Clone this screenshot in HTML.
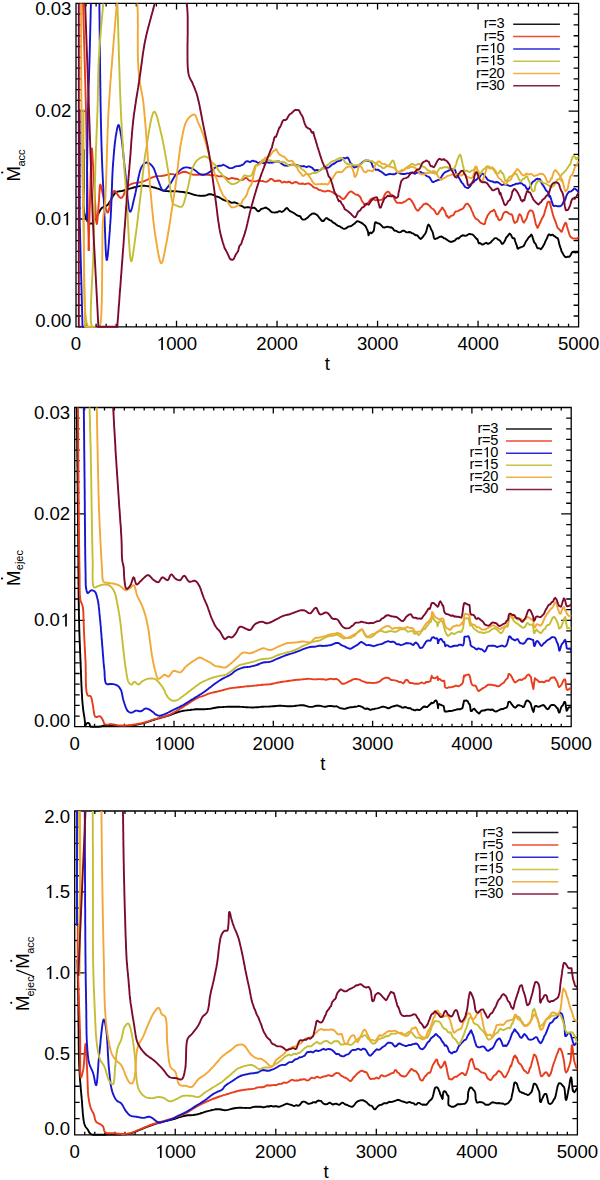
<!DOCTYPE html>
<html><head><meta charset="utf-8"><style>html,body{margin:0;padding:0;background:#fff;width:600px;height:1180px;overflow:hidden}svg{display:block}</style></head><body>
<svg width="600" height="1180" viewBox="0 0 600 1180">
<rect width="600" height="1180" fill="#fff"/>
<g font-family='"Liberation Sans", sans-serif' font-size="18.6" fill="#000">
<clipPath id="c1"><rect x="76" y="3.4" width="502.6" height="324.6"/></clipPath>
<path d="M76,3.4H578.6V326.8H76Z M76,326.8v-6.0 M76,3.4v6.0 M86.05,326.8v-3.0 M86.05,3.4v3.0 M96.1,326.8v-3.0 M96.1,3.4v3.0 M106.16,326.8v-3.0 M106.16,3.4v3.0 M116.21,326.8v-3.0 M116.21,3.4v3.0 M126.26,326.8v-3.0 M126.26,3.4v3.0 M136.31,326.8v-3.0 M136.31,3.4v3.0 M146.36,326.8v-3.0 M146.36,3.4v3.0 M156.42,326.8v-3.0 M156.42,3.4v3.0 M166.47,326.8v-3.0 M166.47,3.4v3.0 M176.52,326.8v-6.0 M176.52,3.4v6.0 M186.57,326.8v-3.0 M186.57,3.4v3.0 M196.62,326.8v-3.0 M196.62,3.4v3.0 M206.68,326.8v-3.0 M206.68,3.4v3.0 M216.73,326.8v-3.0 M216.73,3.4v3.0 M226.78,326.8v-3.0 M226.78,3.4v3.0 M236.83,326.8v-3.0 M236.83,3.4v3.0 M246.88,326.8v-3.0 M246.88,3.4v3.0 M256.94,326.8v-3.0 M256.94,3.4v3.0 M266.99,326.8v-3.0 M266.99,3.4v3.0 M277.04,326.8v-6.0 M277.04,3.4v6.0 M287.09,326.8v-3.0 M287.09,3.4v3.0 M297.14,326.8v-3.0 M297.14,3.4v3.0 M307.2,326.8v-3.0 M307.2,3.4v3.0 M317.25,326.8v-3.0 M317.25,3.4v3.0 M327.3,326.8v-3.0 M327.3,3.4v3.0 M337.35,326.8v-3.0 M337.35,3.4v3.0 M347.4,326.8v-3.0 M347.4,3.4v3.0 M357.46,326.8v-3.0 M357.46,3.4v3.0 M367.51,326.8v-3.0 M367.51,3.4v3.0 M377.56,326.8v-6.0 M377.56,3.4v6.0 M387.61,326.8v-3.0 M387.61,3.4v3.0 M397.66,326.8v-3.0 M397.66,3.4v3.0 M407.72,326.8v-3.0 M407.72,3.4v3.0 M417.77,326.8v-3.0 M417.77,3.4v3.0 M427.82,326.8v-3.0 M427.82,3.4v3.0 M437.87,326.8v-3.0 M437.87,3.4v3.0 M447.92,326.8v-3.0 M447.92,3.4v3.0 M457.98,326.8v-3.0 M457.98,3.4v3.0 M468.03,326.8v-3.0 M468.03,3.4v3.0 M478.08,326.8v-6.0 M478.08,3.4v6.0 M488.13,326.8v-3.0 M488.13,3.4v3.0 M498.18,326.8v-3.0 M498.18,3.4v3.0 M508.24,326.8v-3.0 M508.24,3.4v3.0 M518.29,326.8v-3.0 M518.29,3.4v3.0 M528.34,326.8v-3.0 M528.34,3.4v3.0 M538.39,326.8v-3.0 M538.39,3.4v3.0 M548.44,326.8v-3.0 M548.44,3.4v3.0 M558.5,326.8v-3.0 M558.5,3.4v3.0 M568.55,326.8v-3.0 M568.55,3.4v3.0 M578.6,326.8v-6.0 M578.6,3.4v6.0 M76,326.8h10.0 M578.6,326.8h-10.0 M76,316.02h5.0 M578.6,316.02h-5.0 M76,305.24h5.0 M578.6,305.24h-5.0 M76,294.46h5.0 M578.6,294.46h-5.0 M76,283.68h5.0 M578.6,283.68h-5.0 M76,272.9h5.0 M578.6,272.9h-5.0 M76,262.12h5.0 M578.6,262.12h-5.0 M76,251.34h5.0 M578.6,251.34h-5.0 M76,240.56h5.0 M578.6,240.56h-5.0 M76,229.78h5.0 M578.6,229.78h-5.0 M76,219h10.0 M578.6,219h-10.0 M76,208.22h5.0 M578.6,208.22h-5.0 M76,197.44h5.0 M578.6,197.44h-5.0 M76,186.66h5.0 M578.6,186.66h-5.0 M76,175.88h5.0 M578.6,175.88h-5.0 M76,165.1h5.0 M578.6,165.1h-5.0 M76,154.32h5.0 M578.6,154.32h-5.0 M76,143.54h5.0 M578.6,143.54h-5.0 M76,132.76h5.0 M578.6,132.76h-5.0 M76,121.98h5.0 M578.6,121.98h-5.0 M76,111.2h10.0 M578.6,111.2h-10.0 M76,100.42h5.0 M578.6,100.42h-5.0 M76,89.64h5.0 M578.6,89.64h-5.0 M76,78.86h5.0 M578.6,78.86h-5.0 M76,68.08h5.0 M578.6,68.08h-5.0 M76,57.3h5.0 M578.6,57.3h-5.0 M76,46.52h5.0 M578.6,46.52h-5.0 M76,35.74h5.0 M578.6,35.74h-5.0 M76,24.96h5.0 M578.6,24.96h-5.0 M76,14.18h5.0 M578.6,14.18h-5.0 M76,3.4h10.0 M578.6,3.4h-10.0" fill="none" stroke="#000" stroke-width="1.3"/>
<g clip-path="url(#c1)" fill="none" stroke-width="1.9" stroke-linejoin="round" stroke-linecap="round">
<polyline stroke="#000000" points="83.8,150.0 83.8,151.5 83.8,152.9 83.8,154.4 83.8,155.9 83.8,157.4 83.8,158.9 83.8,160.4 83.8,161.9 83.8,163.4 83.8,164.8 83.8,166.3 83.8,167.8 83.8,169.3 83.8,170.8 83.8,172.3 83.8,173.7 83.8,175.2 83.8,176.6 83.8,178.0 83.8,179.5 83.8,180.9 83.8,182.3 83.8,183.6 83.8,185.0 83.8,186.6 83.8,188.1 83.7,189.7 83.7,191.3 83.6,192.8 83.6,194.4 83.5,195.9 83.5,197.5 83.5,199.0 83.4,200.4 83.4,201.9 83.4,203.3 83.4,204.7 83.5,206.1 83.6,207.4 83.7,208.6 83.8,209.8 84.0,211.0 84.3,212.7 84.7,214.4 85.1,216.0 85.6,217.5 86.2,218.9 86.7,220.1 87.3,221.2 88.0,222.0 89.1,223.0 90.4,223.6 91.6,223.6 92.4,223.2 93.2,222.3 94.0,221.3 94.8,220.0 95.5,218.7 96.3,217.5 97.0,216.4 97.6,215.1 98.3,213.8 98.9,212.5 99.6,211.2 100.3,210.0 101.0,208.9 101.8,208.0 102.8,207.3 103.9,206.8 105.0,206.5 106.1,206.0 107.2,205.3 108.0,204.5 108.8,203.4 109.5,202.2 110.3,200.9 111.1,199.4 111.9,198.0 112.7,196.6 113.5,195.3 114.3,194.1 115.1,193.1 116.0,192.4 117.3,191.7 118.6,191.4 119.9,191.2 121.3,191.1 122.7,190.8 124.0,190.4 125.3,190.0 126.7,189.6 128.1,189.1 129.5,188.7 131.0,188.3 132.4,187.9 133.8,187.5 135.2,187.1 136.7,186.8 138.2,186.4 139.7,186.1 141.2,185.9 142.7,185.8 144.2,185.8 145.6,185.9 147.1,186.1 148.6,186.3 150.0,186.5 151.5,186.8 152.9,187.2 154.3,187.5 155.6,187.9 156.8,188.3 158.1,188.7 159.3,189.2 160.5,189.7 161.7,190.1 163.0,190.5 164.3,190.8 165.7,191.0 167.1,191.1 168.6,191.2 170.1,191.2 171.6,191.2 173.1,191.2 174.5,191.2 176.0,191.3 177.4,191.4 178.8,191.6 180.2,191.7 181.6,191.9 183.0,192.0 184.4,192.2 185.8,192.5 187.2,192.7 188.6,193.0 190.0,193.4 191.4,193.8 192.8,194.3 194.1,194.8 195.5,195.1 196.9,195.4 198.3,195.6 199.7,195.7 201.1,195.9 202.5,195.8 203.9,195.7 205.3,195.6 206.7,195.2 208.1,194.5 209.5,194.2 210.9,194.3 212.3,194.6 213.7,195.0 215.1,195.9 216.5,196.6 217.9,196.8 219.3,197.4 220.7,198.3 222.1,199.1 223.5,199.9 224.9,200.5 226.3,200.7 227.7,200.8 229.1,201.4 230.5,202.3 231.9,202.8 233.3,202.6 234.7,202.3 236.0,202.8 237.4,203.4 238.8,204.3 240.2,205.6 241.6,205.9 243.0,206.8 244.4,207.7 245.8,207.4 247.2,207.2 248.6,207.1 250.0,207.6 251.4,208.1 252.8,207.8 254.2,207.6 255.6,208.7 257.0,210.5 258.4,211.4 259.8,210.4 261.2,209.0 262.6,208.6 264.0,208.2 265.4,207.5 266.7,208.0 268.1,209.0 269.4,209.9 270.7,211.4 272.0,212.2 273.3,212.4 274.7,212.6 276.0,212.3 277.4,212.3 278.8,211.3 280.3,211.2 281.7,212.0 283.1,211.3 284.5,210.1 285.9,208.4 287.2,208.0 288.7,209.9 290.1,211.2 291.5,211.8 292.9,212.5 294.2,213.3 295.6,214.3 296.8,215.1 298.0,215.8 299.2,216.0 300.4,216.5 301.5,218.5 302.7,219.6 303.9,219.6 305.1,219.4 306.2,218.5 307.4,217.9 308.6,216.6 309.8,215.3 311.0,214.6 312.3,213.6 313.6,213.5 315.0,213.8 316.4,214.5 317.8,215.7 319.2,217.6 320.7,219.5 322.1,221.0 323.5,221.1 324.8,219.4 326.0,218.2 327.2,218.3 328.5,219.4 329.7,220.1 331.0,220.5 332.2,221.7 333.4,222.7 334.7,223.3 336.1,224.5 337.5,225.6 338.8,226.0 340.2,226.7 341.6,227.6 343.0,228.6 344.4,228.9 345.8,228.4 347.2,227.4 348.6,226.5 350.1,226.4 351.5,225.9 352.9,224.7 354.3,223.8 355.7,222.4 357.0,221.3 358.5,221.4 360.0,222.1 361.5,222.9 363.0,223.9 364.3,225.1 365.4,226.0 366.2,227.5 366.9,229.2 367.5,230.3 368.0,231.9 368.5,235.3 369.0,234.5 369.6,233.1 370.4,232.5 371.3,233.2 372.2,232.6 373.1,231.6 373.8,230.6 374.3,227.6 374.5,225.9 374.7,224.2 375.0,222.6 375.4,222.4 376.0,222.3 376.9,222.9 377.9,223.4 379.1,223.5 380.4,224.5 381.8,225.9 383.1,227.3 384.4,227.5 385.8,227.1 387.2,226.8 388.6,226.9 390.0,227.5 391.4,227.3 392.8,228.4 394.2,230.5 395.5,230.7 396.9,231.2 398.3,232.1 399.7,232.4 401.1,231.8 402.5,230.7 403.9,230.6 405.3,231.6 406.7,232.4 408.1,232.3 409.5,232.0 410.9,232.4 412.0,233.3 413.2,233.4 414.3,234.2 415.5,235.3 416.6,235.1 417.6,235.6 418.7,237.1 419.7,238.3 420.7,239.0 421.6,238.3 422.4,237.4 423.2,236.5 424.0,235.2 424.8,234.3 425.5,233.2 426.3,231.4 427.0,228.5 427.7,225.7 428.4,224.6 429.1,225.0 429.8,226.2 430.5,227.6 431.2,229.7 431.8,230.3 432.5,231.9 433.1,233.7 433.8,237.3 434.5,238.9 435.3,239.0 436.1,238.5 437.4,238.3 438.7,237.4 440.2,236.7 441.6,236.5 443.0,237.4 444.2,238.4 445.3,238.5 446.4,239.4 447.6,240.2 448.8,241.1 450.0,241.7 451.2,241.8 452.4,241.7 453.6,240.9 454.8,240.7 456.1,239.1 457.4,238.2 458.6,238.5 459.8,237.2 461.2,236.1 462.6,235.3 464.0,235.5 465.4,235.9 466.8,235.4 468.2,234.4 469.6,233.9 471.0,234.2 472.4,234.4 473.7,235.5 474.9,237.0 476.0,238.1 476.8,239.3 477.3,239.0 477.8,240.4 478.2,241.7 478.7,243.3 479.5,243.0 480.7,243.5 482.1,244.6 483.6,244.3 485.1,243.2 486.4,242.8 487.5,243.7 488.6,243.7 489.6,243.0 490.6,242.7 491.6,241.4 492.5,240.4 493.4,239.6 494.3,238.5 495.1,238.1 496.0,238.1 496.8,238.4 497.6,239.1 498.3,239.7 499.0,240.0 499.8,240.6 500.5,241.2 501.2,242.7 502.0,243.9 502.7,243.8 503.5,243.0 504.3,241.8 505.0,240.6 505.8,238.5 506.6,237.0 507.4,236.4 508.2,235.4 508.9,234.2 509.8,233.6 510.7,234.4 511.6,236.2 512.4,237.9 513.3,238.4 513.9,238.1 514.5,238.5 515.1,241.0 515.7,242.7 516.3,244.4 516.9,246.0 517.5,248.5 518.1,248.7 518.7,248.2 519.3,247.7 520.1,247.6 521.0,247.1 521.9,246.9 522.8,246.5 523.7,245.9 524.5,244.6 525.4,242.5 526.3,240.9 527.2,239.7 528.1,238.2 529.0,237.0 529.8,236.7 530.6,235.3 531.5,234.6 532.4,236.5 533.2,239.4 534.0,241.9 534.9,243.2 535.6,243.9 536.4,245.7 537.1,247.7 537.9,248.3 538.6,248.3 539.4,248.4 540.1,248.6 540.8,249.2 541.4,248.8 542.0,247.8 542.6,247.1 543.3,245.8 543.9,244.7 544.6,243.5 545.3,241.6 546.1,239.9 547.0,238.2 547.8,236.2 548.7,234.4 549.6,234.4 550.5,235.3 551.4,235.1 552.3,234.7 553.2,235.2 554.1,236.0 555.0,236.3 555.9,237.3 556.7,237.9 557.5,237.9 558.2,239.3 558.8,241.8 559.3,244.4 559.8,245.9 560.3,247.4 560.9,248.8 561.4,251.0 562.0,252.1 562.7,253.3 563.7,255.0 564.7,256.6 565.8,257.2 566.8,257.0 567.9,256.7 568.9,256.9 569.9,256.2 570.9,254.5 571.9,252.6 573.0,251.7 574.3,252.4 575.6,252.5 577.0,252.1 578.3,252.4"/>
<polyline stroke="#e83c1c" points="83.0,0.0 86.0,110.0 88.0,220.0 89.0,250.0"/>
<polyline stroke="#e83c1c" points="88.5,250.0 88.5,248.5 88.6,247.1 88.6,245.6 88.7,244.1 88.7,242.7 88.8,241.2 88.8,239.7 88.8,238.3 88.9,236.8 88.9,235.3 89.0,233.9 89.0,232.4 89.1,230.9 89.1,229.5 89.1,228.0 89.2,226.5 89.2,225.1 89.3,223.6 89.3,222.1 89.4,220.6 89.4,219.2 89.5,217.7 89.5,216.2 89.5,214.8 89.6,213.3 89.6,211.8 89.7,210.3 89.7,208.9 89.8,207.4 89.8,205.9 89.9,204.4 89.9,203.0 90.0,201.5 90.0,200.0 90.0,198.5 90.1,196.9 90.1,195.3 90.2,193.5 90.2,191.8 90.3,189.9 90.3,188.1 90.4,186.2 90.4,184.2 90.5,182.3 90.5,180.3 90.6,178.3 90.6,176.4 90.7,174.4 90.7,172.5 90.8,170.6 90.8,168.7 90.9,166.8 90.9,165.0 91.0,163.3 91.0,161.6 91.1,160.0 91.1,158.4 91.2,156.9 91.2,155.6 91.3,154.3 91.4,153.1 91.4,152.0 91.5,151.1 91.5,150.3 91.6,149.6 91.6,149.0 91.7,148.6 91.7,148.4 91.8,148.3 91.9,148.5 92.0,149.1 92.1,150.0 92.2,151.2 92.3,152.6 92.4,154.2 92.5,155.9 92.6,157.7 92.7,159.6 92.8,161.5 92.9,163.3 93.0,165.0 93.1,166.2 93.2,167.5 93.2,168.8 93.3,170.2 93.4,171.6 93.5,173.0 93.6,174.5 93.6,176.0 93.7,177.5 93.8,179.0 93.9,180.6 94.0,182.1 94.1,183.7 94.1,185.2 94.2,186.8 94.3,188.3 94.4,189.9 94.5,191.4 94.6,192.9 94.7,194.4 94.7,195.9 94.8,197.3 94.9,198.7 95.0,200.0 95.1,201.6 95.2,203.3 95.3,205.1 95.4,207.0 95.5,208.9 95.6,210.7 95.7,212.6 95.8,214.4 95.9,216.1 96.0,217.8 96.1,219.3 96.2,220.6 96.3,221.7 96.5,222.7 96.6,223.4 96.7,223.8 96.8,224.0 96.9,223.8 97.0,223.3 97.2,222.6 97.3,221.5 97.4,220.3 97.6,218.9 97.7,217.3 97.8,215.6 98.0,213.8 98.1,211.9 98.3,210.0 98.4,208.1 98.5,206.3 98.6,204.5 98.8,202.9 98.9,201.4 99.0,200.0 99.1,198.4 99.2,196.6 99.3,194.7 99.4,192.9 99.5,191.1 99.6,189.4 99.7,187.8 99.8,186.5 99.9,185.5 100.1,184.8 100.3,184.6 100.6,184.9 100.9,185.7 101.2,186.8 101.5,188.3 101.9,190.0 102.2,191.7 102.6,193.4 103.0,195.0 103.3,196.3 103.7,197.8 104.0,199.5 104.4,201.2 104.7,203.0 105.1,204.8 105.5,206.6 105.9,208.2 106.3,209.6 106.6,210.8 107.0,211.8 107.4,212.4 107.7,212.6 108.1,212.3 108.5,211.5 108.8,210.2 109.2,208.6 109.5,206.8 109.9,205.0 110.2,203.1 110.6,201.4 111.0,200.0 111.4,198.5 111.8,196.8 112.2,195.1 112.6,193.5 113.1,192.2 113.6,191.2 114.3,190.8 115.1,191.1 116.0,192.1 116.9,193.6 118.0,195.1 119.0,196.6 120.0,197.6 121.0,198.0 121.7,197.7 122.4,197.0 123.1,196.0 123.8,194.7 124.4,193.2 125.1,191.6 125.8,190.0 126.6,188.5 127.4,187.1 128.3,185.9 129.3,185.0 130.4,184.3 131.7,183.8 133.0,183.4 134.3,183.1 135.7,182.9 137.2,182.7 138.6,182.6 140.0,182.3 141.4,182.1 142.7,181.7 144.0,181.2 145.4,180.6 146.7,180.0 148.0,179.4 149.3,178.7 150.6,178.1 151.8,177.6 153.1,177.1 154.3,176.7 155.8,176.4 157.2,176.2 158.6,176.1 159.9,176.1 161.3,176.0 162.7,175.8 164.1,175.5 165.6,175.2 167.0,174.8 168.4,174.4 169.7,174.1 171.0,174.0 172.3,174.1 173.5,174.3 174.7,174.6 176.0,174.6 177.3,174.3 178.7,173.8 180.1,173.1 181.5,172.5 183.0,172.0 184.4,171.8 185.8,172.0 187.1,172.4 188.5,173.0 189.9,173.7 191.3,174.2 192.8,174.6 194.1,174.7 195.4,174.8 196.8,174.9 198.2,174.8 199.6,174.6 201.1,174.5 202.5,174.7 204.0,174.8 205.3,174.7 206.7,174.7 208.1,174.8 209.5,175.0 210.9,175.2 212.3,175.3 213.7,175.2 215.1,175.3 216.5,175.7 217.9,176.2 219.3,176.4 220.7,176.3 222.1,176.3 223.5,176.4 224.9,176.9 226.3,177.9 227.7,178.8 229.1,179.0 230.5,178.4 231.9,177.8 233.3,178.2 234.7,178.8 236.1,178.8 237.5,179.0 238.8,179.8 240.2,180.2 241.6,180.1 243.0,179.9 244.4,178.7 245.8,177.7 247.2,178.5 248.6,180.1 250.0,180.9 251.3,180.8 252.7,181.1 254.1,181.4 255.5,181.4 256.9,180.9 258.4,180.3 259.8,180.7 261.2,181.1 262.7,181.0 264.2,181.6 265.7,181.9 267.3,181.5 268.8,180.5 270.3,179.0 271.8,178.9 273.2,180.0 274.6,181.2 276.0,181.0 277.5,180.7 278.9,180.5 280.4,180.9 281.7,182.5 283.1,182.4 284.4,181.7 285.8,182.3 287.2,182.4 288.6,181.7 290.0,182.0 291.4,183.3 292.8,183.2 294.1,182.4 295.5,182.0 296.9,182.3 298.3,183.3 299.7,183.9 301.1,183.7 302.5,183.5 303.9,183.9 305.3,184.2 306.7,183.7 308.1,183.3 309.5,183.8 310.8,184.7 312.0,185.6 313.3,187.1 314.5,187.8 315.7,187.9 316.9,188.3 318.2,189.4 319.4,190.1 320.7,190.1 322.1,190.8 323.5,191.3 324.9,191.5 326.3,191.1 327.7,190.6 329.1,190.9 330.5,191.4 331.9,191.8 333.2,192.8 334.5,193.5 335.8,194.2 337.0,195.3 338.3,195.8 339.5,196.2 340.8,197.4 341.9,198.6 343.0,199.1 344.3,198.6 345.5,197.1 346.6,195.6 347.7,194.1 348.8,192.7 350.0,191.6 351.4,191.5 352.8,192.4 354.2,193.4 355.6,194.6 357.0,194.8 358.0,194.8 358.9,195.9 359.9,196.6 360.8,198.1 361.7,200.5 362.6,201.8 363.6,203.1 364.5,204.8 365.4,205.5 366.6,204.7 367.8,203.4 369.0,201.6 370.2,199.7 371.3,198.8 372.4,198.4 373.6,199.1 374.7,200.1 376.0,200.2 377.0,199.8 378.2,200.0 379.5,200.2 380.7,199.9 382.0,199.8 383.3,198.1 384.4,195.3 385.6,193.3 386.8,192.1 387.9,191.7 389.0,192.1 390.0,193.8 390.9,194.9 391.6,194.8 392.3,195.1 393.0,196.0 393.8,197.6 394.6,199.3 395.6,201.1 396.8,202.7 398.2,202.9 399.7,202.6 401.2,203.1 402.7,202.7 404.0,201.8 405.2,201.6 406.3,200.6 407.4,199.6 408.4,199.2 409.5,198.7 410.4,199.4 411.3,200.4 412.3,201.9 413.2,203.5 414.1,205.2 415.1,207.5 416.0,209.1 417.0,210.1 417.9,210.7 419.1,209.7 420.2,207.9 421.4,207.2 422.5,205.7 423.7,204.2 424.9,204.0 426.1,203.5 427.3,204.0 428.5,205.0 429.7,205.8 430.8,207.4 431.9,208.5 433.0,209.0 433.9,209.7 434.8,210.9 435.7,212.9 436.6,214.0 437.5,214.2 438.4,213.5 439.3,211.6 440.3,210.5 441.2,209.2 442.1,207.5 443.0,208.0 443.7,209.7 444.3,210.4 444.9,211.1 445.5,212.8 446.0,214.6 446.6,216.3 447.2,215.7 447.9,216.8 448.6,217.9 449.5,217.6 450.4,216.3 451.3,215.7 452.3,215.6 453.3,215.3 454.4,213.2 455.6,211.4 456.7,211.4 457.9,211.1 459.2,210.4 460.6,209.7 461.9,209.1 463.3,208.3 464.6,206.0 465.7,204.2 466.8,203.8 467.9,203.8 469.0,205.3 469.9,206.6 470.8,208.0 471.6,210.3 472.4,211.9 473.1,213.3 473.6,215.4 474.1,216.0 474.6,216.8 475.2,218.0 476.0,218.8 477.0,219.3 478.2,220.0 479.4,221.6 480.7,222.9 481.9,223.4 483.0,223.9 483.8,224.2 484.5,224.2 485.1,223.1 485.7,220.0 486.3,218.4 486.8,218.0 487.4,215.8 488.1,214.8 488.9,213.8 489.8,212.5 490.7,211.8 491.6,211.1 492.5,211.0 493.3,210.4 493.9,209.7 494.5,211.0 495.1,211.3 495.6,213.0 496.1,214.9 496.7,216.6 497.3,216.3 497.9,217.9 498.5,219.6 499.3,220.2 500.1,219.8 500.9,219.5 501.8,218.2 502.7,215.4 503.6,213.1 504.6,212.2 505.8,211.8 507.0,212.0 508.3,212.9 509.6,214.0 510.7,214.5 511.6,214.2 512.4,215.5 513.1,218.7 513.8,221.2 514.5,222.8 515.2,222.9 515.9,222.2 516.6,221.9 517.4,220.7 518.1,218.1 518.8,215.5 519.5,214.2 520.2,214.5 520.9,215.5 521.6,217.2 522.2,219.5 522.9,221.5 523.7,222.6 524.4,222.2 525.1,220.6 525.9,219.5 526.7,218.1 527.6,214.9 528.4,212.5 529.2,211.3 530.0,210.5 530.8,210.3 531.5,210.6 532.1,210.9 532.6,211.2 533.1,212.5 533.6,214.0 534.0,215.8 534.4,217.8 534.9,219.7 535.3,221.7 535.7,223.5 536.1,225.0 536.6,225.6 537.0,226.8 537.5,227.9 538.1,227.2 538.8,225.4 539.4,224.1 540.1,222.8 540.7,221.5 541.4,219.8 542.1,218.2 542.7,217.4 543.2,216.6 543.8,215.2 544.3,213.6 544.8,211.8 545.3,210.1 545.8,208.4 546.3,206.8 546.8,205.3 547.3,202.9 547.8,202.2 548.3,201.6 548.8,201.8 549.3,202.2 549.8,201.8 550.2,204.4 550.7,205.8 551.1,207.4 551.6,209.2 552.0,211.0 552.5,212.9 552.9,214.7 553.5,216.4 554.0,217.9 554.6,219.3 555.2,220.9 555.8,222.5 556.4,224.2 557.1,226.4 557.7,228.0 558.4,228.6 559.1,229.1 559.7,229.9 560.3,230.5 560.9,231.4 561.7,231.8 562.4,230.2 563.1,227.8 563.8,226.1 564.5,224.5 565.3,222.8 565.8,222.8 566.4,223.5 566.9,226.2 567.4,227.7 567.9,229.5 568.5,231.3 569.0,233.2 569.6,235.0 570.2,236.5 570.8,237.0 571.5,237.4 572.2,238.2 573.3,238.6 574.5,238.4 575.8,238.7 577.1,238.7 578.3,237.3"/>
<polyline stroke="#1616d2" points="91.0,0.0 91.0,1.5 90.9,2.9 90.9,4.4 90.9,5.9 90.8,7.4 90.8,8.8 90.7,10.3 90.7,11.8 90.7,13.3 90.6,14.8 90.6,16.2 90.6,17.7 90.5,19.2 90.5,20.7 90.5,22.2 90.4,23.7 90.4,25.2 90.3,26.6 90.3,28.1 90.3,29.6 90.2,31.1 90.2,32.6 90.2,34.0 90.1,35.5 90.1,37.0 90.1,38.5 90.0,39.9 90.0,41.4 89.9,42.8 89.9,44.3 89.9,45.7 89.8,47.2 89.8,48.6 89.8,50.1 89.7,51.5 89.7,52.9 89.7,54.4 89.6,55.8 89.6,57.2 89.5,58.6 89.5,60.0 89.5,61.5 89.4,63.1 89.4,64.6 89.3,66.1 89.3,67.6 89.2,69.1 89.2,70.6 89.1,72.1 89.1,73.6 89.0,75.0 89.0,76.5 89.0,78.0 88.9,79.4 88.9,80.9 88.8,82.4 88.8,83.8 88.7,85.3 88.7,86.7 88.6,88.2 88.6,89.6 88.5,91.1 88.5,92.5 88.4,94.0 88.4,95.4 88.4,96.9 88.3,98.3 88.3,99.8 88.2,101.2 88.2,102.7 88.1,104.1 88.1,105.6 88.1,107.1 88.0,108.5 88.0,110.0 88.0,111.5 87.9,112.9 87.9,114.4 87.9,115.9 87.8,117.3 87.8,118.8 87.8,120.2 87.8,121.7 87.7,123.1 87.7,124.6 87.7,126.0 87.6,127.5 87.6,128.9 87.6,130.4 87.6,131.8 87.5,133.3 87.5,134.7 87.5,136.2 87.5,137.6 87.5,139.1 87.4,140.5 87.4,142.0 87.4,143.5 87.4,145.0 87.4,146.4 87.3,147.9 87.3,149.4 87.3,150.9 87.3,152.4 87.3,153.9 87.2,155.4 87.2,156.9 87.2,158.5 87.2,160.0 87.2,161.4 87.2,162.8 87.2,164.2 87.2,165.6 87.1,167.1 87.1,168.5 87.1,169.9 87.1,171.4 87.1,172.8 87.1,174.3 87.1,175.7 87.1,177.2 87.1,178.6 87.1,180.1 87.1,181.5 87.1,183.0 87.1,184.5 87.1,186.0 87.1,187.4 87.1,188.9 87.1,190.4 87.1,191.9 87.0,193.4 87.0,194.8 87.0,196.3 87.0,197.8 87.0,199.3 87.0,200.8 87.0,202.3 87.0,203.8 87.0,205.2 87.0,206.7 87.0,208.2 87.0,209.7 87.0,211.2 87.0,212.6 87.0,214.1 87.0,215.6 87.0,217.1 87.0,218.5 87.0,220.0"/>
<polyline stroke="#1616d2" points="79.7,110.0 79.7,220.0 82.5,326.8 84.5,326.8"/>
<polyline stroke="#1616d2" points="99.3,0.0 99.3,1.5 99.3,3.0 99.4,4.5 99.4,6.0 99.4,7.5 99.4,9.0 99.4,10.6 99.4,12.1 99.5,13.7 99.5,15.2 99.5,16.8 99.5,18.3 99.5,19.9 99.6,21.4 99.6,23.0 99.6,24.6 99.6,26.1 99.6,27.7 99.6,29.3 99.7,30.9 99.7,32.5 99.7,34.0 99.7,35.6 99.7,37.2 99.7,38.8 99.8,40.4 99.8,41.9 99.8,43.5 99.8,45.1 99.8,46.7 99.9,48.3 99.9,49.8 99.9,51.4 99.9,53.0 99.9,54.6 99.9,56.1 100.0,57.7 100.0,59.2 100.0,60.8 100.0,62.3 100.0,63.9 100.1,65.4 100.1,66.9 100.1,68.5 100.1,70.0 100.1,71.5 100.1,73.0 100.2,74.5 100.2,76.0 100.2,77.5 100.2,79.0 100.2,80.4 100.3,81.9 100.3,83.4 100.3,84.8 100.3,86.2 100.3,87.6 100.4,89.1 100.4,90.5 100.4,91.9 100.4,93.2 100.4,94.6 100.5,96.0 100.5,97.3 100.5,98.6 100.5,99.9 100.5,101.3 100.6,102.5 100.6,103.8 100.6,105.1 100.6,106.3 100.7,107.6 100.7,108.8 100.7,110.0 100.7,111.7 100.8,113.5 100.8,115.1 100.8,116.8 100.9,118.4 100.9,120.0 100.9,121.6 101.0,123.2 101.0,124.7 101.0,126.2 101.1,127.8 101.1,129.2 101.1,130.7 101.2,132.2 101.2,133.6 101.2,135.0 101.3,136.5 101.3,137.9 101.3,139.3 101.4,140.7 101.4,142.0 101.5,143.4 101.5,144.8 101.5,146.2 101.6,147.5 101.6,148.9 101.7,150.3 101.7,151.7 101.8,153.0 101.8,154.4 101.9,155.8 101.9,157.2 101.9,158.6 102.0,160.0 102.1,161.5 102.1,163.0 102.2,164.6 102.2,166.0 102.3,167.5 102.4,169.0 102.4,170.5 102.5,171.9 102.6,173.4 102.6,174.8 102.7,176.3 102.8,177.7 102.8,179.2 102.9,180.6 103.0,182.0 103.0,183.5 103.1,184.9 103.2,186.4 103.3,187.9 103.3,189.3 103.4,190.8 103.5,192.3 103.5,193.8 103.6,195.3 103.7,196.8 103.8,198.3 103.8,199.9 103.9,201.4 104.0,203.0 104.1,204.4 104.1,205.9 104.2,207.4 104.3,209.1 104.3,210.7 104.4,212.5 104.4,214.3 104.5,216.1 104.6,217.9 104.6,219.8 104.7,221.7 104.8,223.7 104.8,225.6 104.9,227.6 105.0,229.5 105.0,231.5 105.1,233.4 105.2,235.3 105.2,237.2 105.3,239.0 105.4,240.8 105.4,242.6 105.5,244.3 105.6,246.0 105.6,247.6 105.7,249.1 105.8,250.6 105.9,252.0 105.9,253.3 106.0,254.5 106.1,255.6 106.2,256.5 106.3,257.4 106.4,258.2 106.4,258.8 106.5,259.3 106.6,259.7 106.7,259.9 106.8,260.0 106.9,259.9 107.0,259.6 107.2,259.1 107.3,258.4 107.4,257.6 107.6,256.6 107.7,255.5 107.9,254.2 108.0,252.8 108.1,251.3 108.3,249.8 108.4,248.1 108.6,246.3 108.7,244.5 108.9,242.6 109.0,240.7 109.2,238.7 109.3,236.8 109.5,234.8 109.6,232.8 109.8,230.9 109.9,228.9 110.0,227.0 110.1,225.2 110.3,223.4 110.4,221.6 110.5,220.0 110.6,218.6 110.7,217.2 110.8,215.8 110.8,214.3 110.9,212.9 111.0,211.4 111.1,209.9 111.1,208.4 111.2,206.9 111.3,205.3 111.3,203.8 111.4,202.2 111.5,200.7 111.5,199.1 111.6,197.5 111.6,195.9 111.7,194.4 111.7,192.8 111.8,191.2 111.8,189.7 111.9,188.1 112.0,186.5 112.0,185.0 112.1,183.4 112.1,181.9 112.2,180.4 112.2,178.9 112.3,177.4 112.4,175.9 112.4,174.5 112.5,173.1 112.6,171.7 112.7,170.3 112.7,168.9 112.8,167.6 112.9,166.3 113.0,165.0 113.1,163.4 113.2,161.7 113.4,160.1 113.5,158.5 113.6,156.9 113.7,155.3 113.9,153.7 114.0,152.2 114.1,150.7 114.3,149.2 114.4,147.7 114.6,146.2 114.7,144.8 114.8,143.5 115.0,142.1 115.2,140.8 115.3,139.6 115.5,138.4 115.6,137.2 115.8,136.1 116.0,135.0 116.3,133.1 116.7,131.2 117.0,129.3 117.4,127.6 117.8,126.2 118.1,125.3 118.5,125.0 118.9,125.3 119.2,126.2 119.6,127.6 119.9,129.2 120.3,131.1 120.7,133.1 121.0,135.0 121.2,136.0 121.4,137.2 121.5,138.3 121.7,139.6 121.9,140.8 122.0,142.2 122.2,143.5 122.4,145.0 122.5,146.4 122.7,147.9 122.8,149.4 123.0,151.0 123.2,152.5 123.3,154.1 123.5,155.7 123.6,157.3 123.8,158.9 124.0,160.5 124.1,162.1 124.3,163.7 124.5,165.3 124.6,166.9 124.8,168.5 125.0,170.0 125.2,171.4 125.3,172.9 125.5,174.6 125.7,176.2 125.8,178.0 126.0,179.8 126.1,181.6 126.3,183.5 126.5,185.4 126.6,187.3 126.8,189.2 127.0,191.1 127.1,193.0 127.3,194.9 127.5,196.7 127.6,198.4 127.8,200.1 128.0,201.7 128.2,203.3 128.4,204.7 128.5,206.1 128.7,207.3 128.9,208.4 129.1,209.3 129.3,210.1 129.5,210.8 129.8,211.3 130.0,211.6 130.2,211.7 130.6,211.5 130.9,210.9 131.3,210.0 131.7,208.8 132.1,207.4 132.5,205.8 132.9,204.0 133.3,202.2 133.7,200.3 134.2,198.4 134.6,196.7 135.0,195.0 135.3,193.7 135.6,192.4 135.9,190.9 136.2,189.4 136.5,187.8 136.8,186.2 137.1,184.6 137.4,183.0 137.7,181.3 138.0,179.7 138.4,178.1 138.7,176.5 139.0,175.0 139.4,173.5 139.7,172.1 140.1,170.8 140.5,169.6 140.9,168.5 141.3,167.5 141.8,166.7 142.7,165.4 143.7,164.2 144.7,163.3 145.7,162.7 146.8,162.5 148.0,162.7 149.2,163.3 150.4,164.3 151.6,165.4 152.7,166.7 153.4,167.7 154.0,168.8 154.5,170.1 155.0,171.5 155.5,172.9 156.0,174.4 156.5,175.9 157.0,177.3 157.5,178.7 158.0,180.0 158.6,181.4 159.1,182.9 159.7,184.4 160.3,186.0 160.9,187.4 161.5,188.7 162.2,189.7 162.8,190.5 163.5,190.8 164.4,190.6 165.4,189.9 166.3,188.9 167.3,187.6 168.3,186.3 169.3,185.0 170.1,184.0 170.8,182.9 171.5,181.7 172.2,180.5 172.9,179.2 173.6,178.0 174.4,176.8 175.2,175.6 176.0,174.6 176.9,173.5 177.9,172.4 178.9,171.4 180.0,170.4 181.1,169.4 182.2,168.6 183.3,168.0 184.4,167.6 185.8,167.4 187.2,167.4 188.6,167.6 190.0,168.0 191.4,168.4 192.8,168.9 194.0,169.5 195.2,170.4 196.4,171.3 197.5,172.4 198.7,173.3 199.9,174.1 201.1,174.6 202.5,174.8 203.8,174.7 205.2,174.3 206.6,173.9 208.1,173.0 209.5,172.1 210.7,171.4 211.9,170.2 213.1,169.1 214.4,168.2 215.6,167.3 216.9,166.5 218.1,166.0 219.4,165.7 220.7,165.8 222.1,165.4 223.5,164.7 224.9,165.5 226.3,166.3 227.7,167.1 229.1,168.1 230.5,168.1 231.9,168.1 233.3,167.7 234.7,166.7 236.1,166.3 237.5,166.1 238.8,166.0 240.2,165.8 241.6,165.2 243.0,164.6 244.4,163.2 245.8,161.6 247.2,161.1 248.6,161.5 250.0,162.1 251.4,161.2 252.8,160.7 254.2,161.3 255.6,161.4 257.0,162.3 258.4,163.2 259.8,162.3 261.2,162.1 262.6,163.0 264.0,163.2 265.4,162.6 266.7,162.0 268.1,162.6 269.4,162.8 270.7,162.4 272.0,162.7 273.4,162.4 274.7,161.8 276.0,161.8 277.4,161.5 278.8,161.2 280.2,162.6 281.6,163.7 283.0,164.6 284.4,165.5 285.8,165.6 287.2,165.9 288.6,165.4 290.0,164.9 291.3,164.8 292.7,164.6 294.1,164.4 295.5,164.8 296.9,165.3 298.3,165.4 299.7,165.8 301.1,166.3 302.5,166.4 303.9,166.0 305.3,166.7 306.7,167.2 308.1,166.4 309.5,166.4 310.9,167.2 312.3,167.8 313.7,169.6 315.1,170.7 316.5,169.9 317.9,170.2 319.3,170.8 320.7,169.9 322.1,168.6 323.5,168.2 324.9,168.3 326.3,167.7 327.6,167.8 329.0,167.4 330.5,166.0 331.9,164.8 333.1,164.0 334.4,163.5 335.7,162.6 337.0,161.6 338.3,161.1 339.6,160.9 340.9,160.4 342.1,158.9 343.4,157.9 344.6,158.2 345.8,158.2 347.0,157.5 348.2,158.0 349.3,160.4 350.4,162.8 351.5,164.0 352.6,165.2 353.7,167.2 354.7,167.6 355.9,166.6 357.0,166.7 358.2,166.0 359.5,164.8 360.8,163.9 362.1,162.6 363.4,161.6 364.7,160.7 365.9,160.4 367.1,160.7 368.2,160.6 369.3,161.2 370.3,161.7 371.2,162.2 372.1,164.6 373.0,166.9 373.9,167.9 374.9,169.0 376.0,169.9 377.1,169.6 378.3,169.7 379.5,170.8 380.7,171.4 382.0,172.2 383.3,173.2 384.6,174.5 385.9,175.2 387.2,174.6 388.6,174.2 389.9,174.0 391.3,174.1 392.7,174.2 394.1,174.3 395.5,173.8 396.9,172.4 398.3,172.4 399.7,173.3 401.1,173.9 402.5,174.0 403.9,174.0 405.3,174.0 406.7,173.4 408.1,173.4 409.5,173.2 410.9,172.7 412.3,172.4 413.7,173.4 415.1,173.7 416.5,172.7 417.9,172.5 419.3,172.1 420.7,171.9 421.9,173.0 423.0,173.3 424.2,173.4 425.4,174.9 426.6,176.0 427.7,176.5 428.9,176.8 430.0,178.0 431.1,180.0 432.2,181.6 433.3,182.2 434.6,181.5 435.8,180.9 437.0,180.5 438.2,179.9 439.4,179.8 440.6,178.2 441.8,176.1 443.0,174.4 444.1,173.0 445.2,172.2 446.4,171.7 447.5,171.2 448.6,170.6 449.8,169.9 450.8,169.4 451.8,169.1 452.8,169.2 453.7,169.3 454.5,169.3 455.3,170.4 456.0,172.8 456.7,174.8 457.4,175.3 458.2,176.1 458.9,177.7 459.8,179.3 460.8,181.1 461.8,182.6 462.8,183.6 463.9,185.3 465.0,186.9 466.1,187.5 467.1,188.0 468.2,188.0 469.3,187.1 470.5,185.9 471.6,183.7 472.7,182.7 473.8,181.9 474.9,180.2 476.0,180.0 477.2,178.9 478.4,177.8 479.6,177.2 480.8,175.3 481.9,173.6 483.0,173.8 484.1,175.0 485.0,176.2 486.0,177.3 487.0,178.9 488.1,180.1 489.4,180.5 490.8,181.3 492.2,181.4 493.7,182.0 495.1,182.5 496.5,182.0 497.9,182.3 499.2,183.1 500.6,184.3 502.0,185.1 503.4,184.5 504.8,184.3 506.1,184.7 507.5,185.1 508.9,185.6 510.3,186.0 511.7,185.6 513.1,184.9 514.5,184.6 515.9,183.7 517.1,183.6 518.3,183.7 519.5,183.2 520.7,183.2 521.8,183.4 522.8,184.4 523.8,185.3 524.7,185.3 525.5,186.3 526.3,188.0 527.2,189.0 528.0,189.3 528.8,188.9 529.7,187.5 530.5,185.8 531.4,184.2 532.2,182.4 533.2,181.6 534.5,180.8 535.8,179.3 537.2,178.8 538.4,179.0 539.2,179.0 540.0,179.3 540.7,180.5 541.4,182.8 542.1,184.2 542.8,185.0 543.6,186.1 544.6,187.8 545.7,189.9 546.7,191.0 547.8,191.8 548.8,194.5 549.4,196.9 550.0,195.9 550.5,197.4 551.0,198.9 551.5,200.5 552.0,202.1 552.5,203.6 553.0,205.3 553.6,205.8 554.2,206.1 554.9,205.7 556.2,205.9 557.6,206.2 558.9,206.2 560.1,206.2 560.9,205.8 561.6,205.3 562.2,204.5 562.8,203.3 563.5,202.0 564.2,201.4 564.9,200.4 565.6,198.6 566.3,196.1 567.1,194.3 567.9,193.2 568.9,191.8 569.9,191.7 571.0,191.4 572.1,190.5 573.0,189.9 574.0,188.7 574.8,188.6 575.7,189.4 576.6,189.9 577.4,190.9 578.3,192.0"/>
<polyline stroke="#c4be34" points="83.5,110.0 83.5,220.0 85.0,326.8 88.0,326.8"/>
<polyline stroke="#c4be34" points="103.5,0.0 103.4,1.5 103.3,2.9 103.1,4.4 103.0,5.9 102.9,7.4 102.8,8.9 102.6,10.3 102.5,11.8 102.4,13.3 102.2,14.8 102.1,16.2 102.0,17.7 101.8,19.2 101.7,20.7 101.6,22.1 101.5,23.6 101.3,25.1 101.2,26.6 101.1,28.1 100.9,29.5 100.8,31.0 100.7,32.5 100.6,34.0 100.4,35.4 100.3,36.9 100.2,38.4 100.1,39.9 100.0,41.3 99.9,42.8 99.8,44.3 99.6,45.7 99.5,47.2 99.4,48.7 99.3,50.1 99.3,51.6 99.2,53.1 99.1,54.5 99.0,56.0 98.9,57.5 98.8,58.9 98.8,60.4 98.7,61.9 98.7,63.4 98.6,64.8 98.5,66.3 98.5,67.8 98.4,69.2 98.4,70.7 98.4,72.2 98.3,73.7 98.3,75.1 98.2,76.6 98.2,78.1 98.2,79.5 98.1,81.0 98.1,82.5 98.1,83.9 98.1,85.4 98.0,86.8 98.0,88.3 98.0,89.8 97.9,91.2 97.9,92.7 97.9,94.1 97.9,95.6 97.8,97.0 97.8,98.5 97.8,99.9 97.7,101.4 97.7,102.8 97.7,104.3 97.6,105.7 97.6,107.1 97.5,108.6 97.5,110.0 97.5,111.5 97.4,113.0 97.3,114.4 97.3,115.9 97.2,117.3 97.2,118.8 97.1,120.2 97.1,121.6 97.0,123.0 97.0,124.4 96.9,125.8 96.9,127.2 96.8,128.6 96.7,130.0 96.7,131.4 96.6,132.8 96.6,134.2 96.5,135.6 96.4,137.0 96.4,138.5 96.3,139.9 96.3,141.4 96.2,142.8 96.2,144.3 96.1,145.8 96.0,147.3 96.0,148.8 95.9,150.3 95.9,151.9 95.8,153.5 95.8,155.1 95.7,156.7 95.7,158.3 95.6,160.0 95.6,161.3 95.5,162.6 95.5,163.9 95.4,165.2 95.4,166.5 95.4,167.8 95.3,169.2 95.3,170.6 95.3,171.9 95.2,173.3 95.2,174.7 95.1,176.1 95.1,177.6 95.1,179.0 95.0,180.5 95.0,181.9 95.0,183.4 94.9,184.8 94.9,186.3 94.8,187.8 94.8,189.3 94.8,190.8 94.7,192.3 94.7,193.8 94.7,195.4 94.6,196.9 94.6,198.4 94.6,200.0 94.5,201.5 94.5,203.0 94.5,204.6 94.4,206.1 94.4,207.7 94.4,209.2 94.3,210.8 94.3,212.3 94.2,213.9 94.2,215.4 94.2,217.0 94.1,218.5 94.1,220.1 94.1,221.6 94.1,223.2 94.0,224.7 94.0,226.2 94.0,227.8 93.9,229.3 93.9,230.8 93.9,232.3 93.8,233.9 93.8,235.4 93.8,236.9 93.7,238.4 93.7,239.8 93.7,241.3 93.6,242.8 93.6,244.2 93.6,245.7 93.6,247.1 93.5,248.6 93.5,250.0 93.5,251.6 93.4,253.2 93.4,254.8 93.3,256.5 93.2,258.2 93.2,259.9 93.1,261.7 93.0,263.5 92.9,265.3 92.8,267.1 92.7,269.0 92.6,270.8 92.5,272.7 92.4,274.6 92.3,276.5 92.2,278.4 92.1,280.3 92.0,282.2 91.9,284.1 91.8,285.9 91.7,287.8 91.6,289.7 91.5,291.5 91.4,293.4 91.3,295.2 91.3,297.0 91.2,298.7 91.1,300.5 91.0,302.2 91.0,303.8 90.9,305.5 90.9,307.1 90.8,308.6 90.8,310.1 90.8,311.6 90.7,313.0 90.7,314.4 90.7,315.7 90.8,316.9 90.8,318.1 90.8,319.3 90.9,320.3 90.9,321.3 91.0,322.3 91.1,323.1 91.2,323.9 91.3,324.6 91.5,325.2 91.6,325.7 91.8,326.2 92.0,326.5 92.2,326.8 93.3,326.8 94.5,326.8"/>
<polyline stroke="#c4be34" points="117.3,0.0 117.3,1.5 117.4,3.0 117.4,4.5 117.5,6.0 117.5,7.5 117.6,9.0 117.6,10.5 117.7,12.0 117.7,13.5 117.8,15.0 117.8,16.5 117.9,18.0 117.9,19.5 118.0,21.0 118.0,22.6 118.0,24.1 118.1,25.6 118.1,27.1 118.2,28.7 118.2,30.2 118.3,31.7 118.3,33.2 118.4,34.8 118.4,36.3 118.4,37.8 118.5,39.4 118.5,40.9 118.6,42.4 118.6,44.0 118.7,45.5 118.7,47.0 118.7,48.6 118.8,50.1 118.8,51.6 118.9,53.1 118.9,54.7 119.0,56.2 119.0,57.7 119.1,59.2 119.1,60.8 119.1,62.3 119.2,63.8 119.2,65.3 119.3,66.8 119.3,68.3 119.4,69.8 119.4,71.3 119.5,72.9 119.5,74.4 119.6,75.8 119.6,77.3 119.7,78.8 119.7,80.3 119.8,81.8 119.8,83.3 119.9,84.8 119.9,86.2 120.0,87.7 120.0,89.2 120.1,90.6 120.1,92.1 120.2,93.5 120.2,95.0 120.3,96.4 120.3,97.8 120.4,99.3 120.4,100.7 120.5,102.1 120.6,103.5 120.6,104.9 120.7,106.3 120.7,107.7 120.8,109.1 120.9,110.5 120.9,111.9 121.0,113.3 121.0,114.6 121.1,116.0 121.2,117.3 121.2,118.7 121.3,120.0 121.4,121.6 121.5,123.2 121.6,124.9 121.6,126.5 121.7,128.1 121.8,129.7 121.9,131.2 122.0,132.8 122.1,134.4 122.2,136.0 122.3,137.5 122.4,139.1 122.5,140.6 122.6,142.2 122.7,143.7 122.8,145.2 122.9,146.7 123.0,148.3 123.1,149.8 123.2,151.3 123.3,152.8 123.4,154.3 123.5,155.8 123.6,157.3 123.7,158.7 123.8,160.2 123.9,161.7 124.0,163.1 124.1,164.6 124.2,166.1 124.3,167.5 124.4,169.0 124.5,170.4 124.6,171.9 124.7,173.3 124.8,174.7 124.9,176.2 125.1,177.6 125.2,179.0 125.3,180.4 125.4,181.8 125.5,183.3 125.6,184.7 125.7,186.1 125.8,187.5 125.9,188.9 126.0,190.3 126.1,191.7 126.2,193.1 126.3,194.5 126.4,195.8 126.5,197.2 126.6,198.6 126.7,200.0 126.8,201.6 126.9,203.3 127.0,205.0 127.1,206.8 127.3,208.7 127.4,210.5 127.5,212.4 127.6,214.3 127.7,216.3 127.8,218.3 127.9,220.2 128.0,222.2 128.1,224.2 128.2,226.2 128.3,228.2 128.4,230.2 128.5,232.1 128.6,234.1 128.7,236.0 128.8,237.9 128.9,239.7 129.0,241.5 129.1,243.3 129.3,245.0 129.4,246.6 129.5,248.2 129.6,249.7 129.7,251.2 129.8,252.5 129.9,253.8 130.0,255.0 130.2,256.2 130.3,257.2 130.4,258.1 130.5,258.9 130.6,259.6 130.8,260.2 130.9,260.7 131.0,261.0 131.2,261.2 131.3,261.3 131.5,261.1 131.8,260.7 132.0,259.9 132.2,258.9 132.5,257.6 132.7,256.2 133.0,254.6 133.2,252.9 133.5,251.1 133.7,249.2 134.0,247.3 134.3,245.4 134.5,243.5 134.8,241.7 135.0,240.0 135.2,238.7 135.4,237.4 135.6,236.1 135.7,234.8 135.9,233.4 136.1,232.0 136.3,230.6 136.5,229.2 136.7,227.8 136.8,226.3 137.0,224.8 137.2,223.3 137.4,221.8 137.6,220.3 137.8,218.8 137.9,217.2 138.1,215.7 138.3,214.1 138.5,212.6 138.7,211.0 138.9,209.4 139.1,207.9 139.2,206.3 139.4,204.7 139.6,203.1 139.8,201.6 140.0,200.0 140.2,198.6 140.3,197.2 140.5,195.8 140.7,194.3 140.8,192.9 141.0,191.4 141.1,190.0 141.3,188.5 141.5,187.0 141.6,185.5 141.8,184.0 141.9,182.5 142.1,181.0 142.3,179.5 142.4,177.9 142.6,176.4 142.7,174.9 142.9,173.4 143.1,171.9 143.2,170.4 143.4,168.9 143.6,167.4 143.8,165.9 144.0,164.4 144.1,162.9 144.3,161.4 144.5,159.9 144.7,158.5 144.9,157.0 145.1,155.6 145.3,154.2 145.6,152.8 145.8,151.4 146.0,150.0 146.3,148.4 146.5,146.8 146.8,145.1 147.1,143.3 147.4,141.5 147.6,139.7 147.9,137.8 148.2,135.9 148.5,134.0 148.8,132.1 149.1,130.3 149.5,128.4 149.8,126.7 150.1,124.9 150.4,123.2 150.7,121.6 151.1,120.1 151.4,118.6 151.7,117.3 152.0,116.1 152.4,115.0 152.7,114.1 153.0,113.2 153.3,112.6 153.7,112.1 154.0,111.8 154.3,111.7 154.7,111.9 155.2,112.3 155.6,113.1 156.1,114.1 156.5,115.4 157.0,116.8 157.5,118.4 157.9,120.1 158.4,122.0 158.8,123.8 159.3,125.7 159.7,127.6 160.2,129.5 160.6,131.3 161.0,133.0 161.3,134.2 161.6,135.5 161.9,136.8 162.2,138.1 162.5,139.5 162.8,140.8 163.1,142.2 163.3,143.7 163.6,145.1 163.9,146.5 164.2,148.0 164.4,149.5 164.7,150.9 165.0,152.4 165.2,153.9 165.5,155.4 165.8,156.9 166.0,158.4 166.3,159.9 166.5,161.3 166.8,162.8 167.0,164.3 167.3,165.7 167.5,167.2 167.8,168.6 168.0,170.0 168.3,171.5 168.5,173.2 168.7,174.8 168.9,176.6 169.1,178.3 169.3,180.1 169.5,181.9 169.7,183.7 169.9,185.5 170.1,187.3 170.3,189.1 170.5,190.8 170.7,192.5 170.9,194.1 171.1,195.6 171.3,197.1 171.5,198.4 171.8,199.7 172.0,200.8 172.3,201.8 172.6,202.7 173.0,203.4 173.3,204.0 174.5,204.9 176.0,205.3 177.3,205.9 178.8,206.5 180.3,206.9 181.6,206.7 182.3,206.2 182.8,205.4 183.4,204.3 183.9,203.0 184.3,201.6 184.8,200.0 185.2,198.4 185.6,196.7 186.0,194.9 186.4,193.2 186.8,191.6 187.2,190.0 187.6,188.7 187.9,187.3 188.3,185.9 188.6,184.4 188.9,182.9 189.2,181.3 189.5,179.8 189.8,178.3 190.2,176.8 190.5,175.3 190.8,173.9 191.2,172.5 191.6,171.1 191.9,169.9 192.4,168.7 192.8,167.6 193.5,166.0 194.2,164.6 194.9,163.3 195.7,162.1 196.5,160.9 197.4,160.1 198.3,159.4 199.4,158.6 200.5,157.8 201.7,157.3 202.9,156.9 204.1,156.4 205.3,156.4 206.5,156.8 207.7,157.7 208.9,158.6 210.0,159.8 211.2,161.4 212.3,162.6 213.2,163.3 214.0,163.9 214.8,164.6 215.7,165.5 216.5,166.6 217.3,168.1 218.1,169.8 219.0,171.2 219.8,172.0 220.7,172.8 221.7,174.0 222.7,175.3 223.7,176.5 224.7,177.7 225.7,178.9 226.8,180.4 227.9,181.6 229.0,182.3 230.4,183.4 231.8,184.1 233.3,184.0 234.8,183.7 236.2,183.1 237.5,182.6 238.6,181.6 239.6,180.3 240.5,180.2 241.5,179.8 242.4,178.2 243.4,176.4 244.4,175.3 245.8,175.6 247.2,176.2 248.7,176.3 250.1,176.3 251.4,175.5 252.2,173.8 253.0,172.0 253.6,170.4 254.2,168.4 254.8,166.6 255.4,165.8 256.1,165.1 257.0,165.0 258.0,164.9 259.1,164.2 260.3,163.9 261.5,162.7 262.8,161.5 264.1,160.9 265.4,160.2 266.6,159.7 267.9,160.0 269.3,160.2 270.6,160.4 272.0,161.1 273.3,161.4 274.7,161.5 276.0,161.9 277.4,161.3 278.8,161.3 280.2,162.0 281.6,162.1 283.0,161.8 284.4,162.2 285.8,163.3 287.2,164.4 288.6,165.6 290.0,165.6 291.4,164.9 292.8,164.9 294.2,165.3 295.5,165.9 296.9,165.7 298.3,165.4 299.6,166.8 300.8,168.2 302.1,169.2 303.3,170.0 304.5,171.0 305.8,172.7 307.0,173.9 308.2,174.1 309.5,174.2 310.9,174.1 312.3,173.1 313.7,172.8 315.1,173.0 316.5,172.7 317.9,171.9 319.3,170.9 320.7,169.2 322.0,168.1 323.2,168.5 324.4,167.6 325.7,166.4 326.9,165.5 328.1,164.6 329.4,163.6 330.6,162.6 331.9,161.6 333.3,160.9 334.7,160.6 336.2,159.7 337.7,159.2 339.2,158.4 340.5,157.7 341.8,158.3 343.0,158.9 344.1,160.4 345.0,162.3 345.9,163.1 346.7,163.6 347.6,164.3 348.6,164.3 349.9,163.9 351.2,164.3 352.7,164.9 354.2,165.3 355.6,165.3 357.0,165.1 358.2,165.0 359.4,164.6 360.6,164.4 361.7,164.0 362.9,162.5 364.1,161.4 365.4,160.5 366.7,160.4 368.0,160.2 369.3,160.6 370.7,161.4 372.0,161.0 373.4,161.9 374.7,163.0 376.0,163.1 377.5,164.4 378.9,165.7 380.3,166.0 381.7,167.3 383.0,168.4 384.4,168.0 385.7,166.9 386.9,166.2 388.2,165.6 389.5,164.8 390.7,163.3 391.8,161.2 392.8,160.5 393.6,161.0 394.2,162.4 394.8,165.1 395.3,166.8 395.8,168.5 396.4,170.2 396.9,171.4 397.6,172.3 398.3,172.1 399.2,171.6 400.1,171.0 401.1,170.5 402.1,169.6 403.2,169.9 404.4,169.9 405.5,168.2 406.7,167.3 408.0,166.5 409.4,165.6 410.8,164.6 412.3,163.8 413.8,164.7 415.2,165.4 416.6,164.9 417.9,164.0 419.2,163.7 420.4,164.6 421.6,166.1 422.7,166.6 423.9,166.8 425.1,167.5 426.3,168.8 427.5,170.1 428.7,170.5 429.9,170.8 431.2,172.4 432.5,173.1 433.7,172.8 434.9,173.7 436.1,173.6 437.3,171.9 438.5,170.0 439.7,168.2 440.9,167.9 442.0,168.1 443.2,167.4 444.4,167.3 445.8,167.2 447.3,167.1 448.7,168.0 450.2,169.1 451.6,169.3 452.8,169.4 453.6,169.3 454.3,168.1 455.0,166.8 455.6,165.8 456.2,164.0 456.7,162.1 457.2,160.3 457.8,158.6 458.3,157.2 458.8,156.6 459.3,155.4 459.8,154.7 460.3,154.7 460.8,156.2 461.2,157.5 461.6,159.1 462.0,161.0 462.4,162.9 462.8,164.9 463.3,166.7 463.9,169.1 464.6,170.7 465.4,171.2 466.5,170.4 467.8,171.2 469.3,172.2 470.8,171.4 472.3,170.3 473.7,169.8 475.0,168.9 476.0,167.9 477.0,168.8 477.7,170.2 478.3,171.1 478.9,172.3 479.5,173.6 480.2,174.2 480.9,173.5 481.6,171.9 482.3,170.7 483.0,169.8 483.8,169.0 484.6,168.6 485.4,168.0 486.4,166.6 487.6,166.1 489.0,166.6 490.3,167.3 491.6,167.7 492.5,167.3 493.2,168.8 494.0,170.5 494.7,171.5 495.4,172.7 496.1,173.3 496.8,173.9 497.7,173.9 498.5,173.2 499.4,172.0 500.3,170.5 501.1,171.3 501.8,173.1 502.4,173.0 503.1,173.6 503.7,175.4 504.3,177.3 505.0,180.2 505.6,181.1 506.3,181.4 507.1,180.1 508.0,179.0 508.8,177.8 509.7,176.6 510.7,176.3 511.9,176.0 513.3,175.0 514.6,173.9 515.9,173.8 517.0,174.8 518.0,176.8 519.0,179.4 520.0,180.9 521.1,181.0 522.1,179.9 523.2,178.7 524.2,178.7 525.3,177.4 526.3,176.3 527.0,176.3 527.7,177.4 528.3,179.6 529.0,180.8 529.6,182.5 530.2,184.4 530.8,186.1 531.4,188.2 532.0,190.2 532.6,191.4 533.2,191.4 533.9,191.0 534.5,190.9 535.0,187.0 535.6,185.2 536.2,183.3 536.9,182.8 537.6,181.1 538.4,180.6 539.4,181.2 540.5,181.2 541.7,181.5 542.9,182.5 544.1,183.1 545.3,183.4 546.5,184.0 547.7,184.8 548.8,185.5 550.0,186.3 551.2,187.1 552.3,186.7 553.4,186.0 554.4,185.0 555.4,183.4 556.4,181.5 557.4,179.7 558.3,179.4 559.2,179.2 560.1,178.1 561.0,175.7 561.9,174.0 562.7,173.6 563.5,172.8 564.4,171.8 565.3,170.8 566.2,169.8 567.1,168.6 568.0,167.2 568.8,165.9 569.6,164.5 570.2,164.6 570.7,163.1 571.1,161.5 571.5,159.9 572.0,158.6 572.4,157.4 573.0,156.2 573.9,155.9 574.8,156.8 575.7,158.6 576.5,159.4 577.2,157.7 577.7,158.6 578.3,157.2"/>
<polyline stroke="#f2a834" points="81.0,0.0 81.0,1.5 81.0,3.0 81.0,4.5 81.0,5.9 81.0,7.4 81.0,8.9 81.0,10.4 81.0,11.9 81.1,13.4 81.1,14.9 81.1,16.4 81.1,17.8 81.1,19.3 81.1,20.8 81.1,22.3 81.1,23.8 81.1,25.3 81.1,26.8 81.1,28.2 81.1,29.7 81.1,31.2 81.1,32.7 81.1,34.2 81.1,35.7 81.1,37.2 81.1,38.6 81.1,40.1 81.1,41.6 81.1,43.1 81.1,44.6 81.1,46.1 81.1,47.6 81.1,49.1 81.1,50.5 81.1,52.0 81.2,53.5 81.2,55.0 81.2,56.5 81.2,58.0 81.2,59.5 81.2,60.9 81.2,62.4 81.2,63.9 81.2,65.4 81.2,66.9 81.2,68.4 81.2,69.9 81.2,71.4 81.2,72.8 81.2,74.3 81.2,75.8 81.2,77.3 81.2,78.8 81.3,80.3 81.3,81.8 81.3,83.2 81.3,84.7 81.3,86.2 81.3,87.7 81.3,89.2 81.3,90.7 81.3,92.2 81.3,93.6 81.4,95.1 81.4,96.6 81.4,98.1 81.4,99.6 81.4,101.1 81.4,102.6 81.4,104.1 81.5,105.5 81.5,107.0 81.5,108.5 81.5,110.0 81.5,111.5 81.5,113.0 81.6,114.5 81.6,115.9 81.6,117.4 81.6,118.9 81.6,120.4 81.6,121.9 81.7,123.4 81.7,124.9 81.7,126.4 81.7,127.9 81.7,129.3 81.7,130.8 81.8,132.3 81.8,133.8 81.8,135.3 81.8,136.8 81.8,138.3 81.9,139.8 81.9,141.3 81.9,142.8 81.9,144.2 81.9,145.7 81.9,147.2 82.0,148.7 82.0,150.2 82.0,151.7 82.0,153.2 82.1,154.7 82.1,156.2 82.1,157.7 82.1,159.1 82.1,160.6 82.2,162.1 82.2,163.6 82.2,165.1 82.2,166.6 82.3,168.1 82.3,169.6 82.3,171.1 82.3,172.5 82.4,174.0 82.4,175.5 82.4,177.0 82.5,178.5 82.5,180.0 82.5,181.5 82.5,183.0 82.6,184.4 82.6,185.9 82.6,187.4 82.7,188.9 82.7,190.4 82.7,191.9 82.8,193.4 82.8,194.8 82.8,196.3 82.9,197.8 82.9,199.3 82.9,200.8 83.0,202.3 83.0,203.7 83.1,205.2 83.1,206.7 83.1,208.2 83.2,209.7 83.2,211.1 83.3,212.6 83.3,214.1 83.4,215.6 83.4,217.0 83.5,218.5 83.5,220.0 83.5,221.5 83.6,223.1 83.6,224.6 83.7,226.2 83.7,227.9 83.7,229.5 83.8,231.2 83.8,232.9 83.8,234.7 83.8,236.4 83.8,238.2 83.9,240.0 83.9,241.8 83.9,243.6 83.9,245.4 83.9,247.3 83.9,249.1 83.9,251.0 83.9,252.9 83.9,254.8 83.9,256.7 84.0,258.6 84.0,260.5 84.0,262.3 84.0,264.2 84.0,266.1 84.0,268.0 84.0,269.9 84.0,271.8 84.0,273.7 84.1,275.5 84.1,277.4 84.1,279.2 84.1,281.1 84.1,282.9 84.2,284.7 84.2,286.5 84.2,288.2 84.3,290.0 84.3,291.7 84.4,293.4 84.4,295.1 84.5,296.7 84.5,298.3 84.6,299.9 84.6,301.5 84.7,303.0 84.8,304.5 84.9,306.0 84.9,307.4 85.0,308.8 85.1,310.1 85.2,311.5 85.3,312.7 85.4,313.9 85.6,315.1 85.7,316.3 85.8,317.3 86.0,318.4 86.1,319.4 86.3,320.3 86.4,321.2 86.6,322.0 86.8,322.8 87.0,323.5 87.2,324.2 87.4,324.8 87.6,325.3 87.8,325.8 88.0,326.2 88.3,326.5 88.5,326.8 89.8,326.8 91.1,326.8 92.5,326.8"/>
<polyline stroke="#f2a834" points="98.5,326.8 99.2,326.6 99.8,326.0 99.9,325.7 100.1,325.3 100.2,324.9 100.3,324.3 100.4,323.7 100.5,323.0 100.7,322.3 100.8,321.4 100.8,320.5 100.9,319.5 101.0,318.5 101.1,317.4 101.2,316.2 101.3,315.0 101.3,313.7 101.4,312.3 101.5,310.9 101.5,309.5 101.6,308.0 101.6,306.4 101.7,304.9 101.7,303.2 101.8,301.6 101.8,299.9 101.8,298.1 101.9,296.4 101.9,294.6 101.9,292.7 102.0,290.9 102.0,289.0 102.0,287.1 102.0,285.2 102.0,283.3 102.1,281.3 102.1,279.4 102.1,277.4 102.1,275.5 102.1,273.5 102.1,271.5 102.2,269.5 102.2,267.5 102.2,265.6 102.2,263.6 102.2,261.6 102.2,259.7 102.2,257.7 102.2,255.8 102.3,253.9 102.3,252.0 102.3,250.2 102.3,248.3 102.3,246.5 102.3,244.7 102.4,243.0 102.4,241.2 102.4,239.5 102.4,237.9 102.4,236.3 102.5,234.7 102.5,233.2 102.5,231.7 102.6,230.3 102.6,228.9 102.6,227.6 102.7,226.3 102.7,225.1 102.8,224.0 102.8,222.9 102.9,221.8 102.9,220.9 103.0,220.0 103.2,218.1 103.3,216.5 103.5,215.0 103.6,213.8 103.8,212.6 104.0,211.4 104.2,210.3 104.3,209.1 104.5,207.9 104.7,206.5 104.8,204.9 105.0,203.0 105.1,202.1 105.1,201.1 105.2,200.2 105.3,199.1 105.3,198.1 105.4,197.0 105.5,195.8 105.5,194.7 105.6,193.5 105.6,192.2 105.7,190.9 105.7,189.6 105.8,188.3 105.9,187.0 105.9,185.6 106.0,184.2 106.0,182.7 106.1,181.3 106.1,179.8 106.2,178.3 106.2,176.8 106.3,175.2 106.3,173.7 106.4,172.1 106.4,170.5 106.5,168.9 106.5,167.3 106.6,165.7 106.6,164.0 106.7,162.4 106.7,160.7 106.8,159.1 106.8,157.4 106.9,155.7 106.9,154.0 107.0,152.4 107.0,150.7 107.1,149.0 107.1,147.3 107.2,145.6 107.2,143.9 107.3,142.3 107.4,140.6 107.4,138.9 107.5,137.3 107.5,135.6 107.6,134.0 107.6,132.3 107.7,130.7 107.7,129.1 107.8,127.5 107.9,126.0 107.9,124.4 108.0,122.9 108.1,121.3 108.1,119.8 108.2,118.4 108.2,116.9 108.3,115.5 108.4,114.1 108.5,112.7 108.5,111.3 108.6,110.0 108.7,108.4 108.8,106.8 108.9,105.2 109.0,103.6 109.1,102.0 109.2,100.4 109.3,98.9 109.4,97.3 109.5,95.8 109.6,94.3 109.7,92.8 109.8,91.2 109.9,89.7 110.0,88.2 110.1,86.8 110.2,85.3 110.3,83.8 110.4,82.3 110.5,80.9 110.7,79.4 110.8,78.0 110.9,76.5 111.0,75.1 111.1,73.7 111.2,72.3 111.3,70.8 111.4,69.4 111.5,68.0 111.7,66.6 111.8,65.2 111.9,63.8 112.0,62.4 112.1,61.0 112.2,59.6 112.3,58.3 112.4,56.9 112.6,55.5 112.7,54.1 112.8,52.7 112.9,51.4 113.0,50.0 113.1,48.4 113.2,46.9 113.4,45.3 113.5,43.8 113.6,42.2 113.7,40.7 113.9,39.1 114.0,37.6 114.1,36.0 114.2,34.5 114.4,32.9 114.5,31.4 114.6,29.9 114.7,28.3 114.9,26.8 115.0,25.3 115.1,23.8 115.2,22.4 115.4,20.9 115.5,19.4 115.6,18.0 115.7,16.6 115.9,15.2 116.0,13.8 116.1,12.4 116.2,11.1 116.4,9.7 116.5,8.4 116.6,7.1 116.7,5.9 116.9,4.6 117.0,3.4 117.2,1.7 117.3,-0.1 117.3,-1.9 117.3,-3.6 117.4,-5.4 117.4,-7.1 117.4,-8.8 117.4,-10.5 117.5,-12.0 117.6,-13.5 117.8,-14.9 118.0,-16.2 118.4,-17.4 118.8,-18.4 119.3,-19.3 120.0,-20.0 121.0,-20.7 122.3,-21.3 123.8,-21.6 125.3,-21.9 127.0,-22.0 128.6,-21.9 130.2,-21.6 131.7,-21.3 133.0,-20.7 134.0,-20.0 134.7,-19.3 135.2,-18.4 135.7,-17.4 136.1,-16.3 136.3,-15.0 136.6,-13.6 136.7,-12.1 136.8,-10.6 136.9,-9.0 137.0,-7.3 137.0,-5.6 137.0,-3.8 137.1,-2.0 137.1,-0.2 137.2,1.6 137.3,3.4 137.4,4.6 137.5,5.8 137.5,7.1 137.6,8.5 137.6,9.8 137.7,11.3 137.7,12.7 137.8,14.2 137.8,15.7 137.8,17.3 137.8,18.8 137.8,20.4 137.8,22.0 137.9,23.7 137.9,25.3 137.9,27.0 137.9,28.6 137.8,30.3 137.8,32.0 137.8,33.6 137.8,35.3 137.8,36.9 137.8,38.6 137.8,40.2 137.8,41.8 137.8,43.4 137.8,45.0 137.8,46.5 137.8,48.1 137.8,49.5 137.8,51.0 137.8,52.4 137.8,53.8 137.9,55.1 137.9,56.4 137.9,57.7 138.0,58.9 138.0,60.0 138.1,61.7 138.2,63.4 138.2,65.0 138.3,66.5 138.4,67.9 138.5,69.3 138.6,70.6 138.7,72.0 138.8,73.3 138.9,74.6 139.0,75.9 139.2,77.2 139.3,78.6 139.5,80.0 139.7,81.4 139.9,82.9 140.1,84.3 140.4,85.7 140.7,87.1 140.9,88.6 141.2,90.0 141.5,91.4 141.8,92.9 142.1,94.3 142.3,95.7 142.6,97.1 142.8,98.6 143.0,100.0 143.2,101.4 143.4,102.7 143.5,104.0 143.7,105.3 143.8,106.6 143.9,107.9 144.0,109.2 144.2,110.5 144.3,111.9 144.4,113.3 144.5,114.8 144.7,116.4 144.8,118.2 145.0,120.0 145.1,121.0 145.2,122.1 145.3,123.2 145.4,124.3 145.5,125.5 145.6,126.7 145.7,128.0 145.8,129.2 145.9,130.6 146.0,131.9 146.1,133.3 146.2,134.7 146.3,136.2 146.4,137.6 146.5,139.1 146.6,140.6 146.7,142.2 146.9,143.7 147.0,145.3 147.1,146.9 147.2,148.5 147.3,150.1 147.4,151.8 147.6,153.4 147.7,155.1 147.8,156.7 147.9,158.4 148.1,160.1 148.2,161.7 148.3,163.4 148.4,165.1 148.6,166.8 148.7,168.4 148.8,170.1 148.9,171.7 149.1,173.4 149.2,175.0 149.3,176.7 149.4,178.3 149.6,179.9 149.7,181.5 149.8,183.0 149.9,184.6 150.1,186.1 150.2,187.6 150.3,189.1 150.4,190.6 150.6,192.0 150.7,193.4 150.8,194.8 150.9,196.2 151.1,197.5 151.2,198.8 151.3,200.0 151.5,201.7 151.6,203.4 151.8,205.1 152.0,206.8 152.1,208.4 152.3,210.0 152.4,211.6 152.6,213.2 152.8,214.8 152.9,216.3 153.1,217.8 153.2,219.3 153.4,220.8 153.6,222.3 153.7,223.7 153.9,225.2 154.1,226.6 154.2,228.0 154.4,229.4 154.6,230.8 154.8,232.1 155.0,233.5 155.2,234.8 155.4,236.1 155.6,237.4 155.8,238.7 156.0,240.0 156.3,241.7 156.6,243.5 156.9,245.4 157.2,247.4 157.5,249.3 157.9,251.3 158.2,253.1 158.6,255.0 158.9,256.7 159.2,258.3 159.6,259.7 159.9,260.9 160.3,261.9 160.6,262.7 161.0,263.1 161.3,263.3 161.7,263.1 162.0,262.6 162.4,261.8 162.7,260.7 163.1,259.3 163.5,257.8 163.8,256.1 164.2,254.3 164.6,252.5 164.9,250.5 165.3,248.6 165.6,246.8 166.0,245.0 166.2,243.8 166.5,242.6 166.7,241.4 167.0,240.0 167.2,238.7 167.5,237.3 167.7,235.8 168.0,234.3 168.2,232.8 168.5,231.3 168.7,229.7 169.0,228.1 169.3,226.5 169.5,224.9 169.8,223.3 170.0,221.7 170.3,220.1 170.5,218.5 170.7,216.9 171.0,215.3 171.2,213.7 171.5,212.2 171.7,210.7 171.9,209.2 172.1,207.7 172.3,206.3 172.5,205.0 172.7,203.6 172.9,202.4 173.1,201.2 173.3,200.0 173.6,198.4 173.8,196.9 174.0,195.5 174.2,194.1 174.4,192.8 174.6,191.6 174.8,190.4 175.0,189.1 175.2,187.8 175.4,186.5 175.6,185.1 175.8,183.6 176.0,182.0 176.2,180.8 176.3,179.6 176.5,178.3 176.7,176.9 176.8,175.6 177.0,174.1 177.2,172.7 177.3,171.2 177.5,169.6 177.7,168.1 177.9,166.5 178.0,164.9 178.2,163.3 178.4,161.7 178.6,160.1 178.8,158.5 179.0,156.9 179.2,155.3 179.4,153.8 179.6,152.2 179.8,150.7 180.0,149.2 180.2,147.7 180.4,146.2 180.7,144.8 180.9,143.5 181.1,142.2 181.4,140.9 181.6,139.7 181.9,138.0 182.3,136.4 182.6,134.7 182.9,133.1 183.2,131.5 183.6,130.0 183.9,128.5 184.3,127.1 184.7,125.7 185.1,124.4 185.6,123.2 186.1,122.0 186.6,121.0 187.2,120.0 188.2,118.6 189.4,117.2 190.7,116.0 192.0,115.1 193.2,114.6 194.2,114.5 194.9,114.9 195.6,115.8 196.2,117.0 196.7,118.4 197.2,119.9 197.7,121.5 198.3,122.9 198.8,124.0 199.3,125.0 199.8,126.1 200.4,127.2 200.9,128.6 201.4,130.0 202.0,131.5 202.5,132.8 203.0,134.1 203.5,135.5 204.0,136.9 204.4,138.2 204.8,139.5 205.2,140.8 205.6,142.2 206.0,143.6 206.4,144.9 206.8,146.4 207.1,147.8 207.5,149.2 207.9,150.6 208.3,152.1 208.7,153.5 209.1,155.0 209.5,156.4 209.9,157.8 210.3,159.2 210.7,160.6 211.1,162.0 211.6,163.4 212.0,164.9 212.4,166.3 212.9,167.7 213.3,169.2 213.8,170.6 214.2,172.0 214.7,173.4 215.1,174.8 215.6,176.2 216.0,177.5 216.5,178.8 217.0,180.2 217.5,181.6 218.0,182.9 218.5,184.3 219.0,185.6 219.5,186.9 220.0,188.9 220.6,189.9 221.1,190.9 221.7,192.2 222.3,193.6 222.9,194.9 223.5,195.9 224.2,196.7 225.0,197.5 225.8,198.6 226.6,199.8 227.5,201.3 228.3,203.0 229.2,204.6 230.1,205.7 231.0,206.8 231.9,207.5 233.3,207.4 234.7,207.1 236.2,206.4 237.6,205.6 238.9,204.3 239.9,204.0 240.8,204.4 241.7,202.7 242.6,200.4 243.4,199.3 244.2,198.6 245.0,197.5 245.8,196.4 246.5,195.3 247.2,193.4 247.8,191.3 248.5,189.3 249.1,188.2 249.7,187.1 250.3,185.7 250.9,185.5 251.4,184.4 251.8,183.1 252.2,181.7 252.6,180.3 252.9,178.7 253.2,177.2 253.5,175.6 253.8,174.1 254.1,172.6 254.4,171.2 254.8,169.9 255.2,168.7 255.6,166.2 256.3,164.9 257.1,165.0 257.9,165.3 258.8,164.9 259.8,163.7 260.8,161.9 262.0,160.2 263.1,159.8 264.3,158.9 265.4,157.5 266.4,157.7 267.3,157.6 268.3,156.4 269.2,156.1 270.1,155.8 271.0,154.0 271.9,153.1 272.7,152.0 273.5,150.8 274.4,150.7 275.2,150.1 276.0,149.0 276.8,150.0 277.5,151.7 278.2,152.8 279.0,154.1 279.8,154.9 280.6,154.9 281.6,155.8 282.7,156.5 283.8,156.4 285.1,157.7 286.3,159.1 287.6,160.3 288.8,161.1 290.0,161.1 291.0,160.9 291.9,160.8 292.9,161.7 293.8,163.0 294.6,163.8 295.5,165.5 296.4,166.9 297.4,168.3 298.3,170.3 299.3,171.8 300.3,172.7 301.4,174.0 302.4,175.8 303.5,175.9 304.6,175.1 305.6,174.1 306.7,173.8 307.9,174.8 309.1,176.0 310.3,177.9 311.5,180.0 312.7,181.9 313.9,183.5 315.1,184.1 316.5,184.4 317.9,184.2 319.3,184.1 320.7,184.0 322.1,183.8 323.5,184.3 324.9,183.9 326.3,184.2 327.7,184.6 329.0,183.0 329.9,181.0 330.8,179.6 331.7,179.3 332.5,178.8 333.3,176.8 334.2,175.7 335.1,174.5 336.0,172.8 337.1,172.1 338.3,171.9 339.5,172.0 340.7,172.3 341.9,172.0 343.0,171.0 344.2,169.6 345.5,168.3 346.7,167.3 347.8,166.7 349.0,166.6 350.0,166.6 350.8,166.5 351.5,167.0 352.1,168.0 352.8,169.7 353.4,171.5 353.9,173.2 354.5,176.5 355.1,177.0 355.6,176.3 356.2,175.5 356.7,174.2 357.2,172.5 357.7,170.4 358.1,168.4 358.6,166.6 359.2,166.8 359.8,166.1 360.5,166.1 361.2,166.8 362.0,167.9 362.8,169.7 363.7,171.4 364.5,171.9 365.4,172.3 366.5,172.0 367.6,170.7 368.8,170.4 369.9,170.7 371.0,171.1 372.0,171.4 372.9,170.9 373.8,169.5 374.8,166.5 376.0,163.7 377.2,162.5 378.5,161.3 379.9,161.7 381.3,163.3 382.8,163.9 384.3,163.9 385.8,164.7 387.2,166.0 388.5,166.4 389.7,166.6 391.0,166.8 392.2,167.2 393.4,167.5 394.6,168.1 395.8,169.7 397.1,171.4 398.3,172.4 399.5,172.3 400.8,171.6 402.0,171.4 403.3,170.5 404.5,169.2 405.8,168.3 407.0,168.0 408.3,168.3 409.5,167.6 410.6,166.7 411.7,166.9 412.8,166.9 413.9,167.3 415.0,167.8 416.1,168.6 417.3,170.2 418.4,171.8 419.5,173.4 420.7,174.3 422.1,174.1 423.5,174.4 424.9,174.2 426.3,173.0 427.8,172.8 429.2,172.9 430.6,172.6 431.9,172.0 433.2,171.1 434.4,171.2 435.6,172.2 436.8,174.0 437.9,176.1 439.1,177.7 440.3,179.4 441.6,179.9 442.9,178.7 444.3,177.9 445.7,177.3 447.1,176.2 448.6,175.7 450.0,175.3 451.4,174.9 452.8,174.4 454.2,174.6 455.7,174.5 457.1,173.9 458.5,174.1 459.9,175.0 461.3,175.6 462.6,174.7 463.9,173.5 465.2,174.4 466.5,176.4 467.7,177.3 468.9,177.4 470.0,177.9 471.0,178.2 471.8,177.7 472.5,177.3 473.2,175.5 473.8,173.8 474.3,172.1 474.9,167.9 475.4,166.5 476.0,166.5 476.6,166.7 477.1,168.7 477.6,172.4 478.2,174.2 478.7,176.3 479.2,178.3 479.7,180.2 480.2,181.8 480.7,181.0 481.2,182.1 481.7,182.0 482.2,181.2 482.7,180.7 483.2,179.1 483.7,177.5 484.2,175.9 484.7,174.5 485.2,173.2 485.6,171.7 486.0,170.2 486.4,168.8 486.8,166.9 487.4,167.1 488.1,167.7 489.3,168.2 490.6,168.5 492.0,168.5 493.3,168.8 494.1,169.0 494.7,169.9 495.4,170.7 496.0,171.8 496.5,173.8 497.1,175.1 497.8,176.4 498.5,177.7 499.3,178.4 500.1,179.0 501.0,179.5 501.9,180.9 502.8,181.8 503.8,182.4 504.6,183.5 505.5,184.1 506.6,183.6 507.6,181.6 508.6,180.7 509.7,180.4 510.7,179.6 511.5,178.4 512.2,176.6 513.0,175.1 513.8,173.4 514.5,172.5 515.3,171.9 516.1,170.5 516.8,169.2 517.6,169.1 518.6,170.1 519.6,171.4 520.6,172.7 521.6,174.3 522.8,175.3 524.1,175.4 525.5,174.3 526.9,173.7 528.4,174.4 529.7,174.2 531.0,173.9 532.3,174.5 533.6,175.8 534.9,176.0 536.1,175.3 537.3,175.3 538.6,174.5 539.8,173.6 541.0,174.0 541.9,174.0 542.8,173.9 543.7,174.8 544.6,175.7 545.5,177.4 546.3,179.7 547.2,181.2 548.0,182.0 548.8,182.1 549.5,181.8 550.3,180.5 551.0,178.4 551.7,178.6 552.3,176.7 553.0,174.8 553.7,172.1 554.3,171.4 555.0,170.2 555.7,170.1 556.6,171.2 557.5,172.3 558.4,173.5 559.3,174.7 560.1,176.3 560.9,178.9 561.5,181.4 562.0,179.1 562.5,180.8 563.0,182.7 563.5,184.6 563.9,186.5 564.4,188.2 564.8,189.7 565.2,190.8 565.7,191.6 566.1,190.8 566.5,190.5 566.9,189.7 567.3,189.7 567.7,188.3 568.1,186.6 568.5,184.8 568.8,182.9 569.2,181.0 569.6,179.3 570.1,177.7 570.5,176.3 571.1,175.7 571.7,175.5 572.3,174.6 572.9,173.1 573.5,171.6 574.2,169.3 574.8,167.5 575.5,166.6 576.2,165.9 576.9,165.1 577.6,163.3 578.3,162.1"/>
<polyline stroke="#7c0a2c" points="78.8,0.0 78.8,326.8 80.5,326.8"/>
<polyline stroke="#7c0a2c" points="85.0,0.0 89.0,110.0 92.8,220.0 98.4,326.8"/>
<polyline stroke="#7c0a2c" points="98.4,326.8 117.3,326.8"/>
<polyline stroke="#7c0a2c" points="117.3,326.8 117.4,325.3 117.5,323.9 117.6,322.4 117.7,320.9 117.8,319.4 118.0,318.0 118.1,316.5 118.2,315.0 118.3,313.5 118.4,312.1 118.5,310.6 118.6,309.1 118.7,307.6 118.8,306.1 119.0,304.6 119.1,303.2 119.2,301.7 119.3,300.2 119.4,298.7 119.5,297.3 119.6,295.8 119.7,294.4 119.8,292.9 119.9,291.4 120.1,290.0 120.2,288.5 120.3,287.1 120.4,285.7 120.5,284.2 120.6,282.8 120.7,281.4 120.8,280.0 120.9,278.5 121.0,276.9 121.1,275.4 121.3,273.9 121.4,272.4 121.5,270.9 121.6,269.4 121.7,267.9 121.8,266.4 121.9,265.0 122.0,263.5 122.2,262.0 122.3,260.5 122.4,259.1 122.5,257.6 122.6,256.1 122.7,254.7 122.8,253.2 122.9,251.8 123.0,250.3 123.1,248.8 123.3,247.4 123.4,245.9 123.5,244.4 123.6,243.0 123.7,241.5 123.8,240.0 123.9,238.5 124.0,237.0 124.1,235.6 124.2,234.1 124.3,232.6 124.4,231.1 124.5,229.6 124.7,228.1 124.8,226.7 124.9,225.2 125.0,223.7 125.1,222.2 125.2,220.7 125.3,219.3 125.4,217.8 125.5,216.3 125.6,214.8 125.7,213.3 125.8,211.9 125.9,210.4 126.0,208.9 126.1,207.4 126.2,205.9 126.4,204.4 126.5,203.0 126.6,201.5 126.7,200.0 126.8,198.5 126.9,197.0 127.0,195.6 127.2,194.1 127.3,192.6 127.4,191.1 127.5,189.6 127.6,188.1 127.8,186.7 127.9,185.2 128.0,183.7 128.1,182.2 128.3,180.7 128.4,179.3 128.5,177.8 128.6,176.3 128.8,174.8 128.9,173.3 129.0,171.9 129.1,170.4 129.3,168.9 129.4,167.4 129.5,165.9 129.6,164.4 129.8,163.0 129.9,161.5 130.0,160.0 130.1,158.5 130.2,157.0 130.4,155.6 130.5,154.1 130.6,152.6 130.7,151.1 130.8,149.6 130.9,148.1 131.0,146.7 131.1,145.2 131.2,143.7 131.3,142.2 131.4,140.7 131.5,139.2 131.7,137.8 131.8,136.3 131.9,134.8 132.0,133.3 132.1,131.8 132.3,130.4 132.4,128.9 132.5,127.4 132.7,125.9 132.8,124.4 133.0,123.0 133.1,121.5 133.3,120.0 133.5,118.5 133.7,117.0 133.8,115.5 134.0,114.1 134.2,112.6 134.5,111.1 134.7,109.6 134.9,108.1 135.1,106.7 135.3,105.2 135.6,103.7 135.8,102.2 136.0,100.7 136.2,99.2 136.5,97.8 136.7,96.3 137.0,94.8 137.2,93.3 137.4,91.8 137.7,90.4 137.9,88.9 138.2,87.4 138.4,85.9 138.6,84.4 138.8,83.0 139.1,81.5 139.3,80.0 139.5,78.5 139.7,77.0 139.9,75.5 140.2,74.1 140.4,72.6 140.6,71.1 140.8,69.6 141.0,68.1 141.2,66.6 141.4,65.1 141.6,63.6 141.8,62.1 142.0,60.6 142.2,59.1 142.4,57.6 142.6,56.1 142.8,54.7 143.0,53.2 143.2,51.7 143.5,50.2 143.7,48.7 144.0,47.3 144.2,45.8 144.5,44.3 144.7,42.9 145.0,41.4 145.3,40.0 145.6,38.6 145.9,37.1 146.2,35.6 146.6,34.2 146.9,32.7 147.3,31.3 147.7,29.8 148.0,28.3 148.4,26.9 148.8,25.4 149.2,24.0 149.6,22.5 150.0,21.1 150.4,19.6 150.8,18.2 151.1,16.8 151.5,15.4 151.9,14.0 152.3,12.6 152.7,11.3 153.0,9.9 153.4,8.6 153.7,7.2 154.1,5.9 154.4,4.7 154.7,3.4 155.1,1.8 155.3,0.1 155.6,-1.7 155.8,-3.4 155.9,-5.1 156.1,-6.8 156.2,-8.5 156.4,-10.1 156.6,-11.7 156.8,-13.2 157.1,-14.7 157.5,-16.0 158.0,-17.2 158.5,-18.3 159.2,-19.2 160.0,-20.0 161.0,-20.7 162.2,-21.2 163.6,-21.7 165.0,-22.1 166.6,-22.3 168.3,-22.5 169.9,-22.5 171.6,-22.5 173.2,-22.3 174.8,-22.1 176.3,-21.7 177.7,-21.2 178.9,-20.7 180.0,-20.0 180.8,-19.3 181.6,-18.5 182.2,-17.5 182.8,-16.5 183.3,-15.3 183.7,-14.1 184.1,-12.8 184.5,-11.4 184.8,-9.9 185.0,-8.4 185.3,-6.8 185.5,-5.2 185.7,-3.5 186.0,-1.8 186.2,-0.1 186.4,1.6 186.7,3.4 186.9,4.5 187.0,5.7 187.1,6.9 187.2,8.1 187.3,9.5 187.4,10.8 187.5,12.2 187.6,13.7 187.6,15.2 187.7,16.7 187.7,18.3 187.7,19.9 187.7,21.5 187.7,23.1 187.7,24.8 187.7,26.5 187.7,28.2 187.7,29.9 187.7,31.6 187.7,33.4 187.7,35.1 187.6,36.9 187.6,38.6 187.6,40.4 187.6,42.1 187.5,43.8 187.5,45.6 187.5,47.3 187.5,48.9 187.5,50.6 187.5,52.3 187.5,53.9 187.5,55.5 187.5,57.0 187.5,58.5 187.5,60.0 187.5,61.5 187.6,62.9 187.6,64.3 187.7,65.6 187.7,66.8 187.8,68.0 187.9,69.2 188.0,70.3 188.2,71.3 188.3,72.3 188.4,73.2 188.6,74.0 189.0,75.7 189.5,77.1 190.0,78.4 190.6,79.5 191.2,80.5 191.7,81.6 192.3,82.6 192.8,83.8 193.3,85.1 193.9,86.4 194.4,87.7 194.9,88.9 195.4,90.3 196.0,91.7 196.5,93.3 197.0,95.0 197.3,96.1 197.6,97.3 197.9,98.5 198.2,99.8 198.5,101.1 198.9,102.5 199.2,103.9 199.5,105.4 199.8,106.9 200.1,108.5 200.4,110.0 200.7,111.6 201.0,113.2 201.3,114.8 201.6,116.3 201.9,117.9 202.2,119.5 202.5,121.1 202.8,122.6 203.1,124.1 203.4,125.6 203.7,127.1 204.0,128.5 204.3,130.0 204.6,131.5 204.9,133.0 205.2,134.5 205.5,135.9 205.8,137.3 206.1,138.8 206.4,140.2 206.7,141.6 207.0,143.0 207.3,144.4 207.6,145.9 207.8,147.3 208.1,148.8 208.4,150.3 208.7,151.7 209.0,153.3 209.2,154.8 209.5,156.4 209.7,157.7 209.9,159.1 210.2,160.4 210.4,161.8 210.6,163.2 210.8,164.6 211.0,166.1 211.2,167.5 211.4,168.9 211.6,170.4 211.8,171.8 212.0,173.3 212.2,174.8 212.4,176.3 212.6,177.8 212.8,179.2 213.0,180.7 213.2,182.2 213.4,183.7 213.6,185.2 213.8,186.7 214.0,188.2 214.2,189.6 214.4,191.1 214.6,192.6 214.8,194.0 215.0,195.5 215.2,197.0 215.4,198.4 215.6,199.9 215.8,201.5 216.0,203.0 216.2,204.5 216.4,206.1 216.6,207.6 216.8,209.2 217.0,210.7 217.2,212.3 217.3,213.8 217.5,215.3 217.7,216.9 217.9,218.4 218.1,219.9 218.3,221.4 218.6,222.8 218.8,224.2 219.0,225.7 219.2,227.0 219.4,228.4 219.7,229.7 219.9,231.0 220.2,232.2 220.4,233.4 220.7,234.6 221.1,236.3 221.5,237.9 222.0,239.5 222.4,241.0 222.8,242.5 223.3,243.9 223.7,245.2 224.2,246.6 224.7,248.4 225.2,249.1 225.8,250.0 226.3,251.1 227.0,252.4 227.8,254.1 228.6,255.8 229.4,257.7 230.3,259.3 231.1,259.5 231.9,259.8 232.7,259.8 233.5,259.2 234.3,257.9 235.1,256.0 235.9,254.4 236.7,253.3 237.5,252.0 238.1,251.2 238.6,249.1 239.2,246.7 239.7,245.6 240.3,244.9 240.8,244.5 241.3,243.8 241.9,241.7 242.4,240.3 242.9,238.9 243.4,237.5 243.9,236.1 244.4,234.6 244.8,233.4 245.2,232.1 245.5,230.8 245.9,229.5 246.3,228.2 246.6,226.8 246.9,225.4 247.3,224.0 247.6,222.5 247.9,221.1 248.3,219.7 248.6,218.2 248.9,216.8 249.3,215.3 249.6,213.8 249.9,212.4 250.3,210.9 250.7,209.5 251.0,208.1 251.4,206.7 251.8,205.3 252.2,203.9 252.6,202.5 253.0,201.1 253.4,199.6 253.8,198.2 254.2,196.8 254.6,195.4 255.0,193.9 255.5,192.5 255.9,191.1 256.3,189.7 256.7,188.3 257.2,186.9 257.6,185.5 258.0,184.2 258.5,182.8 258.9,181.5 259.4,180.1 259.8,178.8 260.3,177.3 260.8,175.9 261.3,174.4 261.8,173.0 262.4,171.5 262.9,170.1 263.4,168.7 264.0,167.3 264.5,165.9 265.0,164.6 265.6,163.2 266.1,161.8 266.6,160.5 267.1,159.1 267.7,157.7 268.2,156.4 268.7,155.1 269.3,153.7 269.8,152.4 270.3,151.0 270.9,149.7 271.4,148.3 271.9,147.8 272.4,145.2 273.0,142.7 273.5,141.3 274.0,139.2 274.5,137.3 275.0,136.8 275.5,136.4 276.0,136.9 276.5,135.5 277.0,134.1 277.5,132.8 277.9,131.4 278.4,130.1 278.8,128.8 279.3,127.5 279.8,127.7 280.3,126.6 280.9,125.3 281.6,123.6 282.5,121.3 283.5,120.1 284.5,119.9 285.6,120.0 286.7,119.2 287.8,117.3 288.9,115.3 290.0,114.1 291.2,113.5 292.4,112.3 293.6,111.1 294.8,110.2 295.9,109.8 297.0,110.1 298.0,110.0 299.0,110.4 299.9,112.0 300.8,113.9 301.7,115.3 302.5,116.6 303.2,118.4 303.9,121.0 304.6,123.3 305.3,124.9 305.9,126.4 306.7,127.3 307.6,127.9 308.5,128.4 309.5,128.8 310.5,129.7 311.4,132.0 312.3,132.9 312.9,132.0 313.4,132.2 313.9,134.9 314.4,136.3 314.8,137.7 315.3,139.1 315.7,140.6 316.1,142.1 316.6,143.6 317.0,145.1 317.4,146.6 317.9,148.0 318.4,149.4 318.8,150.8 319.3,152.2 319.7,153.7 320.1,155.1 320.6,156.5 321.0,157.9 321.5,159.3 322.0,160.7 322.5,162.1 323.0,163.5 323.5,164.2 324.1,166.4 324.7,166.7 325.3,166.8 326.0,168.1 326.7,170.0 327.3,172.0 328.0,174.4 328.7,176.4 329.3,177.0 329.9,177.6 330.5,178.6 331.0,180.1 331.5,181.5 331.9,183.0 332.4,184.4 332.8,185.9 333.2,187.4 333.6,188.8 334.0,190.3 334.4,191.7 334.9,193.0 335.4,194.1 336.0,194.1 336.7,196.1 337.4,198.0 338.2,200.0 338.9,201.3 339.7,200.8 340.6,201.5 341.4,203.2 342.2,204.3 343.0,205.2 343.9,207.1 344.7,209.1 345.6,209.7 346.5,210.3 347.3,210.8 348.2,211.5 349.1,212.3 350.0,213.1 351.1,214.0 352.3,215.3 353.4,216.4 354.5,217.2 355.6,217.0 356.6,215.1 357.5,212.8 358.5,211.3 359.4,211.0 360.3,210.3 361.2,208.7 362.1,207.5 363.0,207.3 364.0,206.6 364.9,204.9 365.9,203.8 366.8,203.6 367.7,204.2 368.7,204.8 369.7,203.3 370.6,201.5 371.5,200.5 372.4,199.5 373.4,198.3 374.3,197.7 375.2,197.5 376.0,197.3 376.6,197.4 377.1,197.4 377.6,199.2 378.1,201.2 378.6,203.2 379.1,204.9 379.6,207.4 380.2,207.8 380.9,207.4 381.6,205.5 382.4,203.1 383.2,201.5 384.0,199.5 384.9,198.0 385.8,197.7 386.8,196.6 387.9,195.8 389.1,196.0 390.2,196.3 391.4,196.3 392.8,195.8 394.3,196.4 395.7,197.7 397.0,197.7 397.6,197.1 398.2,196.2 398.6,192.5 399.0,191.1 399.4,189.4 399.7,187.7 400.1,186.0 400.5,184.2 400.9,182.6 401.3,181.1 401.9,180.3 402.5,179.7 403.5,178.6 404.6,178.4 405.8,178.1 407.0,177.5 408.3,176.9 409.5,174.8 410.7,173.3 411.9,172.9 413.1,172.6 414.3,172.3 415.6,171.4 416.8,169.9 417.9,169.4 418.9,169.5 419.9,168.3 420.9,166.2 421.8,164.0 422.8,162.6 423.7,161.9 424.6,161.5 425.5,161.1 426.3,160.4 427.3,161.0 428.2,161.5 429.0,162.1 429.9,164.8 430.8,166.2 431.9,166.1 432.8,166.8 433.9,167.2 434.9,165.7 436.1,163.4 437.2,161.3 438.4,159.5 439.5,158.8 440.6,159.2 441.6,159.9 442.8,159.5 444.1,159.3 445.2,160.3 446.4,160.7 447.5,161.8 448.6,163.4 449.4,164.3 450.1,166.4 450.8,168.9 451.5,170.1 452.1,170.9 452.8,172.0 453.4,173.5 454.1,175.1 454.8,176.5 455.6,177.2 456.6,177.6 457.6,176.2 458.6,173.9 459.6,172.9 460.7,171.6 461.7,170.9 462.6,170.8 463.3,171.3 464.0,173.0 464.7,174.4 465.3,174.8 465.9,176.6 466.5,178.5 467.1,180.3 467.7,184.6 468.4,185.3 469.0,185.5 469.6,185.3 470.3,184.4 471.0,184.0 471.8,183.4 472.5,182.0 473.3,180.7 474.0,178.2 474.7,175.2 475.4,173.3 476.0,172.3 476.9,172.5 477.8,174.5 478.6,177.1 479.5,178.9 480.3,180.4 481.2,181.3 482.0,182.1 483.0,182.4 483.9,182.0 485.0,182.2 486.0,182.7 487.1,183.2 488.1,184.6 489.2,186.3 490.2,187.3 491.3,188.8 492.3,190.3 493.3,190.3 494.5,189.8 495.7,189.2 496.8,188.6 497.5,188.4 498.1,188.7 498.7,189.5 499.3,192.7 499.9,194.3 500.5,192.8 501.1,194.9 501.8,197.5 502.5,199.0 503.2,201.0 504.0,203.5 504.7,204.9 505.5,205.1 506.3,204.5 507.2,203.2 508.1,201.2 509.0,200.5 509.8,200.1 510.4,198.5 510.9,197.8 511.3,196.1 511.8,194.4 512.2,192.6 512.6,191.0 513.1,190.9 513.5,189.9 514.1,188.9 514.9,189.2 515.8,190.1 516.7,191.2 517.7,192.6 518.5,194.2 519.2,195.7 519.8,196.6 520.4,198.4 521.0,200.2 521.6,200.1 522.2,201.4 522.8,201.1 523.3,199.9 523.8,199.9 524.3,200.3 524.8,198.6 525.3,196.6 525.8,194.7 526.4,193.0 526.9,191.4 527.4,190.9 528.0,191.2 528.7,192.1 529.4,192.4 530.1,192.7 530.9,194.2 531.6,195.8 532.4,197.4 533.2,199.3 534.2,200.5 535.2,201.7 536.3,202.8 537.4,203.8 538.4,204.6 539.3,203.8 540.1,202.7 541.0,202.2 541.8,201.0 542.7,199.6 543.6,199.1 544.7,198.3 545.8,196.5 546.9,195.6 547.9,194.9 548.5,194.2 549.1,192.3 549.6,190.9 550.0,189.4 550.5,188.0 551.0,186.5 551.6,185.0 552.3,184.1 553.5,183.1 554.9,182.4 556.2,182.3 557.5,182.9 558.4,183.4 559.2,184.8 560.0,187.5 560.8,189.7 561.4,191.0 562.1,191.9 562.7,193.6 563.1,194.9 563.5,196.5 563.8,198.2 564.0,200.1 564.3,201.9 564.5,203.7 564.7,205.4 565.0,206.9 565.3,208.0 565.7,209.9 566.1,210.4 566.9,210.1 567.8,210.0 568.7,208.7 569.6,206.7 570.5,204.2 571.2,201.4 572.0,199.7 572.7,198.5 573.4,198.5 574.1,198.8 574.8,198.8 575.7,197.9 576.5,196.4 577.4,194.7 578.3,193.3"/>
</g>
<text x="35.20 45.55 50.72 61.06" y="327.40" font-size="18.6">0.00</text>
<text x="35.20 45.55 50.72" y="225.16" font-size="18.6">0.0</text><path d="M66.45,225.16 L68.14,225.16 L68.14,212.14 L67.05,212.14 L66.45,213.16 L65.43,214.09 L63.76,214.93 L63.76,216.14 L65.15,215.67 L66.45,214.84Z"/>
<text x="35.20 45.55 50.72 61.06" y="117.36" font-size="18.6">0.02</text>
<text x="35.20 45.55 50.72 61.06" y="15.02" font-size="18.6">0.03</text>
<text x="70.83" y="350.10" font-size="18.6">0</text>
<text x="166.18 176.52 186.86" y="350.10" font-size="18.6">000</text><path d="M161.23,350.10 L162.92,350.10 L162.92,337.08 L161.83,337.08 L161.23,338.10 L160.21,339.03 L158.53,339.87 L158.53,341.08 L159.93,340.61 L161.23,339.78Z"/>
<text x="256.36 266.70 277.04 287.38" y="350.10" font-size="18.6">2000</text>
<text x="356.88 367.22 377.56 387.90" y="350.10" font-size="18.6">3000</text>
<text x="457.40 467.74 478.08 488.42" y="350.10" font-size="18.6">4000</text>
<text x="557.92 568.26 578.60 588.94" y="350.10" font-size="18.6">5000</text>
<text x="327.3" y="370.4" text-anchor="middle">t</text>
<line x1="513.2" y1="24.3" x2="559.9" y2="24.3" stroke="#000000" stroke-width="1.5" opacity="0.9"/>
<text x="483.79 488.36 496.58" y="28.30" font-size="14.6">r=3</text>
<line x1="513.2" y1="36.6" x2="559.9" y2="36.6" stroke="#e83c1c" stroke-width="1.5" opacity="0.9"/>
<text x="483.79 488.36 496.58" y="40.60" font-size="14.6">r=5</text>
<line x1="513.2" y1="48.9" x2="559.9" y2="48.9" stroke="#1616d2" stroke-width="1.5" opacity="0.9"/>
<text x="475.98 480.54 496.58" y="52.90" font-size="14.6">r=0</text><path d="M493.00,52.90 L494.33,52.90 L494.33,42.68 L493.47,42.68 L493.00,43.48 L492.20,44.21 L490.88,44.87 L490.88,45.82 L491.98,45.45 L493.00,44.80Z"/>
<line x1="513.2" y1="61.2" x2="559.9" y2="61.2" stroke="#c4be34" stroke-width="1.5" opacity="0.9"/>
<text x="475.98 480.54 496.58" y="65.20" font-size="14.6">r=5</text><path d="M493.00,65.20 L494.33,65.20 L494.33,54.98 L493.47,54.98 L493.00,55.78 L492.20,56.51 L490.88,57.17 L490.88,58.12 L491.98,57.75 L493.00,57.10Z"/>
<line x1="513.2" y1="73.5" x2="559.9" y2="73.5" stroke="#f2a834" stroke-width="1.5" opacity="0.9"/>
<text x="475.98 480.54 488.76 496.58" y="77.50" font-size="14.6">r=20</text>
<line x1="513.2" y1="85.8" x2="559.9" y2="85.8" stroke="#7c0a2c" stroke-width="1.5" opacity="0.9"/>
<text x="475.98 480.54 488.76 496.58" y="89.80" font-size="14.6">r=30</text>
<text transform="translate(20.3,181.5) rotate(-90)" font-size="18.5">M</text><text transform="translate(24.8,166.5) rotate(-90)" font-size="11">acc</text><circle cx="2.2" cy="172.5" r="1.1" fill="#000"/>
<clipPath id="c2"><rect x="74.7" y="407.5" width="496.5" height="320.4"/></clipPath>
<path d="M74.7,407.5H571.2V726.7H74.7Z M74.7,726.7v-6.0 M74.7,407.5v6.0 M84.63,726.7v-3.0 M84.63,407.5v3.0 M94.56,726.7v-3.0 M94.56,407.5v3.0 M104.49,726.7v-3.0 M104.49,407.5v3.0 M114.42,726.7v-3.0 M114.42,407.5v3.0 M124.35,726.7v-3.0 M124.35,407.5v3.0 M134.28,726.7v-3.0 M134.28,407.5v3.0 M144.21,726.7v-3.0 M144.21,407.5v3.0 M154.14,726.7v-3.0 M154.14,407.5v3.0 M164.07,726.7v-3.0 M164.07,407.5v3.0 M174,726.7v-6.0 M174,407.5v6.0 M183.93,726.7v-3.0 M183.93,407.5v3.0 M193.86,726.7v-3.0 M193.86,407.5v3.0 M203.79,726.7v-3.0 M203.79,407.5v3.0 M213.72,726.7v-3.0 M213.72,407.5v3.0 M223.65,726.7v-3.0 M223.65,407.5v3.0 M233.58,726.7v-3.0 M233.58,407.5v3.0 M243.51,726.7v-3.0 M243.51,407.5v3.0 M253.44,726.7v-3.0 M253.44,407.5v3.0 M263.37,726.7v-3.0 M263.37,407.5v3.0 M273.3,726.7v-6.0 M273.3,407.5v6.0 M283.23,726.7v-3.0 M283.23,407.5v3.0 M293.16,726.7v-3.0 M293.16,407.5v3.0 M303.09,726.7v-3.0 M303.09,407.5v3.0 M313.02,726.7v-3.0 M313.02,407.5v3.0 M322.95,726.7v-3.0 M322.95,407.5v3.0 M332.88,726.7v-3.0 M332.88,407.5v3.0 M342.81,726.7v-3.0 M342.81,407.5v3.0 M352.74,726.7v-3.0 M352.74,407.5v3.0 M362.67,726.7v-3.0 M362.67,407.5v3.0 M372.6,726.7v-6.0 M372.6,407.5v6.0 M382.53,726.7v-3.0 M382.53,407.5v3.0 M392.46,726.7v-3.0 M392.46,407.5v3.0 M402.39,726.7v-3.0 M402.39,407.5v3.0 M412.32,726.7v-3.0 M412.32,407.5v3.0 M422.25,726.7v-3.0 M422.25,407.5v3.0 M432.18,726.7v-3.0 M432.18,407.5v3.0 M442.11,726.7v-3.0 M442.11,407.5v3.0 M452.04,726.7v-3.0 M452.04,407.5v3.0 M461.97,726.7v-3.0 M461.97,407.5v3.0 M471.9,726.7v-6.0 M471.9,407.5v6.0 M481.83,726.7v-3.0 M481.83,407.5v3.0 M491.76,726.7v-3.0 M491.76,407.5v3.0 M501.69,726.7v-3.0 M501.69,407.5v3.0 M511.62,726.7v-3.0 M511.62,407.5v3.0 M521.55,726.7v-3.0 M521.55,407.5v3.0 M531.48,726.7v-3.0 M531.48,407.5v3.0 M541.41,726.7v-3.0 M541.41,407.5v3.0 M551.34,726.7v-3.0 M551.34,407.5v3.0 M561.27,726.7v-3.0 M561.27,407.5v3.0 M571.2,726.7v-6.0 M571.2,407.5v6.0 M74.7,726.7h10.0 M571.2,726.7h-10.0 M74.7,716.06h5.0 M571.2,716.06h-5.0 M74.7,705.42h5.0 M571.2,705.42h-5.0 M74.7,694.78h5.0 M571.2,694.78h-5.0 M74.7,684.14h5.0 M571.2,684.14h-5.0 M74.7,673.5h5.0 M571.2,673.5h-5.0 M74.7,662.86h5.0 M571.2,662.86h-5.0 M74.7,652.22h5.0 M571.2,652.22h-5.0 M74.7,641.58h5.0 M571.2,641.58h-5.0 M74.7,630.94h5.0 M571.2,630.94h-5.0 M74.7,620.3h10.0 M571.2,620.3h-10.0 M74.7,609.66h5.0 M571.2,609.66h-5.0 M74.7,599.02h5.0 M571.2,599.02h-5.0 M74.7,588.38h5.0 M571.2,588.38h-5.0 M74.7,577.74h5.0 M571.2,577.74h-5.0 M74.7,567.1h5.0 M571.2,567.1h-5.0 M74.7,556.46h5.0 M571.2,556.46h-5.0 M74.7,545.82h5.0 M571.2,545.82h-5.0 M74.7,535.18h5.0 M571.2,535.18h-5.0 M74.7,524.54h5.0 M571.2,524.54h-5.0 M74.7,513.9h10.0 M571.2,513.9h-10.0 M74.7,503.26h5.0 M571.2,503.26h-5.0 M74.7,492.62h5.0 M571.2,492.62h-5.0 M74.7,481.98h5.0 M571.2,481.98h-5.0 M74.7,471.34h5.0 M571.2,471.34h-5.0 M74.7,460.7h5.0 M571.2,460.7h-5.0 M74.7,450.06h5.0 M571.2,450.06h-5.0 M74.7,439.42h5.0 M571.2,439.42h-5.0 M74.7,428.78h5.0 M571.2,428.78h-5.0 M74.7,418.14h5.0 M571.2,418.14h-5.0 M74.7,407.5h10.0 M571.2,407.5h-10.0" fill="none" stroke="#000" stroke-width="1.3"/>
<g clip-path="url(#c2)" fill="none" stroke-width="1.9" stroke-linejoin="round" stroke-linecap="round">
<polyline stroke="#000000" points="76.8,400.0 76.8,401.4 76.8,402.6 76.8,403.9 76.8,405.5 76.8,407.5 76.8,408.3 76.8,409.1 76.8,409.9 76.8,410.9 76.8,411.9 76.8,412.9 76.9,414.0 76.9,415.2 76.9,416.4 76.9,417.6 76.9,418.9 76.9,420.2 76.9,421.6 76.9,423.0 77.0,424.4 77.0,425.9 77.0,427.4 77.0,429.0 77.0,430.5 77.0,432.1 77.1,433.7 77.1,435.4 77.1,437.0 77.1,438.7 77.1,440.4 77.2,442.1 77.2,443.8 77.2,445.5 77.2,447.2 77.2,449.0 77.3,450.7 77.3,452.4 77.3,454.2 77.3,455.9 77.3,457.6 77.4,459.3 77.4,461.1 77.4,462.7 77.4,464.4 77.4,466.1 77.5,467.7 77.5,469.4 77.5,471.0 77.5,472.5 77.5,474.1 77.6,475.6 77.6,477.1 77.6,478.6 77.6,480.0 77.6,481.6 77.6,483.1 77.6,484.6 77.7,486.2 77.7,487.7 77.7,489.2 77.7,490.7 77.7,492.2 77.7,493.7 77.8,495.1 77.8,496.6 77.8,498.1 77.8,499.5 77.8,501.0 77.8,502.5 77.8,503.9 77.9,505.4 77.9,506.8 77.9,508.3 77.9,509.7 77.9,511.2 77.9,512.6 77.9,514.1 78.0,515.5 78.0,517.0 78.0,518.4 78.0,519.9 78.0,521.4 78.0,522.9 78.0,524.4 78.1,525.8 78.1,527.3 78.1,528.9 78.1,530.4 78.1,531.9 78.1,533.4 78.2,535.0 78.2,536.5 78.2,538.1 78.2,539.7 78.2,541.1 78.2,542.5 78.2,544.0 78.3,545.4 78.3,546.9 78.3,548.4 78.3,549.8 78.3,551.3 78.3,552.9 78.3,554.4 78.3,555.9 78.3,557.4 78.4,559.0 78.4,560.5 78.4,562.1 78.4,563.7 78.4,565.2 78.4,566.8 78.4,568.4 78.4,569.9 78.4,571.5 78.5,573.1 78.5,574.7 78.5,576.3 78.5,577.8 78.5,579.4 78.5,581.0 78.5,582.6 78.5,584.1 78.6,585.7 78.6,587.3 78.6,588.8 78.6,590.4 78.6,591.9 78.6,593.4 78.6,595.0 78.7,596.5 78.7,598.0 78.7,599.5 78.7,601.0 78.7,602.4 78.8,603.9 78.8,605.3 78.8,606.8 78.8,608.2 78.8,609.6 78.9,611.0 78.9,612.3 78.9,613.7 78.9,615.0 79.0,616.3 79.0,617.6 79.0,619.3 79.1,621.0 79.1,622.6 79.2,624.2 79.2,625.8 79.2,627.4 79.3,628.9 79.3,630.5 79.4,632.0 79.4,633.5 79.5,635.0 79.5,636.4 79.6,637.9 79.6,639.3 79.7,640.8 79.7,642.2 79.8,643.6 79.9,645.0 79.9,646.5 80.0,647.9 80.0,649.3 80.1,650.7 80.1,652.2 80.2,653.6 80.3,655.0 80.3,656.5 80.4,657.9 80.4,659.4 80.5,660.9 80.6,662.4 80.6,663.9 80.7,665.5 80.7,667.1 80.8,668.6 80.9,670.2 80.9,671.9 81.0,673.5 81.1,675.1 81.1,676.7 81.2,678.4 81.2,680.0 81.3,681.6 81.4,683.2 81.4,684.8 81.5,686.4 81.6,687.9 81.7,689.5 81.7,691.0 81.8,692.5 81.9,693.9 82.0,695.3 82.1,696.7 82.1,698.1 82.2,699.4 82.3,700.6 82.4,701.8 82.5,703.0 82.6,704.1 82.8,705.8 83.0,707.5 83.1,709.0 83.3,710.4 83.5,711.8 83.7,713.2 83.9,714.4 84.1,715.6 84.3,716.8 84.5,718.0 84.7,719.8 84.9,721.6 85.1,723.3 85.3,724.5 85.6,725.0 86.1,724.5 86.6,723.6 87.3,723.1 88.0,722.8 88.8,723.1 89.5,723.8 89.8,724.7 90.0,725.8 90.6,726.7 91.5,726.7 92.7,726.7 94.1,726.7 95.7,726.7 97.3,726.7 98.7,726.7 100.0,726.5 101.3,726.3 102.6,726.0 103.7,725.7 105.0,725.5 106.2,725.3 107.5,725.2 108.8,725.1 110.1,725.0 111.5,725.0 112.8,725.1 114.2,725.3 115.6,725.5 117.0,725.7 118.5,725.9 120.0,726.0 121.4,726.0 122.8,726.0 124.2,726.0 125.6,726.0 127.1,725.9 128.6,725.8 130.1,725.7 131.5,725.5 133.0,725.3 134.4,725.1 135.9,724.8 137.3,724.5 138.8,724.2 140.2,723.9 141.7,723.6 143.1,723.2 144.4,722.9 145.7,722.5 146.9,722.1 148.2,721.7 149.5,721.3 150.8,720.8 152.0,720.4 153.3,720.0 154.6,719.6 156.1,719.2 157.6,718.7 159.2,718.3 160.7,717.8 162.2,717.4 163.7,717.0 165.0,716.6 166.1,716.3 167.5,715.9 168.7,715.5 170.0,715.0 171.2,714.5 172.5,714.0 173.9,713.5 175.3,713.0 176.7,712.5 178.0,712.1 179.3,711.7 180.6,711.4 182.0,711.1 183.3,710.8 184.6,710.6 186.0,710.4 187.3,710.3 188.7,710.1 190.0,710.0 191.3,709.8 192.7,709.6 194.0,709.5 195.4,709.3 196.7,709.2 198.0,709.2 199.3,709.2 200.7,709.2 202.0,709.2 203.3,709.2 204.6,709.2 206.0,709.1 207.3,709.0 208.7,708.9 210.0,708.8 211.3,708.6 212.7,708.3 214.0,708.0 215.4,707.7 216.7,707.5 218.0,707.3 219.3,707.2 220.7,707.1 222.0,707.1 223.3,707.0 224.6,706.9 226.0,706.9 227.3,706.8 228.7,706.7 230.0,706.7 231.3,706.7 232.7,706.7 234.0,706.7 235.4,706.7 236.7,706.7 238.0,706.7 239.3,706.8 240.6,706.9 241.9,706.9 243.3,707.0 244.6,707.1 246.0,707.2 247.4,707.3 248.9,707.4 250.4,707.4 251.9,707.5 253.3,707.5 254.7,707.4 256.2,707.3 257.7,707.2 259.2,707.1 260.6,706.9 262.0,706.8 263.3,706.7 264.7,706.6 266.0,706.6 267.3,706.6 268.6,706.6 270.0,706.5 271.3,706.4 272.7,706.3 274.1,706.2 275.6,706.0 277.1,705.9 278.6,705.8 280.0,705.8 281.4,705.8 282.8,705.9 284.2,706.0 285.7,706.1 287.1,706.2 288.5,706.3 290.0,706.3 291.4,706.2 292.9,706.1 294.4,706.0 295.9,705.8 297.4,705.6 298.9,705.4 300.3,705.2 301.7,705.1 303.2,705.2 304.6,705.5 306.0,705.9 307.4,706.3 308.7,706.7 310.0,706.9 311.4,706.9 312.7,706.7 314.0,706.4 315.3,706.0 316.7,705.7 318.0,705.7 319.4,705.7 320.8,705.9 322.3,706.4 323.8,706.6 325.3,706.7 326.7,706.5 328.1,706.1 329.6,706.0 331.1,706.0 332.6,706.1 334.0,706.5 335.4,706.4 336.7,706.3 338.1,707.0 339.4,707.8 340.7,708.3 341.9,708.4 343.3,708.7 344.6,708.9 346.0,708.5 347.4,708.0 348.9,707.6 350.3,707.3 351.7,707.2 353.1,707.1 354.5,706.8 356.0,706.7 357.4,706.3 358.7,705.8 360.0,706.2 361.3,706.6 362.5,707.1 363.6,708.0 364.7,708.7 365.8,708.7 367.2,708.5 368.5,708.9 370.0,709.9 371.2,709.7 372.6,709.2 374.0,709.0 375.4,708.6 376.9,708.4 378.3,708.1 379.7,707.7 381.1,707.1 382.5,706.6 383.9,706.8 385.3,707.2 386.7,707.7 388.1,708.4 389.5,708.0 390.9,707.1 392.2,706.6 393.6,706.3 395.0,706.0 396.4,705.4 397.8,705.5 399.1,706.2 400.5,706.5 401.9,707.6 403.3,707.7 404.7,707.0 406.2,707.3 407.7,708.0 409.2,708.2 410.5,708.3 411.7,709.4 412.9,709.7 413.9,710.0 415.0,710.5 416.3,709.7 417.7,709.8 419.1,710.1 420.5,709.7 421.9,708.2 423.4,706.8 424.7,706.5 426.0,707.0 427.2,707.0 428.4,705.9 429.3,705.0 430.2,704.2 430.8,703.9 431.1,703.2 431.5,702.7 432.5,703.2 433.7,702.7 434.8,700.9 436.0,700.4 437.0,701.8 437.5,704.5 437.8,705.9 437.9,707.2 438.1,708.3 438.2,706.9 438.3,705.1 438.7,704.1 439.7,704.3 440.9,704.8 442.0,705.4 442.9,705.7 443.6,706.1 444.0,707.5 444.2,709.0 444.4,710.2 444.8,711.6 445.6,711.5 446.8,711.5 448.0,711.3 449.3,711.0 450.7,711.0 452.1,710.9 453.5,710.3 454.9,710.1 456.3,709.6 457.7,709.1 459.0,709.3 460.3,709.3 461.5,708.6 462.4,708.2 462.9,706.3 463.2,705.1 463.4,704.0 463.6,702.8 464.0,700.8 465.1,700.7 466.6,700.4 467.9,701.5 468.8,703.6 469.5,704.3 469.8,704.3 470.0,705.4 470.2,706.5 470.3,707.6 470.4,708.6 470.8,711.1 471.7,711.1 473.0,709.4 474.4,708.7 475.6,710.4 476.8,711.7 478.0,712.8 479.1,713.6 480.3,712.1 481.6,710.7 483.0,710.5 484.3,710.5 485.6,710.0 486.9,709.6 488.1,709.5 489.4,709.6 490.7,710.0 492.0,709.5 493.2,710.0 494.5,711.2 495.7,711.5 497.0,711.3 498.3,710.5 499.6,709.8 500.9,709.2 502.1,709.0 503.3,709.0 504.4,708.3 505.5,707.9 506.5,707.6 507.3,706.6 507.8,704.8 508.1,703.3 508.4,702.0 508.9,702.0 509.8,701.6 510.9,703.0 512.0,704.7 513.0,706.0 514.1,707.2 515.2,707.7 516.4,706.9 517.7,705.2 519.1,705.1 520.3,705.6 521.6,705.9 522.8,707.0 523.9,706.9 524.8,704.7 525.6,702.3 526.3,701.1 527.1,700.5 528.1,700.7 529.2,701.6 530.2,702.7 530.9,704.0 531.5,706.4 532.0,708.2 532.5,709.9 533.0,710.6 533.4,712.0 533.8,710.9 534.1,709.4 534.4,707.7 535.0,706.2 536.1,705.9 537.5,706.6 538.9,706.8 540.2,706.2 541.5,705.6 542.9,705.0 544.1,705.4 545.2,706.9 546.4,708.4 547.6,709.2 548.6,708.7 549.5,707.1 550.5,705.6 551.5,705.0 552.4,705.0 553.2,704.8 554.3,705.1 555.3,706.0 556.3,707.2 557.0,708.3 557.7,708.2 558.3,710.9 558.9,712.3 559.5,712.6 560.1,710.8 560.7,708.8 561.3,707.1 561.9,706.0 562.7,705.6 563.5,703.8 564.3,702.0 565.0,701.9 565.4,702.9 565.7,704.6 565.9,706.6 566.2,708.4 566.6,710.8 567.3,710.1 568.1,708.2 569.0,707.2 570.2,707.4 571.4,707.2"/>
<polyline stroke="#e83c1c" points="78.0,400.0 78.0,401.3 78.0,402.5 78.0,403.8 78.0,405.4 78.0,407.5 78.0,408.1 78.0,408.6 78.0,409.3 78.0,410.0 78.0,410.7 78.0,411.5 78.0,412.3 78.0,413.1 78.0,414.0 78.0,415.0 78.0,415.9 78.1,416.9 78.1,418.0 78.1,419.1 78.1,420.2 78.1,421.3 78.1,422.5 78.1,423.7 78.1,425.0 78.1,426.2 78.1,427.6 78.1,428.9 78.1,430.3 78.1,431.7 78.2,433.1 78.2,434.5 78.2,436.0 78.2,437.5 78.2,439.0 78.2,440.6 78.2,442.2 78.2,443.7 78.2,445.4 78.2,447.0 78.3,448.6 78.3,450.3 78.3,452.0 78.3,453.7 78.3,455.4 78.3,457.2 78.3,458.9 78.3,460.7 78.4,462.5 78.4,464.3 78.4,466.1 78.4,467.9 78.4,469.7 78.4,471.6 78.4,473.4 78.5,475.3 78.5,477.1 78.5,479.0 78.5,480.9 78.5,482.7 78.5,484.6 78.5,486.5 78.6,488.4 78.6,490.3 78.6,492.2 78.6,494.1 78.6,495.9 78.6,497.8 78.7,499.7 78.7,501.6 78.7,503.5 78.7,505.3 78.7,507.2 78.7,509.0 78.8,510.9 78.8,512.7 78.8,514.6 78.8,516.4 78.8,518.2 78.8,520.0 78.9,521.8 78.9,523.6 78.9,525.3 78.9,527.1 78.9,528.8 79.0,530.6 79.0,532.3 79.0,533.9 79.0,535.6 79.0,537.3 79.0,538.9 79.1,540.5 79.1,542.1 79.1,543.6 79.1,545.2 79.1,546.7 79.2,548.2 79.2,549.7 79.2,551.1 79.2,552.5 79.2,553.9 79.3,555.3 79.3,556.6 79.3,557.9 79.3,559.2 79.3,560.4 79.3,561.6 79.4,562.8 79.4,563.9 79.4,565.0 79.4,566.1 79.4,567.1 79.5,568.1 79.5,569.1 79.5,570.0 79.5,572.0 79.6,573.9 79.6,575.8 79.6,577.6 79.6,579.4 79.6,581.1 79.6,582.8 79.6,584.4 79.6,585.9 79.7,587.4 79.7,588.9 79.7,590.3 79.7,591.6 79.8,592.9 79.8,594.1 79.9,595.3 80.0,596.4 80.1,597.5 80.2,598.5 80.3,599.4 80.5,600.3 80.9,601.7 81.3,602.7 81.8,603.6 82.2,604.7 82.6,606.0 82.8,607.0 82.9,608.0 83.1,609.2 83.2,610.5 83.3,611.8 83.4,613.2 83.4,614.7 83.5,616.2 83.5,617.7 83.6,619.3 83.6,620.9 83.7,622.5 83.7,624.1 83.8,625.8 83.8,627.4 83.9,628.9 83.9,630.5 84.0,632.0 84.1,633.4 84.1,634.8 84.2,636.2 84.3,637.6 84.4,639.1 84.4,640.5 84.5,641.9 84.6,643.3 84.6,644.8 84.7,646.2 84.8,647.6 84.9,649.1 84.9,650.5 85.0,652.0 85.1,653.5 85.2,654.9 85.2,656.4 85.3,657.9 85.4,659.4 85.5,660.9 85.6,662.3 85.6,663.8 85.7,665.4 85.7,667.0 85.7,668.7 85.7,670.5 85.7,672.2 85.8,674.0 85.8,675.8 85.8,677.5 85.8,679.3 85.8,681.0 85.9,682.7 85.9,684.4 86.0,685.9 86.1,687.4 86.2,688.8 86.3,690.2 86.5,691.4 86.6,692.5 86.9,693.4 87.1,694.2 87.4,694.9 87.7,695.4 88.6,695.9 89.7,695.9 90.6,696.2 91.1,697.0 91.5,698.2 91.8,699.5 92.1,701.0 92.4,702.6 92.7,704.1 93.0,705.5 93.2,707.1 93.4,708.8 93.7,710.6 93.9,712.3 94.2,713.9 94.6,715.3 95.0,716.3 95.6,717.0 96.9,717.0 98.5,716.4 99.9,716.3 100.8,716.9 101.5,717.8 102.2,718.9 102.8,720.0 103.3,721.1 103.7,722.4 104.2,723.5 105.0,724.3 106.0,724.6 107.3,724.6 108.6,724.5 110.1,724.3 111.5,724.3 112.8,724.4 114.2,724.7 115.6,724.9 117.0,725.2 118.5,725.4 120.0,725.5 121.4,725.5 122.8,725.6 124.2,725.5 125.6,725.5 127.1,725.4 128.6,725.3 130.1,725.2 131.5,725.0 133.0,724.8 134.4,724.6 135.9,724.4 137.3,724.1 138.8,723.8 140.2,723.5 141.7,723.2 143.1,722.8 144.4,722.5 145.7,722.1 146.9,721.7 148.2,721.3 149.5,720.8 150.8,720.4 152.0,720.0 153.3,719.6 154.6,719.2 156.1,718.8 157.6,718.4 159.2,717.9 160.7,717.5 162.2,717.1 163.7,716.7 165.0,716.4 166.1,716.0 167.5,715.5 168.7,715.1 170.0,714.5 171.0,714.0 172.1,713.4 173.3,712.8 174.4,712.1 175.6,711.5 176.7,710.8 177.8,710.1 178.9,709.5 180.0,708.8 181.1,708.1 182.2,707.4 183.3,706.7 184.4,706.0 185.5,705.3 186.6,704.6 187.8,703.9 188.9,703.2 190.0,702.5 191.1,701.8 192.2,701.0 193.3,700.3 194.4,699.6 195.6,698.9 196.7,698.3 198.0,697.7 199.3,697.2 200.6,696.7 202.0,696.3 203.3,695.8 204.6,695.3 206.0,694.8 207.3,694.2 208.7,693.7 210.0,693.3 211.3,692.9 212.7,692.6 214.0,692.3 215.4,692.0 216.7,691.7 218.0,691.4 219.3,691.0 220.7,690.7 222.0,690.3 223.3,690.0 224.6,689.6 226.0,689.3 227.3,688.9 228.7,688.6 230.0,688.3 231.3,688.1 232.7,687.9 234.0,687.8 235.4,687.6 236.7,687.5 238.0,687.3 239.3,687.2 240.6,687.0 241.9,686.9 243.3,686.7 244.6,686.6 246.0,686.4 247.4,686.3 248.9,686.2 250.4,686.1 251.9,685.9 253.3,685.8 254.7,685.6 256.2,685.5 257.7,685.3 259.2,685.1 260.6,685.0 262.0,684.8 263.3,684.7 264.7,684.6 266.0,684.5 267.3,684.5 268.6,684.4 270.0,684.2 271.3,684.0 272.7,683.7 274.1,683.4 275.5,683.1 276.9,682.8 278.3,682.5 279.7,682.3 281.1,682.0 282.5,681.8 283.9,681.6 285.3,681.4 286.7,681.2 288.1,681.0 289.5,680.8 290.9,680.6 292.2,680.4 293.6,680.2 295.0,680.0 296.4,679.9 297.8,679.7 299.1,679.7 300.5,679.6 301.9,679.4 303.3,679.2 304.7,679.1 306.1,679.0 307.5,678.8 308.9,678.9 310.3,678.9 311.7,679.1 313.1,679.3 314.5,679.4 315.9,679.4 317.2,679.2 318.6,679.1 320.0,679.1 321.4,679.2 322.8,679.3 324.1,679.4 325.5,679.7 326.9,679.7 328.3,679.2 329.7,678.9 331.2,678.8 332.6,679.1 334.0,679.2 335.4,679.0 336.7,679.0 337.9,679.7 339.0,680.6 340.1,681.6 341.1,682.9 342.2,683.8 343.3,683.8 344.6,683.6 345.9,683.0 347.3,682.4 348.6,681.7 350.0,681.0 351.2,680.5 352.5,679.6 353.8,679.1 355.1,679.0 356.3,679.0 357.5,679.3 358.7,679.4 359.9,679.7 361.0,680.5 362.1,681.1 363.3,681.4 364.6,681.9 365.9,682.5 367.2,682.8 368.6,682.8 370.0,682.7 371.3,682.9 372.7,683.0 374.1,682.9 375.5,682.9 376.9,682.5 378.3,682.1 379.7,681.5 381.1,680.2 382.5,679.1 383.9,678.3 385.3,677.8 386.7,677.6 388.1,677.7 389.5,678.6 390.8,679.8 392.2,680.1 393.6,680.1 395.0,680.4 396.4,680.6 397.9,681.3 399.4,682.1 400.8,682.0 402.1,682.8 403.3,683.5 404.5,681.9 405.5,680.2 406.7,679.8 407.7,680.4 408.8,681.8 410.0,683.0 411.3,682.9 412.6,683.1 413.8,683.5 415.0,683.7 416.4,683.8 417.7,683.7 419.0,683.8 420.3,683.0 421.6,682.4 422.8,683.0 423.9,683.5 425.0,683.2 426.1,682.0 427.1,682.0 428.3,682.0 429.5,681.4 430.4,681.2 431.0,678.5 431.4,677.0 431.7,675.7 432.1,677.6 432.8,677.7 433.8,678.1 434.8,678.3 435.8,677.9 436.8,677.4 437.6,676.5 438.0,679.8 438.1,680.1 438.2,679.6 438.7,678.9 439.8,678.9 441.2,680.4 442.5,681.1 443.5,680.7 444.2,680.6 444.5,682.3 444.6,683.4 444.7,684.5 444.8,685.6 444.8,686.7 445.2,687.1 446.1,687.9 447.4,688.0 448.8,687.2 450.2,687.4 451.5,687.2 452.8,686.7 454.2,686.6 455.6,685.6 456.9,685.8 458.4,686.3 460.0,685.5 461.3,684.5 462.4,683.5 463.0,682.0 463.2,680.7 463.4,679.3 463.6,678.0 463.8,676.7 464.1,675.5 464.6,676.4 465.6,675.1 466.8,674.8 467.9,674.6 468.8,674.5 469.5,675.6 470.1,677.4 470.5,679.5 470.8,681.0 471.0,682.4 471.4,683.1 472.2,685.0 473.4,685.6 474.6,685.4 475.6,685.9 476.4,687.1 477.1,688.8 478.0,690.7 479.0,691.1 480.3,690.0 481.7,688.9 483.1,688.1 484.3,687.5 485.5,686.8 486.7,685.7 487.9,684.7 489.1,684.7 490.3,684.8 491.6,684.8 492.8,685.2 494.1,685.3 495.4,685.5 496.7,686.0 498.0,686.2 499.3,686.1 500.5,685.1 501.7,684.0 502.8,683.3 503.8,682.6 504.8,681.2 505.7,679.8 506.5,679.2 507.1,678.1 507.6,678.1 508.0,676.8 508.4,674.1 508.9,673.9 509.9,674.4 510.9,675.5 512.0,677.3 513.0,679.6 514.1,681.5 515.2,682.5 516.4,681.8 517.7,680.7 519.1,679.8 520.3,679.5 521.5,680.1 522.8,679.2 523.9,678.5 525.0,678.6 526.0,676.9 526.9,675.6 527.8,674.9 528.7,674.4 529.5,675.1 530.3,676.4 531.0,676.9 531.5,681.2 532.0,682.9 532.4,684.6 532.7,686.2 533.1,687.8 533.4,689.0 533.7,687.2 533.8,685.9 534.0,684.1 534.2,682.2 534.5,680.7 535.0,678.3 536.0,679.2 537.2,680.0 538.5,681.4 539.7,682.1 540.8,681.9 541.8,681.8 542.9,682.0 544.0,682.4 545.2,681.5 546.4,680.6 547.6,680.7 548.8,680.8 549.9,679.4 551.1,677.8 552.2,677.7 553.2,677.5 554.3,677.3 555.4,678.6 556.3,680.5 556.9,681.2 557.5,682.8 558.0,684.6 558.5,686.2 559.0,687.1 559.5,687.0 560.1,686.3 560.6,685.8 561.2,685.0 561.9,683.9 562.9,681.6 564.1,679.6 565.0,679.3 565.4,680.5 565.6,681.9 565.7,683.6 565.9,685.4 566.1,686.9 566.6,689.2 567.6,690.0 568.8,689.4 569.8,688.3 570.7,689.1 571.4,689.8"/>
<polyline stroke="#1616d2" points="83.7,400.0 83.7,401.2 83.7,402.2 83.7,403.3 83.8,404.4 83.8,405.8 83.8,407.5 83.8,408.2 83.8,409.0 83.8,409.9 83.8,410.8 83.8,411.8 83.9,412.8 83.9,413.9 83.9,415.0 83.9,416.1 83.9,417.3 83.9,418.6 83.9,419.9 84.0,421.2 84.0,422.6 84.0,424.0 84.0,425.4 84.0,426.9 84.0,428.3 84.0,429.9 84.1,431.4 84.1,433.0 84.1,434.6 84.1,436.2 84.1,437.9 84.1,439.5 84.2,441.2 84.2,442.9 84.2,444.6 84.2,446.3 84.2,448.1 84.2,449.8 84.3,451.6 84.3,453.3 84.3,455.1 84.3,456.8 84.3,458.6 84.4,460.3 84.4,462.1 84.4,463.8 84.4,465.6 84.4,467.3 84.4,469.0 84.5,470.7 84.5,472.4 84.5,474.1 84.5,475.8 84.5,477.4 84.6,479.1 84.6,480.7 84.6,482.2 84.6,483.8 84.6,485.3 84.6,486.7 84.6,488.2 84.7,489.7 84.7,491.3 84.7,492.8 84.7,494.4 84.7,495.9 84.7,497.5 84.7,499.1 84.8,500.7 84.8,502.4 84.8,504.0 84.8,505.6 84.8,507.3 84.8,508.9 84.8,510.6 84.8,512.2 84.9,513.9 84.9,515.6 84.9,517.2 84.9,518.9 84.9,520.6 84.9,522.2 84.9,523.9 85.0,525.6 85.0,527.2 85.0,528.9 85.0,530.5 85.0,532.1 85.0,533.7 85.0,535.3 85.1,536.9 85.1,538.5 85.1,540.1 85.1,541.6 85.1,543.2 85.1,544.7 85.1,546.2 85.2,547.7 85.2,549.2 85.2,550.6 85.2,552.0 85.2,553.4 85.2,554.8 85.3,556.2 85.3,557.5 85.3,558.8 85.3,560.0 85.3,561.3 85.4,562.5 85.4,563.7 85.4,564.8 85.4,565.9 85.4,567.0 85.5,568.0 85.5,569.0 85.5,570.0 85.5,571.9 85.6,573.8 85.6,575.5 85.6,577.2 85.6,578.8 85.6,580.4 85.7,581.8 85.7,583.2 85.7,584.5 85.8,585.7 85.9,586.8 86.0,587.8 86.2,588.8 86.5,590.3 86.8,591.6 87.2,592.6 87.7,593.1 88.4,592.8 89.3,591.9 90.3,590.9 91.3,590.3 92.5,590.4 93.8,590.8 94.9,591.7 95.5,592.5 96.0,593.5 96.4,594.7 96.8,596.0 97.1,597.4 97.5,598.8 97.8,600.3 98.1,601.5 98.3,602.8 98.5,604.1 98.7,605.5 98.8,606.9 99.0,608.3 99.2,609.8 99.3,611.3 99.4,612.9 99.6,614.4 99.7,616.0 99.9,617.6 100.0,618.9 100.2,620.3 100.3,621.6 100.4,623.0 100.5,624.4 100.7,625.9 100.8,627.3 100.9,628.8 101.0,630.3 101.1,631.8 101.3,633.2 101.4,634.7 101.5,636.2 101.6,637.7 101.7,639.2 101.9,640.7 102.0,642.1 102.1,643.6 102.2,645.1 102.3,646.5 102.5,648.0 102.6,649.5 102.7,651.0 102.8,652.5 102.9,654.0 103.0,655.5 103.2,657.0 103.3,658.5 103.4,660.0 103.5,661.4 103.6,662.9 103.8,664.3 103.9,665.6 104.0,667.0 104.2,668.2 104.3,669.5 104.5,671.2 104.6,672.9 104.6,674.7 104.7,676.4 104.8,678.1 105.0,679.6 105.2,681.0 105.4,682.2 105.9,683.2 106.4,683.9 107.5,684.3 108.8,684.2 110.1,684.0 111.5,683.9 113.0,684.1 114.5,684.4 115.9,684.8 117.2,685.4 118.3,686.2 119.2,687.2 120.0,688.4 120.8,689.7 121.3,690.8 121.7,692.2 122.0,693.6 122.3,695.1 122.6,696.7 122.9,698.3 123.3,699.8 123.7,701.2 124.2,702.6 124.6,704.0 125.1,705.5 125.6,706.9 126.2,708.3 126.7,709.5 127.3,710.5 128.0,711.3 129.1,712.1 130.4,712.6 131.6,712.7 132.6,712.4 133.7,711.7 134.8,711.0 135.9,710.6 137.1,710.6 138.4,711.0 139.7,711.3 140.9,711.3 142.2,710.7 143.4,709.8 144.6,708.8 145.9,708.4 147.1,708.6 148.4,709.1 149.7,709.8 151.0,710.6 152.1,711.4 153.3,712.3 154.5,713.4 155.7,714.4 157.0,715.1 158.2,715.6 159.5,715.7 160.8,715.5 162.1,715.1 163.4,714.7 164.7,714.2 165.9,713.7 167.1,713.1 168.4,712.5 169.6,711.8 170.8,711.2 171.9,710.6 173.1,710.0 174.3,709.4 175.5,708.9 176.7,708.3 178.0,707.7 179.3,707.1 180.6,706.4 182.0,705.7 183.3,705.0 184.4,704.3 185.5,703.7 186.7,702.9 187.8,702.2 188.9,701.5 190.0,700.8 191.1,700.1 192.2,699.4 193.4,698.8 194.5,698.1 195.6,697.4 196.7,696.7 197.8,696.0 198.9,695.3 200.0,694.6 201.1,694.0 202.2,693.2 203.3,692.5 204.4,691.7 205.5,690.9 206.7,690.0 207.8,689.2 208.9,688.3 210.0,687.5 211.1,686.7 212.2,685.8 213.3,685.0 214.5,684.1 215.6,683.3 216.7,682.5 217.8,681.8 218.9,681.0 220.0,680.3 221.1,679.6 222.2,678.9 223.3,678.3 224.6,677.6 226.0,677.0 227.3,676.4 228.7,675.7 230.0,675.0 231.1,674.2 232.2,673.4 233.3,672.4 234.4,671.5 235.6,670.7 236.7,670.0 238.0,669.3 239.3,668.8 240.6,668.3 242.0,667.9 243.3,667.5 244.6,667.2 246.0,667.1 247.3,667.0 248.7,666.9 250.0,666.7 251.3,666.4 252.7,666.1 254.0,665.8 255.4,665.4 256.7,665.0 258.0,664.5 259.3,664.0 260.6,663.4 262.0,662.9 263.3,662.5 264.6,662.3 265.9,662.2 267.3,662.1 268.6,662.0 270.0,661.7 271.3,661.3 272.7,660.8 274.1,660.2 275.5,659.5 276.9,658.9 278.3,658.3 279.5,657.8 280.7,657.3 281.9,656.8 283.1,656.4 284.3,655.9 285.5,655.4 286.7,655.0 288.1,654.5 289.5,654.1 290.9,653.7 292.2,653.3 293.6,652.9 295.0,652.4 296.4,651.9 297.8,651.4 299.1,650.8 300.5,650.3 301.9,649.7 303.3,649.2 304.7,648.7 306.1,648.2 307.5,647.7 308.9,647.3 310.3,647.0 311.7,646.7 313.1,646.7 314.5,646.7 315.8,646.6 317.2,646.2 318.6,645.8 320.0,645.7 321.4,645.8 322.8,646.0 324.1,645.9 325.5,645.7 326.9,645.7 328.3,645.4 329.6,645.2 331.0,645.0 332.4,644.5 333.7,643.9 335.0,643.3 336.3,643.0 337.5,642.9 338.7,643.2 339.9,643.8 340.9,644.8 342.1,645.4 343.3,645.9 344.6,646.4 345.9,647.1 347.4,647.9 348.8,648.5 350.3,648.8 351.7,648.3 353.0,647.4 354.3,646.7 355.6,645.8 356.9,645.2 358.2,644.2 359.5,643.1 360.6,642.2 361.7,641.9 362.8,642.7 363.9,643.4 364.8,644.0 365.8,644.9 366.7,645.2 367.8,645.1 368.8,645.0 370.0,645.2 371.2,645.5 372.5,645.9 373.9,646.2 375.4,645.7 376.9,645.1 378.3,644.6 379.7,644.4 381.1,644.1 382.5,643.8 383.9,642.8 385.3,642.1 386.7,641.7 388.1,641.1 389.5,641.6 390.9,642.1 392.2,641.8 393.6,641.7 395.0,642.6 396.4,644.1 397.8,644.3 399.2,644.2 400.5,645.1 401.9,644.9 403.3,644.4 404.7,643.8 406.2,643.0 407.7,643.2 409.2,643.4 410.5,643.4 411.7,644.2 412.9,645.1 413.9,644.4 415.0,642.9 416.0,642.5 417.0,643.3 418.0,644.4 419.0,646.3 420.0,648.0 421.0,647.9 422.0,647.8 423.0,646.9 424.0,645.1 425.0,643.4 426.0,641.7 427.2,640.7 428.4,640.4 429.5,640.6 430.4,640.7 431.0,639.8 431.4,638.5 431.7,638.3 432.1,637.5 432.9,637.5 433.8,637.2 434.8,638.1 435.8,638.5 436.9,638.3 437.6,639.2 437.9,643.2 438.1,642.8 438.3,643.1 438.6,641.4 439.2,640.3 440.2,639.0 441.4,639.0 442.5,640.8 443.5,642.2 444.2,641.9 444.7,643.6 445.0,645.0 445.3,646.2 445.8,645.3 446.7,645.2 448.0,645.6 449.2,646.6 450.5,646.9 452.0,646.5 453.5,646.0 454.8,645.7 456.2,645.8 457.6,645.8 459.0,644.8 460.3,644.6 461.3,645.0 462.2,645.5 463.0,645.4 463.5,644.3 463.8,642.9 464.0,641.7 464.1,640.5 464.2,639.3 464.2,638.2 464.6,636.6 465.7,636.6 467.2,636.5 468.4,636.2 469.2,637.6 469.7,640.0 470.1,641.2 470.3,642.4 470.4,643.5 470.5,644.6 470.8,645.4 471.7,646.4 473.0,647.0 474.4,647.8 475.6,648.9 476.8,649.5 478.0,648.5 479.1,648.5 480.3,649.2 481.6,649.3 483.0,650.3 484.3,651.7 485.4,651.1 486.5,648.8 487.6,646.5 488.7,645.8 489.9,645.9 491.0,645.7 492.2,645.7 493.5,645.7 494.9,645.9 496.3,646.7 497.6,647.0 498.9,646.4 500.2,646.2 501.4,645.7 502.5,645.6 503.6,646.4 504.7,646.6 505.6,646.0 506.5,645.2 507.3,643.0 507.9,640.6 508.4,639.0 508.9,637.0 509.6,636.2 510.5,636.9 511.5,638.4 512.6,639.2 513.6,639.7 514.7,640.3 515.7,640.2 516.8,639.1 517.8,639.1 518.7,640.9 519.7,642.7 520.7,643.3 521.9,643.4 523.2,643.8 524.4,643.2 525.5,641.7 526.4,640.4 527.1,639.4 527.8,638.7 528.6,638.7 529.9,638.8 531.4,639.3 532.6,640.0 533.2,640.0 533.5,641.8 533.7,643.7 533.9,645.2 534.2,646.0 534.7,646.0 535.2,644.7 535.8,642.4 536.5,641.3 537.3,641.0 538.3,641.9 539.3,643.2 540.3,644.8 541.3,646.0 542.2,645.5 543.1,644.1 544.0,643.1 545.0,642.6 546.0,641.4 547.1,640.3 548.4,639.7 549.7,638.9 550.9,637.9 552.1,637.1 553.2,637.1 554.1,637.3 555.0,637.7 555.8,639.0 556.5,641.1 557.1,642.6 557.7,643.5 558.2,645.4 558.6,647.2 559.0,650.1 559.5,650.7 560.1,649.6 560.6,647.5 561.2,645.6 561.9,644.2 562.7,643.2 563.5,642.3 564.3,640.6 565.0,639.8 565.4,640.2 565.7,641.5 566.0,643.3 566.3,645.2 566.6,647.0 566.9,648.4 567.4,648.6 568.6,648.8 569.8,648.5 570.4,648.5 570.9,649.9 571.4,651.5"/>
<polyline stroke="#c4be34" points="89.5,400.0 89.5,401.2 89.5,402.3 89.5,403.3 89.6,404.5 89.6,405.9 89.6,407.5 89.6,408.4 89.6,409.3 89.7,410.3 89.7,411.3 89.7,412.4 89.7,413.6 89.8,414.8 89.8,416.0 89.8,417.3 89.9,418.6 89.9,420.0 89.9,421.4 90.0,422.9 90.0,424.4 90.1,425.9 90.1,427.5 90.1,429.0 90.2,430.6 90.2,432.3 90.3,433.9 90.3,435.6 90.4,437.2 90.4,438.9 90.4,440.6 90.5,442.3 90.5,444.0 90.6,445.7 90.6,447.4 90.7,449.1 90.7,450.8 90.7,452.5 90.8,454.2 90.8,455.9 90.8,457.2 90.9,458.5 90.9,459.9 90.9,461.3 90.9,462.7 91.0,464.2 91.0,465.7 91.0,467.2 91.0,468.7 91.1,470.2 91.1,471.8 91.1,473.4 91.1,475.0 91.2,476.6 91.2,478.2 91.2,479.8 91.3,481.5 91.3,483.1 91.3,484.8 91.3,486.5 91.4,488.2 91.4,489.8 91.4,491.5 91.4,493.2 91.5,494.9 91.5,496.6 91.5,498.3 91.5,499.9 91.6,501.6 91.6,503.3 91.6,504.9 91.6,506.6 91.7,508.2 91.7,509.8 91.7,511.4 91.7,513.0 91.8,514.6 91.8,516.2 91.8,517.7 91.8,519.2 91.9,520.7 91.9,522.2 91.9,523.7 91.9,525.1 92.0,526.5 92.0,527.9 92.0,529.2 92.0,530.5 92.1,531.8 92.1,533.0 92.1,534.2 92.1,535.4 92.1,536.5 92.2,537.6 92.2,538.7 92.2,539.7 92.2,541.6 92.3,543.3 92.3,544.9 92.3,546.4 92.4,547.8 92.4,549.2 92.4,550.5 92.4,551.8 92.5,553.1 92.5,554.4 92.5,555.7 92.6,557.1 92.6,558.5 92.7,560.0 92.7,561.4 92.8,562.9 92.7,564.6 92.7,566.3 92.7,568.0 92.7,569.9 92.6,571.7 92.6,573.5 92.6,575.3 92.6,577.1 92.6,578.8 92.7,580.4 92.7,581.9 92.9,583.2 93.0,584.5 93.2,585.5 93.5,586.4 93.8,587.0 94.2,587.4 95.1,587.5 96.2,587.1 97.3,586.4 98.5,585.9 99.9,585.5 101.3,585.0 102.8,584.6 104.3,584.5 105.8,584.6 107.3,584.8 108.7,585.2 110.0,585.9 111.0,586.7 112.0,587.8 112.8,589.0 113.6,590.3 114.3,591.7 114.8,592.9 115.2,594.2 115.6,595.6 116.0,597.0 116.3,598.5 116.6,600.0 116.9,601.6 117.2,603.2 117.5,604.5 117.7,605.8 118.0,607.2 118.2,608.6 118.5,610.0 118.7,611.4 119.0,612.9 119.2,614.3 119.4,615.8 119.7,617.4 119.9,618.9 120.1,620.5 120.3,621.8 120.5,623.2 120.6,624.5 120.8,625.9 121.0,627.4 121.1,628.8 121.3,630.3 121.4,631.8 121.6,633.3 121.7,634.8 121.9,636.3 122.0,637.8 122.2,639.2 122.4,640.7 122.5,642.2 122.7,643.7 122.8,645.1 123.0,646.5 123.2,648.0 123.3,649.5 123.5,651.0 123.7,652.5 123.9,654.0 124.0,655.5 124.2,657.0 124.4,658.5 124.5,660.0 124.7,661.4 124.9,662.9 125.1,664.3 125.3,665.6 125.5,667.0 125.7,668.2 125.9,669.5 126.2,671.2 126.4,672.9 126.7,674.6 127.0,676.2 127.2,677.7 127.6,679.2 127.9,680.5 128.3,681.6 128.8,682.5 129.7,683.6 130.6,684.4 131.6,684.6 132.5,683.9 133.4,682.6 134.4,681.8 135.4,682.2 136.5,683.2 137.7,684.2 138.7,684.6 139.7,684.0 140.6,682.9 141.6,681.8 142.6,681.1 143.7,680.5 144.9,679.8 146.1,679.3 147.4,678.9 148.8,678.6 150.3,678.5 151.8,678.4 153.3,678.6 154.6,678.9 155.8,679.5 156.9,680.4 157.9,681.4 158.9,682.5 159.8,683.5 160.7,684.6 161.5,685.7 162.4,686.9 163.2,688.2 163.9,689.4 164.5,690.7 165.1,692.0 165.6,693.4 166.3,694.7 166.9,695.9 167.6,696.9 168.6,698.1 169.7,699.1 170.8,699.9 171.9,700.5 173.2,700.8 174.6,700.8 176.0,700.5 177.0,700.1 178.0,699.6 179.0,699.0 180.0,698.3 181.0,697.6 182.1,696.8 183.3,695.9 184.4,695.1 185.6,694.2 186.7,693.3 187.8,692.5 188.9,691.6 190.0,690.8 191.1,690.0 192.2,689.1 193.3,688.3 194.4,687.4 195.5,686.6 196.6,685.7 197.7,684.9 198.9,684.0 200.0,683.3 201.3,682.5 202.6,681.8 204.0,681.2 205.3,680.6 206.7,680.0 208.0,679.4 209.3,678.9 210.6,678.4 212.0,677.9 213.3,677.5 214.6,677.1 216.0,676.7 217.4,676.4 218.7,676.1 220.0,675.8 221.3,675.6 222.5,675.5 223.7,675.3 225.0,675.0 226.1,674.5 227.2,673.9 228.3,673.2 229.5,672.4 230.6,671.6 231.7,670.8 232.8,670.0 233.9,669.1 234.9,668.2 236.0,667.3 237.1,666.5 238.3,665.8 239.6,665.2 241.0,664.7 242.5,664.3 243.9,664.0 245.3,663.6 246.7,663.3 248.1,663.0 249.4,662.6 250.6,662.4 251.9,662.0 253.3,661.7 254.6,661.3 256.0,660.9 257.4,660.4 258.9,659.9 260.3,659.5 261.7,659.2 263.1,659.0 264.5,658.9 265.9,658.8 267.2,658.7 268.6,658.6 270.0,658.3 271.4,657.9 272.8,657.3 274.2,656.8 275.5,656.1 276.9,655.5 278.3,655.0 279.7,654.5 281.1,654.1 282.5,653.7 283.9,653.3 285.3,652.9 286.7,652.5 288.1,652.1 289.5,651.7 290.9,651.4 292.3,651.0 293.6,650.5 295.0,650.0 296.2,649.5 297.4,649.0 298.6,648.4 299.7,647.7 300.9,647.1 302.1,646.4 303.3,645.8 304.5,645.3 305.7,644.8 306.9,644.4 308.1,643.8 309.3,643.4 310.5,642.9 311.7,642.2 313.1,641.8 314.5,641.6 315.9,641.3 317.2,641.0 318.6,640.8 320.0,640.4 321.4,639.7 322.8,638.9 324.1,638.2 325.5,637.4 326.9,636.9 328.3,636.4 329.7,636.0 331.1,635.8 332.5,635.7 333.9,635.6 335.3,635.0 336.7,634.6 338.1,635.0 339.5,635.9 340.9,637.0 342.2,637.8 343.6,638.6 345.0,638.3 346.4,637.6 347.8,637.7 349.2,638.0 350.6,637.9 351.9,636.9 353.3,636.3 354.5,635.9 355.8,634.3 357.1,632.8 358.3,632.0 359.5,631.4 360.7,630.1 361.7,629.4 362.7,630.1 363.5,632.1 364.3,634.0 365.1,635.2 365.9,636.4 366.7,637.1 367.8,637.3 368.8,637.4 370.0,637.4 371.0,637.3 372.1,636.5 373.3,635.7 374.5,634.7 375.8,632.9 377.0,631.9 378.3,631.3 379.7,630.7 381.0,630.8 382.5,631.1 383.9,631.8 385.3,632.4 386.7,632.0 388.1,631.5 389.5,631.3 390.8,630.9 392.2,631.3 393.6,631.7 395.0,631.8 396.4,631.7 397.8,630.9 399.1,630.0 400.5,629.3 401.9,629.1 403.3,629.2 404.7,629.2 406.3,630.4 407.8,631.7 409.2,631.5 410.5,631.1 411.7,630.6 412.9,631.3 413.9,633.3 415.0,633.9 416.2,633.1 417.4,633.6 418.7,635.2 420.0,633.9 421.0,631.9 422.1,631.0 423.1,629.5 424.1,629.0 425.1,629.0 426.0,627.4 427.0,626.0 428.0,625.2 428.9,623.4 429.8,622.4 430.4,621.2 430.9,621.9 431.1,621.0 431.4,620.0 431.7,618.4 432.1,616.3 432.7,616.6 433.4,618.4 434.3,619.9 435.2,621.1 436.2,621.9 437.0,622.2 437.3,624.2 437.4,625.6 437.6,626.3 437.8,625.6 438.1,624.1 438.7,622.6 439.8,621.3 441.3,620.6 442.5,621.9 443.1,623.3 443.5,624.6 443.8,626.1 444.2,627.4 444.5,628.6 444.8,629.8 445.2,631.5 445.8,632.7 446.7,634.4 447.8,635.8 449.0,635.5 450.2,634.2 451.5,633.0 452.8,633.4 454.2,634.1 455.6,633.3 456.9,632.5 458.1,631.9 459.4,631.5 460.6,632.0 461.6,631.8 462.4,629.9 463.0,628.4 463.3,626.9 463.4,625.4 463.6,624.0 463.8,622.4 464.0,620.8 464.6,619.1 465.8,618.2 467.2,618.3 468.4,618.5 469.1,620.4 469.4,622.0 469.6,623.1 469.8,624.2 470.1,625.4 470.7,625.6 471.4,625.3 472.3,625.9 473.2,627.6 474.3,629.0 475.5,629.7 476.8,630.8 478.0,631.8 479.2,632.2 480.5,632.3 481.7,632.5 483.0,633.0 484.3,633.1 485.6,632.5 486.8,632.1 488.1,631.9 489.5,631.4 490.8,630.2 492.2,629.1 493.5,628.5 494.9,628.5 496.3,629.2 497.8,630.3 499.2,632.0 500.5,633.1 501.7,633.0 503.0,630.9 504.3,628.4 505.4,627.0 506.4,626.3 507.3,626.7 507.8,626.5 508.2,624.9 508.4,623.1 508.6,621.3 508.7,619.5 508.9,618.1 509.2,616.0 509.6,614.7 510.2,615.4 510.9,617.0 511.7,617.5 512.6,618.7 513.5,620.5 514.4,621.7 515.5,622.6 516.7,623.2 517.9,624.1 519.1,625.1 520.3,625.9 521.5,627.2 522.7,627.7 523.9,627.6 524.9,627.2 525.8,625.5 526.7,623.6 527.7,623.0 528.6,623.9 529.7,624.9 530.7,624.6 531.8,624.5 532.6,625.3 533.1,626.5 533.4,628.1 533.6,629.9 533.7,631.6 533.9,632.8 534.2,633.3 534.7,632.8 535.2,631.0 535.8,631.0 536.5,629.5 537.3,630.3 538.3,631.4 539.3,632.2 540.3,633.1 541.3,633.0 542.1,631.9 542.9,630.6 543.7,629.5 544.5,629.3 545.2,628.6 546.0,627.0 546.8,625.7 547.6,625.0 548.4,625.0 549.2,624.7 550.0,623.5 550.8,621.9 551.6,620.0 552.4,618.4 553.2,617.3 554.0,616.7 554.8,617.4 555.6,618.7 556.4,620.0 557.1,622.1 557.6,622.8 558.1,624.4 558.5,626.0 559.0,628.6 559.5,628.5 560.3,627.6 561.1,627.4 562.0,624.9 562.7,622.9 563.2,621.6 563.7,619.9 564.2,618.3 564.6,619.0 565.0,618.5 565.3,617.0 565.5,618.0 565.7,619.5 565.9,621.2 566.2,623.0 566.5,624.6 566.9,627.2 567.4,628.3 568.6,628.2 570.0,627.6 571.4,628.0"/>
<polyline stroke="#f2a834" points="96.7,400.0 96.7,401.2 96.7,402.3 96.7,403.3 96.8,404.5 96.8,405.9 96.8,407.5 96.8,408.4 96.8,409.3 96.8,410.3 96.9,411.4 96.9,412.5 96.9,413.7 96.9,414.9 96.9,416.2 97.0,417.6 97.0,419.0 97.0,420.4 97.0,421.9 97.1,423.4 97.1,424.9 97.1,426.5 97.2,428.0 97.2,429.7 97.2,431.3 97.2,432.9 97.3,434.6 97.3,436.3 97.3,438.0 97.4,439.6 97.4,441.3 97.4,443.0 97.5,444.7 97.5,446.3 97.5,448.0 97.6,449.6 97.6,451.2 97.6,452.8 97.7,454.4 97.7,455.9 97.7,457.3 97.8,458.7 97.8,460.2 97.8,461.6 97.9,463.0 97.9,464.5 97.9,465.9 97.9,467.4 98.0,468.8 98.0,470.3 98.0,471.8 98.1,473.2 98.1,474.7 98.1,476.2 98.2,477.6 98.2,479.1 98.2,480.6 98.3,482.1 98.3,483.6 98.3,485.0 98.4,486.5 98.4,488.0 98.4,489.5 98.5,491.0 98.5,492.5 98.5,493.9 98.6,495.4 98.6,496.9 98.7,498.4 98.7,499.9 98.8,501.4 98.8,502.8 98.8,504.3 98.9,505.8 98.9,507.3 99.0,508.8 99.0,510.2 99.1,511.7 99.2,513.2 99.2,514.7 99.3,516.3 99.4,517.9 99.4,519.6 99.5,521.3 99.6,523.0 99.7,524.8 99.7,526.5 99.8,528.3 99.9,530.1 100.0,531.9 100.1,533.6 100.2,535.4 100.2,537.2 100.3,539.0 100.4,540.8 100.5,542.5 100.6,544.2 100.7,545.9 100.8,547.6 100.9,549.2 100.9,550.8 101.0,552.4 101.1,553.9 101.2,555.4 101.3,556.8 101.3,558.1 101.4,559.4 101.5,560.6 101.6,561.8 101.6,562.9 101.7,563.9 101.7,564.8 101.8,565.6 101.8,566.4 101.9,567.0 101.9,567.6 102.0,568.9 102.1,570.0 102.2,571.1 102.2,572.6 102.2,574.2 102.3,576.0 102.4,577.7 102.6,579.3 103.0,580.6 103.5,581.6 104.5,582.3 105.8,582.7 107.2,582.8 108.6,583.0 110.0,583.2 111.4,583.4 112.9,583.5 114.3,583.8 115.5,584.1 116.7,584.5 117.8,584.9 119.0,585.4 120.1,586.0 121.3,586.9 122.4,587.9 123.6,589.0 124.7,589.9 125.8,590.3 126.9,590.1 128.0,589.6 129.1,588.8 130.1,588.1 131.1,587.2 132.0,586.2 132.9,585.4 133.7,585.2 134.3,585.7 134.8,586.6 135.2,587.9 135.6,589.5 136.0,591.2 136.4,593.0 136.8,594.6 137.3,596.0 137.9,597.3 138.5,598.5 139.1,599.8 139.8,601.0 140.4,602.2 141.0,603.4 141.6,604.7 142.1,605.9 142.6,607.1 143.1,608.4 143.5,609.6 144.0,610.9 144.4,612.2 144.8,613.5 145.2,614.8 145.6,616.1 145.9,617.5 146.3,618.9 146.6,620.3 146.9,621.8 147.2,623.2 147.5,624.7 147.8,626.2 148.1,627.7 148.3,629.1 148.6,630.5 148.8,631.9 149.0,633.4 149.2,634.9 149.4,636.3 149.5,637.8 149.7,639.3 149.9,640.7 150.1,642.2 150.3,643.6 150.5,645.1 150.7,646.5 150.9,648.0 151.1,649.5 151.3,650.9 151.5,652.3 151.7,653.8 151.9,655.2 152.2,656.6 152.4,658.0 152.7,659.5 153.0,661.0 153.3,662.5 153.6,664.0 153.9,665.5 154.2,666.9 154.6,668.4 154.9,669.7 155.3,671.0 155.7,672.6 156.1,674.3 156.6,675.9 157.0,677.3 157.6,678.4 158.2,678.9 159.3,678.6 160.6,677.7 161.8,676.7 162.8,675.9 163.7,675.0 164.7,674.6 165.9,675.2 167.1,676.2 168.3,676.7 169.1,676.2 170.0,675.2 170.8,674.0 171.6,672.7 172.5,671.6 173.3,671.0 174.4,670.9 175.6,671.2 176.7,671.5 177.8,671.9 178.9,672.4 180.0,672.5 180.9,672.1 181.8,671.3 182.7,670.3 183.7,669.1 184.6,667.9 185.7,666.8 186.7,665.8 187.8,664.9 189.0,664.0 190.3,663.1 191.5,662.2 192.7,661.4 193.9,660.7 195.0,660.0 196.3,659.1 197.6,658.3 198.8,657.7 200.0,657.5 201.2,657.8 202.5,658.4 203.8,659.3 205.0,660.0 206.3,660.6 207.5,661.2 208.8,661.8 210.0,662.5 211.3,663.3 212.5,664.3 213.7,665.1 215.0,665.8 216.2,666.2 217.5,666.4 218.7,666.5 220.0,666.7 221.3,667.0 222.5,667.3 223.8,667.6 225.0,667.5 226.3,667.0 227.5,666.2 228.7,665.2 230.0,664.2 231.1,663.3 232.2,662.4 233.3,661.4 234.4,660.3 235.6,659.3 236.7,658.3 237.8,657.2 238.9,656.1 239.9,654.9 241.0,653.9 242.1,653.1 243.3,652.5 244.6,652.4 245.9,652.6 247.3,652.9 248.7,653.3 250.0,653.3 251.4,653.0 252.7,652.5 254.0,652.0 255.4,651.4 256.7,650.8 258.0,650.2 259.3,649.6 260.7,649.0 262.0,648.5 263.3,648.3 264.6,648.4 265.9,648.9 267.3,649.4 268.6,649.9 270.0,650.0 271.3,649.8 272.7,649.3 274.1,648.7 275.5,648.0 276.9,647.3 278.3,646.7 279.5,646.2 280.7,645.7 281.9,645.1 283.1,644.6 284.3,644.1 285.5,643.6 286.7,643.3 288.1,643.0 289.4,642.9 290.8,642.7 292.2,642.7 293.6,642.6 295.0,642.5 296.4,642.4 297.8,642.2 299.2,642.0 300.6,641.7 302.0,641.5 303.3,641.5 304.7,641.6 306.1,641.9 307.5,642.3 308.8,642.4 310.0,642.4 311.1,642.1 312.0,641.3 312.9,640.2 313.9,639.1 315.0,638.1 316.2,637.8 317.6,637.8 319.0,637.6 320.4,637.3 321.9,636.9 323.3,636.4 324.7,636.2 326.1,635.8 327.6,635.2 329.0,634.7 330.4,634.3 331.7,634.2 333.1,633.9 334.4,633.6 335.7,633.4 337.0,633.0 338.3,633.2 339.4,633.6 340.5,634.0 341.6,635.0 342.8,636.0 343.9,636.8 345.0,637.8 346.3,638.0 347.7,637.9 349.1,637.5 350.4,636.6 351.7,636.0 353.0,635.1 354.3,634.4 355.5,634.0 356.7,633.1 358.0,631.7 359.2,630.6 360.5,629.9 361.7,629.4 362.6,629.8 363.4,631.3 364.3,633.0 365.1,634.2 365.9,635.2 366.7,636.1 367.8,636.4 368.8,636.1 370.0,635.5 371.0,635.0 372.1,634.2 373.3,634.0 374.5,633.6 375.8,633.1 377.1,632.7 378.3,631.6 379.7,630.2 381.1,629.2 382.5,628.3 383.9,627.4 385.3,626.7 386.7,626.2 388.1,625.9 389.5,626.3 390.8,627.7 392.2,628.7 393.6,628.5 395.0,627.8 396.4,627.9 397.8,628.1 399.1,627.5 400.5,627.7 401.9,628.1 403.3,628.1 404.7,628.2 406.2,627.5 407.7,627.0 409.2,627.7 410.5,628.1 411.7,627.9 412.9,628.4 413.9,629.8 415.0,631.5 416.2,632.3 417.5,631.9 418.7,631.6 420.0,631.4 421.0,631.1 422.1,629.6 423.1,628.0 424.1,626.6 425.1,624.9 426.0,623.9 427.0,622.6 428.0,622.1 428.9,621.0 429.8,620.2 430.4,619.0 430.9,618.6 431.1,617.5 431.4,616.5 431.7,615.1 432.1,611.9 432.8,612.4 433.8,615.0 434.8,616.6 435.7,617.3 436.6,617.8 437.6,618.5 438.9,619.4 440.2,619.2 441.4,618.5 442.2,618.4 443.0,618.7 443.6,619.7 444.1,621.9 444.4,623.4 444.7,624.9 445.2,626.0 445.8,627.2 446.7,628.1 447.8,628.6 449.0,629.4 450.2,630.0 451.5,628.3 452.8,626.6 454.2,626.3 455.6,625.6 456.9,625.3 458.4,625.7 460.0,625.3 461.3,623.8 462.4,622.3 463.0,624.1 463.3,622.8 463.4,621.3 463.6,620.0 463.8,618.6 464.1,617.4 464.6,614.1 465.9,613.8 467.7,614.3 469.0,615.3 469.5,616.7 469.7,617.9 469.9,619.0 470.1,620.5 470.6,622.9 471.7,624.1 473.1,624.4 474.5,624.8 475.4,625.7 476.2,626.7 477.0,627.4 478.0,627.3 479.1,627.4 480.3,628.2 481.6,629.4 483.0,629.7 484.3,629.5 485.6,629.6 486.8,628.6 488.1,628.0 489.5,627.2 490.8,626.4 492.2,625.7 493.5,625.1 494.9,626.4 496.3,627.3 497.8,627.6 499.2,628.9 500.5,629.1 501.7,628.0 503.0,627.5 504.3,626.7 505.4,626.2 506.4,626.1 507.3,624.9 507.8,623.4 508.2,621.8 508.4,620.1 508.6,618.3 508.8,616.8 509.1,616.9 509.6,614.9 510.4,613.8 511.3,614.5 512.3,616.3 513.4,617.4 514.4,617.9 515.6,617.8 516.7,618.7 517.9,619.8 519.1,618.9 520.3,618.6 521.6,619.7 522.8,620.8 523.9,620.7 524.9,619.5 525.8,618.9 526.7,618.0 527.6,616.9 528.6,617.3 530.0,618.6 531.4,619.6 532.6,619.0 533.1,620.2 533.4,622.0 533.6,623.9 533.7,625.7 533.9,627.1 534.2,626.7 534.7,627.4 535.2,627.4 535.7,626.0 536.5,624.3 537.6,624.3 538.8,624.8 540.1,625.7 541.3,625.2 542.1,623.7 542.8,622.6 543.4,620.7 544.1,619.6 544.7,617.8 545.3,616.4 546.0,616.0 546.8,614.2 547.6,613.2 548.4,612.5 549.2,611.1 550.0,610.2 550.8,609.1 551.6,608.2 552.4,607.9 553.2,606.3 553.9,604.6 554.7,603.0 555.5,602.3 556.4,603.6 557.2,606.4 557.9,608.8 558.5,610.4 559.1,612.1 559.7,613.6 560.3,613.8 560.9,613.4 561.5,611.3 562.1,609.4 562.8,608.4 563.4,607.3 564.0,606.9 564.6,609.0 565.2,610.6 565.8,611.1 566.6,612.9 567.7,614.8 568.9,616.0 570.2,616.0 571.4,615.7"/>
<polyline stroke="#7c0a2c" points="112.9,400.0 112.9,401.2 113.0,402.3 113.0,403.3 113.1,404.5 113.1,405.9 113.2,407.5 113.2,408.4 113.3,409.3 113.3,410.3 113.4,411.4 113.5,412.6 113.5,413.8 113.6,415.1 113.7,416.4 113.7,417.8 113.8,419.2 113.9,420.6 114.0,422.1 114.0,423.7 114.1,425.3 114.2,426.9 114.3,428.5 114.4,430.1 114.5,431.8 114.6,433.4 114.7,435.1 114.8,436.8 114.9,438.5 115.0,440.1 115.1,441.8 115.2,443.5 115.3,445.1 115.4,446.7 115.4,448.3 115.5,449.9 115.6,451.5 115.7,453.0 115.8,454.5 115.9,455.9 116.0,457.4 116.1,459.0 116.2,460.5 116.3,462.0 116.4,463.6 116.5,465.1 116.6,466.6 116.7,468.1 116.8,469.6 116.9,471.1 117.0,472.6 117.1,474.1 117.2,475.6 117.3,477.0 117.4,478.5 117.5,480.0 117.6,481.5 117.7,483.0 117.8,484.4 117.9,485.9 118.0,487.4 118.1,488.9 118.2,490.4 118.3,491.8 118.4,493.3 118.5,494.8 118.6,496.3 118.7,497.8 118.8,499.3 118.9,500.8 119.0,502.4 119.1,503.9 119.2,505.5 119.3,507.0 119.4,508.6 119.6,510.2 119.7,511.8 119.8,513.4 119.9,515.0 120.0,516.5 120.1,518.1 120.2,519.7 120.3,521.2 120.4,522.8 120.6,524.3 120.7,525.8 120.8,527.3 120.9,528.8 120.9,530.3 121.0,531.7 121.1,533.1 121.2,534.5 121.3,535.9 121.4,537.2 121.4,538.5 121.5,539.7 121.6,541.4 121.6,543.1 121.7,544.7 121.7,546.3 121.7,547.9 121.8,549.4 121.8,550.9 121.8,552.4 121.8,553.8 121.9,555.1 121.9,556.4 122.0,557.7 122.1,558.9 122.2,560.0 122.4,561.5 122.7,562.8 123.0,563.9 123.2,565.1 123.5,566.3 123.7,567.6 123.8,568.9 123.9,570.2 123.9,571.6 124.0,573.1 124.0,574.5 124.1,575.9 124.2,577.3 124.3,578.7 124.5,580.3 124.7,582.1 124.9,584.0 125.2,585.7 125.5,587.2 126.0,588.3 126.5,588.8 127.3,588.7 128.2,588.0 129.2,587.0 130.1,585.9 130.7,584.8 131.3,583.3 131.8,581.7 132.3,580.1 132.8,578.7 133.2,577.7 133.7,577.3 134.2,577.8 134.6,579.1 135.0,580.8 135.5,582.5 136.0,583.8 136.6,584.5 137.4,584.3 138.4,583.5 139.4,582.4 140.5,581.2 141.6,580.2 142.6,579.2 143.7,578.1 144.9,577.0 146.0,576.0 147.1,575.3 148.1,575.1 149.1,575.5 150.1,576.3 151.1,577.4 152.1,578.6 153.1,579.5 154.4,580.5 155.7,581.4 157.0,582.1 158.2,582.3 159.1,581.7 159.9,580.5 160.8,579.1 161.6,577.9 162.5,577.3 163.7,577.7 165.1,578.8 166.4,579.9 167.6,580.2 168.4,579.5 169.1,578.0 169.8,576.4 170.4,575.0 171.2,574.4 172.0,574.7 172.8,575.6 173.7,576.7 174.6,577.9 175.5,578.7 176.6,579.3 177.8,579.9 178.9,580.2 180.0,580.2 180.9,579.6 181.7,578.5 182.5,577.2 183.4,576.2 184.2,575.8 185.0,576.2 185.8,577.2 186.6,578.5 187.4,579.9 188.3,581.0 189.2,581.7 190.6,581.7 192.1,581.3 193.6,580.8 195.0,580.8 196.0,581.4 196.9,582.2 197.7,583.3 198.5,584.5 199.2,585.8 199.8,586.9 200.3,588.2 200.9,589.6 201.3,591.0 201.8,592.4 202.3,593.9 202.8,595.3 203.3,596.7 203.8,598.0 204.3,599.2 204.9,600.5 205.4,601.7 205.9,602.9 206.5,604.2 207.0,605.4 207.5,606.7 208.0,608.0 208.4,609.3 208.9,610.6 209.4,611.9 209.8,613.2 210.3,614.6 210.7,615.8 211.2,617.1 211.7,618.3 212.3,619.6 212.8,620.9 213.4,622.1 214.0,623.4 214.5,624.5 215.2,625.7 215.8,626.7 216.6,627.8 217.4,628.8 218.3,629.7 219.1,630.6 220.0,631.7 220.7,632.8 221.4,634.1 222.1,635.5 222.9,636.8 223.6,638.0 224.3,638.8 225.0,639.2 226.1,638.7 227.2,637.5 228.3,636.7 229.4,636.9 230.6,637.4 231.7,637.5 232.8,636.9 233.8,635.9 234.8,634.6 235.8,633.3 236.5,632.2 237.2,630.9 237.8,629.5 238.5,628.3 239.2,627.3 240.0,626.7 241.2,626.7 242.4,627.1 243.7,627.7 245.0,628.3 246.3,628.9 247.5,629.5 248.8,630.0 250.0,630.0 250.9,629.5 251.7,628.6 252.4,627.4 253.2,626.2 254.1,625.1 255.0,624.2 256.2,623.4 257.6,622.8 259.0,622.2 260.4,621.9 261.7,621.7 263.0,621.9 264.3,622.5 265.5,623.0 266.7,623.3 267.8,623.2 268.9,622.9 270.0,622.5 271.2,622.0 272.5,621.4 273.9,620.6 275.3,619.9 276.7,619.2 278.0,618.5 279.3,617.8 280.6,617.0 282.0,616.4 283.3,615.8 284.6,615.4 286.0,615.1 287.3,614.8 288.7,614.5 290.0,614.2 291.3,613.7 292.7,613.2 294.0,612.6 295.4,612.1 296.7,611.7 298.0,611.2 299.3,610.7 300.7,610.3 302.0,610.2 303.3,610.2 304.7,610.5 306.1,611.3 307.4,612.3 308.7,613.1 310.0,613.4 311.1,612.8 312.1,611.7 313.1,610.3 314.0,609.1 314.9,608.2 315.8,607.8 316.6,608.2 317.2,609.2 317.8,611.1 318.4,612.0 319.1,613.5 320.0,614.4 321.2,614.5 322.6,613.9 324.0,613.1 325.4,612.4 326.7,612.6 327.6,613.0 328.4,613.7 329.2,614.7 330.0,615.6 330.8,616.8 331.7,618.1 333.1,618.8 334.6,619.0 336.1,619.0 337.5,619.6 338.4,620.4 339.2,621.7 340.0,623.2 340.8,624.2 341.5,625.4 342.4,626.4 343.3,627.2 344.6,628.0 345.9,628.4 347.4,628.4 348.7,628.1 350.0,627.6 351.1,626.6 352.1,625.9 353.0,625.5 353.9,624.4 355.0,623.1 356.1,622.6 357.2,622.6 358.4,622.6 359.6,622.3 360.8,621.8 362.0,621.8 363.2,622.2 364.5,622.4 365.6,622.7 366.7,623.0 367.8,623.1 368.8,623.2 370.0,623.0 371.2,623.0 372.5,623.1 374.0,622.8 375.4,622.0 376.9,621.3 378.3,621.1 379.5,620.9 380.7,619.9 381.9,618.5 383.1,618.2 384.3,617.3 385.5,616.0 386.7,615.5 388.0,615.1 389.4,615.5 390.8,616.2 392.2,616.3 393.6,616.7 395.0,616.7 396.4,617.0 397.8,617.9 399.3,619.1 400.7,620.3 402.0,621.0 403.3,621.0 404.4,619.7 405.4,618.0 406.4,616.6 407.3,616.0 408.2,615.1 409.1,614.6 410.0,614.4 411.0,614.2 412.0,616.0 413.0,617.6 414.0,617.8 415.0,617.7 416.2,618.0 417.5,618.5 418.8,618.6 420.0,618.5 420.9,618.8 421.8,618.4 422.7,617.1 423.6,615.7 424.4,614.8 425.2,613.8 426.0,612.6 427.2,610.8 428.3,608.8 429.3,608.3 429.8,608.9 430.2,607.7 430.6,606.6 430.9,605.5 431.3,604.1 431.6,603.6 432.1,602.9 432.9,602.9 433.9,603.2 434.8,604.2 435.8,604.9 436.7,605.8 437.6,606.8 438.5,605.7 439.4,602.6 440.3,601.3 441.5,603.0 442.5,605.5 443.1,605.5 443.4,607.0 443.7,608.5 443.9,610.0 444.2,611.5 444.7,612.6 445.6,613.6 446.7,614.0 448.0,614.3 449.3,614.9 450.7,615.7 452.2,615.5 453.5,615.8 454.5,616.7 455.4,616.4 456.3,616.7 457.1,616.8 458.0,616.7 459.2,617.0 460.3,617.4 461.3,617.7 461.8,616.6 462.2,615.3 462.4,613.8 462.6,612.4 462.8,611.0 463.0,609.5 463.1,607.9 463.4,606.5 464.0,603.4 465.1,602.9 466.5,603.9 468.0,604.8 469.0,604.7 469.5,605.1 469.7,606.3 469.8,607.7 469.9,609.0 470.0,610.4 470.1,611.8 470.6,614.0 471.3,614.7 472.3,614.6 473.5,614.9 474.6,616.1 475.6,618.4 476.8,619.0 478.0,618.0 478.9,618.4 479.9,619.2 481.0,620.2 482.2,621.0 483.5,622.4 484.7,624.4 485.9,625.0 487.2,625.4 488.5,625.7 489.8,625.0 491.1,623.6 492.5,622.5 493.8,622.6 495.1,623.0 496.5,623.4 497.9,625.0 499.2,626.1 500.5,625.6 501.7,625.0 503.0,624.2 504.2,623.7 505.4,623.1 506.4,621.2 507.3,620.3 507.9,620.2 508.3,618.6 508.5,616.9 508.7,615.4 509.1,614.3 509.6,613.6 510.5,613.7 511.5,614.4 512.6,615.1 513.6,614.8 514.7,615.5 515.7,617.3 516.8,618.3 517.9,618.2 519.1,618.7 520.3,619.7 521.5,621.5 522.6,621.8 523.6,620.4 524.6,619.2 525.5,617.6 526.3,615.6 527.1,613.4 527.8,611.2 528.6,610.0 529.6,609.7 530.7,610.8 531.7,613.1 532.6,615.2 533.1,616.4 533.4,618.0 533.6,619.6 533.9,620.9 534.2,620.5 534.7,620.2 535.1,619.4 535.7,617.3 536.5,616.6 537.5,616.5 538.8,616.9 540.1,617.1 541.3,616.6 542.2,615.6 543.2,614.6 544.1,613.7 545.0,611.4 545.9,609.3 546.8,608.3 547.6,606.7 548.4,605.3 549.3,604.5 550.1,604.5 550.8,603.6 551.6,602.1 552.4,602.0 553.2,601.3 554.2,598.9 555.2,597.8 556.2,599.0 557.1,600.9 558.0,603.5 558.8,605.5 559.5,606.2 560.3,606.4 560.9,606.8 561.5,605.4 562.1,603.7 562.6,601.8 563.2,600.1 563.7,598.4 564.2,598.5 564.6,599.2 565.0,599.9 565.4,601.4 565.7,603.0 566.1,604.5 566.6,606.0 567.4,606.3 568.2,606.0 569.0,605.9 569.8,605.7 570.6,604.8 571.4,604.0"/>
</g>
<text x="33.90 44.25 49.42 59.76" y="727.30" font-size="18.6">0.00</text>
<text x="33.90 44.25 49.42" y="626.46" font-size="18.6">0.0</text><path d="M65.15,626.46 L66.84,626.46 L66.84,613.44 L65.75,613.44 L65.15,614.46 L64.13,615.39 L62.46,616.23 L62.46,617.44 L63.85,616.97 L65.15,616.14Z"/>
<text x="33.90 44.25 49.42 59.76" y="520.06" font-size="18.6">0.02</text>
<text x="33.90 44.25 49.42 59.76" y="419.12" font-size="18.6">0.03</text>
<text x="69.53" y="750.00" font-size="18.6">0</text>
<text x="163.66 174.00 184.34" y="750.00" font-size="18.6">000</text><path d="M158.71,750.00 L160.40,750.00 L160.40,736.98 L159.31,736.98 L158.71,738.00 L157.69,738.93 L156.01,739.77 L156.01,740.98 L157.41,740.51 L158.71,739.68Z"/>
<text x="252.62 262.96 273.30 283.64" y="750.00" font-size="18.6">2000</text>
<text x="351.92 362.26 372.60 382.94" y="750.00" font-size="18.6">3000</text>
<text x="451.22 461.56 471.90 482.24" y="750.00" font-size="18.6">4000</text>
<text x="550.52 560.86 571.20 581.54" y="750.00" font-size="18.6">5000</text>
<text x="322.95" y="770.3" text-anchor="middle">t</text>
<line x1="506" y1="429" x2="552" y2="429" stroke="#000000" stroke-width="1.5" opacity="0.9"/>
<text x="477.39 481.96 490.18" y="433.00" font-size="14.6">r=3</text>
<line x1="506" y1="441.08" x2="552" y2="441.08" stroke="#e83c1c" stroke-width="1.5" opacity="0.9"/>
<text x="477.39 481.96 490.18" y="445.08" font-size="14.6">r=5</text>
<line x1="506" y1="453.16" x2="552" y2="453.16" stroke="#1616d2" stroke-width="1.5" opacity="0.9"/>
<text x="469.58 474.14 490.18" y="457.16" font-size="14.6">r=0</text><path d="M486.60,457.16 L487.93,457.16 L487.93,446.94 L487.07,446.94 L486.60,447.74 L485.80,448.47 L484.48,449.13 L484.48,450.08 L485.58,449.71 L486.60,449.06Z"/>
<line x1="506" y1="465.24" x2="552" y2="465.24" stroke="#c4be34" stroke-width="1.5" opacity="0.9"/>
<text x="469.58 474.14 490.18" y="469.24" font-size="14.6">r=5</text><path d="M486.60,469.24 L487.93,469.24 L487.93,459.02 L487.07,459.02 L486.60,459.82 L485.80,460.55 L484.48,461.21 L484.48,462.16 L485.58,461.79 L486.60,461.14Z"/>
<line x1="506" y1="477.32" x2="552" y2="477.32" stroke="#f2a834" stroke-width="1.5" opacity="0.9"/>
<text x="469.58 474.14 482.36 490.18" y="481.32" font-size="14.6">r=20</text>
<line x1="506" y1="489.4" x2="552" y2="489.4" stroke="#7c0a2c" stroke-width="1.5" opacity="0.9"/>
<text x="469.58 474.14 482.36 490.18" y="493.40" font-size="14.6">r=30</text>
<text transform="translate(20.0,586.0) rotate(-90)" font-size="18.5">M</text><text transform="translate(23.2,570.2) rotate(-90)" font-size="11">ejec</text><circle cx="2" cy="578.5" r="1.1" fill="#000"/>
<clipPath id="c3"><rect x="74.7" y="811" width="502.7" height="325"/></clipPath>
<path d="M74.7,811H577.4V1134.8H74.7Z M74.7,1134.8v-6.0 M74.7,811v6.0 M84.75,1134.8v-3.0 M84.75,811v3.0 M94.81,1134.8v-3.0 M94.81,811v3.0 M104.86,1134.8v-3.0 M104.86,811v3.0 M114.92,1134.8v-3.0 M114.92,811v3.0 M124.97,1134.8v-3.0 M124.97,811v3.0 M135.02,1134.8v-3.0 M135.02,811v3.0 M145.08,1134.8v-3.0 M145.08,811v3.0 M155.13,1134.8v-3.0 M155.13,811v3.0 M165.19,1134.8v-3.0 M165.19,811v3.0 M175.24,1134.8v-6.0 M175.24,811v6.0 M185.29,1134.8v-3.0 M185.29,811v3.0 M195.35,1134.8v-3.0 M195.35,811v3.0 M205.4,1134.8v-3.0 M205.4,811v3.0 M215.46,1134.8v-3.0 M215.46,811v3.0 M225.51,1134.8v-3.0 M225.51,811v3.0 M235.56,1134.8v-3.0 M235.56,811v3.0 M245.62,1134.8v-3.0 M245.62,811v3.0 M255.67,1134.8v-3.0 M255.67,811v3.0 M265.73,1134.8v-3.0 M265.73,811v3.0 M275.78,1134.8v-6.0 M275.78,811v6.0 M285.83,1134.8v-3.0 M285.83,811v3.0 M295.89,1134.8v-3.0 M295.89,811v3.0 M305.94,1134.8v-3.0 M305.94,811v3.0 M316,1134.8v-3.0 M316,811v3.0 M326.05,1134.8v-3.0 M326.05,811v3.0 M336.1,1134.8v-3.0 M336.1,811v3.0 M346.16,1134.8v-3.0 M346.16,811v3.0 M356.21,1134.8v-3.0 M356.21,811v3.0 M366.27,1134.8v-3.0 M366.27,811v3.0 M376.32,1134.8v-6.0 M376.32,811v6.0 M386.37,1134.8v-3.0 M386.37,811v3.0 M396.43,1134.8v-3.0 M396.43,811v3.0 M406.48,1134.8v-3.0 M406.48,811v3.0 M416.54,1134.8v-3.0 M416.54,811v3.0 M426.59,1134.8v-3.0 M426.59,811v3.0 M436.64,1134.8v-3.0 M436.64,811v3.0 M446.7,1134.8v-3.0 M446.7,811v3.0 M456.75,1134.8v-3.0 M456.75,811v3.0 M466.81,1134.8v-3.0 M466.81,811v3.0 M476.86,1134.8v-6.0 M476.86,811v6.0 M486.91,1134.8v-3.0 M486.91,811v3.0 M496.97,1134.8v-3.0 M496.97,811v3.0 M507.02,1134.8v-3.0 M507.02,811v3.0 M517.08,1134.8v-3.0 M517.08,811v3.0 M527.13,1134.8v-3.0 M527.13,811v3.0 M537.18,1134.8v-3.0 M537.18,811v3.0 M547.24,1134.8v-3.0 M547.24,811v3.0 M557.29,1134.8v-3.0 M557.29,811v3.0 M567.35,1134.8v-3.0 M567.35,811v3.0 M577.4,1134.8v-6.0 M577.4,811v6.0 M74.7,1134.8h10.0 M577.4,1134.8h-10.0 M74.7,1118.61h5.0 M577.4,1118.61h-5.0 M74.7,1102.42h5.0 M577.4,1102.42h-5.0 M74.7,1086.23h5.0 M577.4,1086.23h-5.0 M74.7,1070.04h5.0 M577.4,1070.04h-5.0 M74.7,1053.85h10.0 M577.4,1053.85h-10.0 M74.7,1037.66h5.0 M577.4,1037.66h-5.0 M74.7,1021.47h5.0 M577.4,1021.47h-5.0 M74.7,1005.28h5.0 M577.4,1005.28h-5.0 M74.7,989.09h5.0 M577.4,989.09h-5.0 M74.7,972.9h10.0 M577.4,972.9h-10.0 M74.7,956.71h5.0 M577.4,956.71h-5.0 M74.7,940.52h5.0 M577.4,940.52h-5.0 M74.7,924.33h5.0 M577.4,924.33h-5.0 M74.7,908.14h5.0 M577.4,908.14h-5.0 M74.7,891.95h10.0 M577.4,891.95h-10.0 M74.7,875.76h5.0 M577.4,875.76h-5.0 M74.7,859.57h5.0 M577.4,859.57h-5.0 M74.7,843.38h5.0 M577.4,843.38h-5.0 M74.7,827.19h5.0 M577.4,827.19h-5.0 M74.7,811h10.0 M577.4,811h-10.0" fill="none" stroke="#000" stroke-width="1.3"/>
<g clip-path="url(#c3)" fill="none" stroke-width="1.9" stroke-linejoin="round" stroke-linecap="round">
<polyline stroke="#000000" points="77.5,960.0 77.5,961.5 77.6,962.9 77.6,964.4 77.6,965.8 77.6,967.3 77.7,968.7 77.7,970.1 77.7,971.5 77.7,973.0 77.8,974.4 77.8,975.8 77.8,977.2 77.9,978.7 77.9,980.1 77.9,981.5 77.9,983.0 78.0,984.4 78.0,985.9 78.0,987.3 78.1,988.8 78.1,990.3 78.1,991.8 78.1,993.3 78.2,994.8 78.2,996.4 78.2,997.9 78.2,999.5 78.3,1001.1 78.3,1002.7 78.3,1004.1 78.3,1005.4 78.4,1006.8 78.4,1008.3 78.4,1009.7 78.4,1011.2 78.4,1012.7 78.4,1014.2 78.5,1015.7 78.5,1017.2 78.5,1018.8 78.5,1020.3 78.5,1021.9 78.5,1023.5 78.5,1025.1 78.6,1026.7 78.6,1028.3 78.6,1029.9 78.6,1031.5 78.6,1033.1 78.6,1034.7 78.6,1036.3 78.7,1037.9 78.7,1039.5 78.7,1041.0 78.7,1042.6 78.7,1044.2 78.7,1045.7 78.8,1047.3 78.8,1048.8 78.8,1050.3 78.8,1051.8 78.9,1053.3 78.9,1054.8 78.9,1056.2 79.0,1057.7 79.0,1059.1 79.1,1060.4 79.1,1061.8 79.1,1063.1 79.2,1064.4 79.2,1065.7 79.3,1066.9 79.4,1068.6 79.5,1070.3 79.6,1071.9 79.6,1073.4 79.7,1075.0 79.8,1076.5 79.9,1078.0 80.0,1079.4 80.1,1080.8 80.3,1082.3 80.4,1083.7 80.5,1085.0 80.6,1086.4 80.7,1087.8 80.8,1089.1 81.0,1090.5 81.1,1091.9 81.2,1093.2 81.3,1094.6 81.5,1096.0 81.6,1097.4 81.7,1098.9 81.9,1100.5 82.0,1102.1 82.1,1103.7 82.2,1105.3 82.3,1107.0 82.5,1108.7 82.6,1110.3 82.7,1111.9 82.8,1113.5 83.0,1115.1 83.2,1116.6 83.3,1118.0 83.5,1119.4 83.7,1120.7 83.9,1121.9 84.2,1123.0 84.4,1124.0 84.7,1124.9 85.4,1126.4 86.1,1127.5 86.9,1128.5 87.7,1129.5 88.4,1130.7 88.9,1131.9 89.7,1133.1 90.8,1134.0 91.7,1134.4 92.8,1134.7 94.0,1134.8 95.4,1134.8 96.9,1134.8 98.5,1134.8 100.1,1134.8 101.8,1134.8 103.5,1134.8 105.2,1134.7 106.9,1134.6 108.5,1134.5 110.0,1134.5 111.4,1134.5 112.9,1134.5 114.4,1134.5 115.9,1134.5 117.4,1134.5 118.9,1134.5 120.4,1134.5 121.9,1134.4 123.3,1134.4 124.7,1134.3 126.1,1134.2 127.5,1134.0 128.8,1133.8 130.0,1133.6 131.6,1133.2 133.0,1132.7 134.4,1132.2 135.7,1131.6 137.0,1131.1 138.3,1130.4 139.7,1129.9 141.0,1129.3 142.4,1128.8 143.7,1128.2 145.1,1127.6 146.5,1127.1 147.9,1126.5 149.2,1126.0 150.6,1125.5 152.0,1125.0 153.4,1124.5 154.7,1124.1 156.1,1123.7 157.5,1123.3 158.9,1122.9 160.2,1122.5 161.6,1122.2 163.0,1121.8 164.4,1121.4 165.8,1121.1 167.2,1120.7 168.6,1120.4 169.9,1120.1 171.3,1119.7 172.7,1119.4 174.1,1119.0 175.5,1118.6 176.9,1118.2 178.2,1117.7 179.6,1117.2 181.0,1116.8 182.3,1116.4 183.7,1116.0 185.1,1115.7 186.5,1115.5 187.8,1115.3 189.2,1115.2 190.6,1115.2 192.0,1115.1 193.4,1115.0 194.7,1114.8 196.1,1114.6 197.5,1114.3 198.9,1113.9 200.2,1113.5 201.6,1113.0 203.0,1112.6 204.3,1112.1 205.7,1111.7 207.1,1111.3 208.5,1110.9 209.9,1110.6 211.3,1110.2 212.7,1109.9 214.2,1109.6 215.5,1109.3 216.8,1109.2 218.1,1109.1 219.6,1109.2 220.9,1109.5 222.2,1109.8 223.5,1110.1 225.0,1110.2 226.3,1110.1 227.6,1109.9 228.9,1109.6 230.3,1109.2 231.8,1108.8 233.2,1108.5 234.6,1108.2 236.0,1108.0 237.4,1107.9 238.7,1107.8 240.1,1107.8 241.5,1107.8 242.9,1107.9 244.2,1107.9 245.6,1108.0 247.0,1107.9 248.4,1107.9 249.8,1108.1 251.1,1107.6 252.5,1107.2 253.9,1106.9 255.2,1106.7 256.6,1106.7 258.0,1106.8 259.4,1106.8 260.8,1106.7 262.2,1107.2 263.5,1107.2 264.9,1107.0 266.3,1106.6 267.7,1106.3 269.1,1106.5 270.5,1106.0 271.9,1106.0 273.2,1106.6 274.6,1106.3 276.0,1106.1 277.4,1106.5 278.7,1106.9 280.1,1106.5 281.5,1105.9 282.9,1105.3 284.4,1104.6 285.8,1104.0 287.2,1103.6 288.5,1104.1 289.9,1104.6 291.1,1104.8 292.5,1105.4 293.9,1106.0 295.2,1105.6 296.4,1105.2 297.7,1105.7 299.0,1105.5 300.4,1104.2 301.7,1102.4 303.0,1101.6 304.3,1101.6 305.6,1102.1 306.9,1103.0 308.2,1103.9 309.5,1103.7 310.9,1103.3 312.1,1103.0 313.3,1102.1 314.6,1102.2 315.8,1102.6 317.1,1101.1 318.4,1100.5 319.7,1100.9 321.0,1100.9 322.2,1102.3 323.5,1103.7 324.8,1104.2 326.1,1104.3 327.4,1104.1 328.8,1103.0 330.2,1102.6 331.6,1103.9 333.1,1104.6 334.6,1103.9 336.2,1103.6 337.7,1104.4 339.2,1104.9 340.6,1103.8 342.0,1102.6 343.3,1102.9 344.6,1104.1 345.8,1104.7 347.0,1104.7 348.2,1105.6 349.5,1106.2 350.8,1106.6 352.0,1106.8 353.3,1106.2 354.7,1104.5 356.1,1102.5 357.5,1101.4 358.9,1100.8 360.2,1100.4 361.6,1100.2 362.9,1100.2 364.1,1100.8 365.3,1101.4 366.5,1102.2 367.6,1103.3 368.6,1104.3 369.7,1105.3 370.8,1105.6 371.8,1105.9 372.9,1107.2 374.0,1109.0 375.2,1109.4 376.4,1107.9 377.6,1106.6 378.8,1105.6 380.1,1104.9 381.3,1104.9 382.6,1104.1 383.9,1103.2 385.2,1103.3 386.5,1103.4 387.9,1102.6 389.3,1101.8 390.6,1102.0 392.1,1101.9 393.5,1101.4 394.9,1101.0 396.3,1100.4 397.8,1099.8 399.4,1100.1 400.9,1100.8 402.5,1101.5 404.0,1101.8 405.4,1102.3 406.8,1102.9 408.1,1102.3 409.6,1101.9 411.0,1102.7 412.3,1103.1 413.6,1103.2 415.0,1104.6 416.4,1104.6 417.9,1102.9 419.4,1102.9 420.9,1104.0 422.4,1104.7 423.8,1104.5 425.0,1104.7 426.2,1104.8 427.4,1103.7 428.5,1102.2 429.6,1100.8 430.6,1099.8 431.5,1099.3 432.2,1098.3 432.8,1096.5 433.3,1094.7 433.7,1092.9 434.1,1091.2 434.5,1089.6 434.9,1088.3 435.4,1087.4 435.9,1087.4 436.6,1087.3 437.4,1087.5 438.2,1088.6 438.9,1090.3 439.7,1092.2 440.3,1094.5 441.0,1095.4 441.6,1097.2 442.1,1098.4 442.5,1098.9 442.7,1098.5 442.8,1097.0 442.9,1095.1 443.1,1093.5 443.6,1091.6 444.5,1091.1 445.8,1091.8 447.0,1094.4 448.0,1096.0 448.4,1095.8 448.5,1097.2 448.5,1098.8 448.4,1100.6 448.3,1102.3 448.3,1103.8 448.6,1105.0 449.1,1105.4 450.1,1106.0 451.4,1106.8 452.8,1106.7 454.5,1106.5 456.1,1105.4 457.7,1104.1 459.1,1104.2 460.5,1104.3 461.9,1104.1 463.4,1103.9 464.7,1103.8 465.8,1102.9 466.8,1101.4 467.4,1100.4 467.7,1098.9 467.9,1097.3 468.0,1095.5 468.0,1093.8 468.2,1092.3 468.5,1091.6 469.0,1089.5 470.2,1087.5 471.8,1087.7 473.3,1089.8 474.5,1091.0 475.1,1092.5 475.4,1093.9 475.5,1095.5 475.6,1097.2 475.7,1098.9 476.1,1100.3 476.7,1102.3 477.6,1102.7 478.7,1102.3 479.9,1101.9 481.2,1102.3 482.7,1102.4 484.1,1103.4 485.5,1104.8 486.9,1104.7 488.3,1104.8 489.9,1104.2 491.4,1102.6 493.0,1102.3 494.6,1102.7 496.0,1103.2 497.4,1103.2 498.7,1103.0 500.1,1103.4 501.4,1103.5 502.7,1103.4 503.8,1104.0 505.0,1104.6 506.4,1103.8 507.8,1103.4 509.0,1102.2 510.1,1100.4 510.8,1099.9 511.3,1098.6 511.6,1097.2 511.9,1095.6 512.2,1094.1 512.6,1092.5 512.9,1091.1 513.2,1089.4 513.5,1087.6 513.8,1085.8 514.1,1084.2 514.4,1082.8 514.8,1083.0 515.2,1082.4 515.8,1082.8 516.5,1083.3 517.2,1084.6 517.9,1087.0 518.6,1089.2 519.4,1091.2 520.1,1091.8 521.0,1092.1 521.9,1092.8 522.8,1092.8 523.8,1093.2 524.9,1093.9 526.0,1094.2 527.0,1094.7 527.9,1095.0 528.8,1094.7 529.7,1093.9 530.6,1092.9 531.4,1092.1 532.1,1090.5 532.8,1087.7 533.4,1085.2 534.0,1083.7 534.7,1083.7 535.5,1084.1 536.4,1085.0 537.3,1087.1 538.2,1089.4 538.9,1090.8 539.3,1092.0 539.5,1093.6 539.6,1095.2 539.7,1097.0 539.8,1098.7 539.9,1100.2 540.0,1101.5 540.3,1101.7 540.6,1102.0 541.1,1101.9 541.7,1099.7 542.3,1098.6 543.0,1097.3 543.8,1095.2 544.5,1094.2 545.1,1094.0 545.7,1093.9 546.2,1093.9 546.7,1095.2 547.1,1096.9 547.5,1098.8 547.9,1100.6 548.4,1102.9 549.1,1103.6 550.0,1104.0 551.1,1103.6 552.2,1102.6 553.2,1100.8 554.2,1098.9 554.8,1098.5 555.2,1097.1 555.7,1095.6 556.0,1093.9 556.4,1092.2 556.7,1090.4 557.1,1088.7 557.4,1087.1 557.8,1085.6 558.2,1084.9 558.7,1083.6 559.2,1083.3 560.2,1083.2 561.4,1084.0 562.5,1085.5 563.5,1086.5 564.0,1086.9 564.4,1088.3 564.7,1090.1 564.9,1092.0 565.1,1094.0 565.3,1095.9 565.4,1097.6 565.6,1099.0 565.8,1099.9 566.0,1099.7 566.3,1099.9 566.6,1099.0 567.0,1097.7 567.3,1096.1 567.6,1094.3 568.0,1092.5 568.3,1090.7 568.6,1089.2 568.9,1087.8 569.2,1086.1 569.5,1084.4 569.7,1082.6 570.0,1081.0 570.3,1079.5 570.6,1078.3 570.8,1078.4 571.1,1077.3 571.3,1077.6 571.5,1078.6 571.7,1080.0 571.8,1081.7 572.0,1083.7 572.2,1085.7 572.4,1087.7 572.6,1089.5 572.9,1091.0 573.2,1090.6 573.6,1091.6 574.3,1092.2 575.2,1091.4 576.1,1089.7 577.0,1088.2"/>
<polyline stroke="#e83c1c" points="77.8,925.0 77.8,926.5 77.8,927.9 77.8,929.4 77.8,930.9 77.8,932.3 77.8,933.8 77.8,935.3 77.8,936.8 77.8,938.2 77.8,939.7 77.7,941.2 77.7,942.7 77.7,944.1 77.7,945.6 77.7,947.1 77.7,948.5 77.7,950.0 77.7,951.4 77.7,952.9 77.7,954.3 77.8,955.7 77.8,957.2 77.8,958.6 77.8,960.0 77.8,961.5 77.8,963.0 77.9,964.4 77.9,965.9 77.9,967.3 78.0,968.7 78.0,970.1 78.0,971.5 78.1,972.9 78.1,974.3 78.1,975.7 78.2,977.1 78.2,978.5 78.3,980.0 78.3,981.4 78.4,982.9 78.4,984.3 78.5,985.8 78.5,987.4 78.6,988.9 78.6,990.5 78.6,991.8 78.7,993.2 78.7,994.6 78.8,996.0 78.8,997.4 78.9,998.8 78.9,1000.3 79.0,1001.7 79.0,1003.2 79.1,1004.7 79.1,1006.2 79.2,1007.7 79.2,1009.2 79.3,1010.7 79.3,1012.2 79.4,1013.7 79.4,1015.3 79.5,1016.8 79.5,1018.3 79.6,1019.8 79.6,1021.4 79.7,1022.9 79.7,1024.4 79.8,1025.9 79.8,1027.4 79.9,1028.9 79.9,1030.4 80.0,1031.9 80.0,1033.4 80.1,1034.9 80.1,1036.3 80.1,1037.9 80.2,1039.5 80.2,1041.2 80.2,1043.0 80.2,1044.9 80.2,1046.8 80.2,1048.7 80.2,1050.6 80.2,1052.6 80.2,1054.6 80.2,1056.5 80.2,1058.4 80.2,1060.3 80.2,1062.2 80.2,1064.0 80.2,1065.7 80.2,1067.4 80.2,1069.0 80.2,1070.4 80.2,1071.8 80.3,1073.1 80.3,1074.2 80.4,1075.2 80.5,1076.0 80.6,1076.7 80.7,1077.2 80.8,1077.5 80.9,1077.6 81.2,1077.3 81.6,1076.4 82.0,1075.0 82.4,1073.4 82.8,1071.6 83.2,1069.9 83.4,1068.8 83.6,1067.4 83.7,1065.9 83.9,1064.2 84.0,1062.4 84.2,1060.5 84.3,1058.6 84.4,1056.6 84.5,1054.7 84.7,1052.8 84.8,1051.0 84.9,1049.4 85.0,1047.9 85.1,1046.6 85.2,1045.5 85.3,1044.7 85.4,1044.2 85.5,1044.0 85.6,1044.2 85.7,1044.7 85.8,1045.4 85.9,1046.4 86.0,1047.7 86.1,1049.1 86.2,1050.7 86.3,1052.4 86.4,1054.2 86.5,1056.1 86.6,1058.0 86.7,1059.9 86.7,1061.7 86.8,1063.6 86.9,1065.3 87.0,1066.9 87.1,1068.3 87.1,1069.7 87.2,1071.2 87.3,1072.7 87.3,1074.2 87.4,1075.8 87.4,1077.3 87.5,1078.9 87.5,1080.5 87.6,1082.1 87.6,1083.6 87.7,1085.2 87.7,1086.7 87.8,1088.2 87.9,1089.7 87.9,1091.1 88.0,1092.5 88.1,1093.8 88.2,1095.1 88.4,1096.3 88.5,1097.4 88.7,1099.0 89.0,1100.6 89.2,1102.0 89.5,1103.3 89.8,1104.6 90.1,1105.8 90.4,1107.0 90.8,1108.1 91.3,1109.4 92.0,1110.6 92.6,1111.8 93.2,1113.0 93.8,1114.2 94.2,1115.5 94.5,1116.8 94.8,1118.3 95.1,1119.6 95.5,1120.8 96.1,1121.8 97.0,1122.6 98.0,1123.1 99.0,1123.6 100.0,1124.1 101.1,1124.8 102.1,1125.5 103.0,1126.4 103.5,1127.5 103.8,1128.8 104.1,1130.3 104.6,1131.5 105.3,1132.5 106.3,1133.0 107.6,1133.3 109.1,1133.3 110.6,1133.3 112.2,1133.3 113.7,1133.3 115.0,1133.4 116.4,1133.5 117.8,1133.7 119.2,1133.8 120.6,1133.9 121.9,1134.0 123.2,1134.0 124.4,1134.0 125.9,1133.9 127.2,1133.8 128.5,1133.6 130.0,1133.3 131.2,1132.9 132.5,1132.5 133.9,1131.9 135.3,1131.4 136.7,1130.7 138.2,1130.1 139.6,1129.5 141.0,1128.9 142.4,1128.3 143.7,1127.8 145.1,1127.2 146.5,1126.6 147.9,1126.1 149.2,1125.5 150.6,1125.0 152.0,1124.5 153.4,1124.0 154.7,1123.6 156.1,1123.2 157.5,1122.8 158.9,1122.4 160.2,1122.0 161.6,1121.6 163.0,1121.2 164.4,1120.8 165.8,1120.4 167.2,1120.0 168.6,1119.6 170.0,1119.2 171.3,1118.8 172.7,1118.4 174.1,1117.9 175.5,1117.4 176.9,1116.9 178.3,1116.4 179.6,1115.9 181.0,1115.3 182.4,1114.8 183.7,1114.1 185.1,1113.5 186.3,1112.9 187.6,1112.2 188.8,1111.4 190.0,1110.7 191.2,1109.9 192.4,1109.1 193.6,1108.3 194.9,1107.6 196.1,1106.9 197.3,1106.2 198.5,1105.6 199.7,1105.0 201.0,1104.3 202.2,1103.7 203.4,1103.1 204.6,1102.5 205.9,1102.0 207.1,1101.4 208.5,1100.8 209.9,1100.2 211.3,1099.6 212.7,1099.0 214.1,1098.5 215.5,1098.0 216.8,1097.5 218.1,1097.0 219.5,1096.5 220.9,1096.1 222.2,1095.7 223.5,1095.2 225.0,1094.8 226.3,1094.4 227.6,1094.0 228.9,1093.6 230.3,1093.1 231.8,1092.7 233.2,1092.3 234.6,1091.9 236.0,1091.5 237.4,1091.1 238.7,1090.8 240.1,1090.5 241.5,1090.3 242.9,1090.1 244.2,1089.8 245.6,1089.7 247.0,1089.4 248.4,1089.3 249.7,1089.3 251.1,1089.1 252.5,1088.9 253.9,1088.7 255.2,1088.3 256.6,1087.7 258.0,1087.4 259.4,1087.3 260.8,1087.3 262.2,1087.2 263.6,1087.0 264.9,1086.5 266.3,1085.5 267.7,1085.2 269.1,1085.5 270.5,1085.5 271.9,1085.2 273.2,1085.1 274.6,1085.0 276.0,1085.2 277.4,1084.7 278.7,1084.0 280.1,1083.9 281.5,1083.9 282.8,1083.1 284.2,1082.4 285.6,1082.8 287.0,1082.7 288.3,1082.0 289.7,1081.1 291.1,1080.1 292.5,1079.7 293.8,1080.5 295.2,1080.6 296.6,1080.3 298.0,1080.7 299.4,1080.0 300.7,1079.5 302.1,1079.7 303.5,1079.2 304.9,1079.2 306.3,1080.3 307.8,1080.5 309.2,1079.8 310.5,1078.4 311.8,1077.6 313.1,1077.9 314.6,1078.2 315.9,1077.2 317.3,1076.7 318.6,1077.4 320.0,1077.8 321.4,1077.3 322.8,1076.7 324.2,1076.4 325.7,1076.3 327.2,1075.5 328.8,1075.1 330.2,1075.7 331.6,1076.0 333.1,1075.5 334.7,1073.8 336.2,1073.0 337.8,1073.1 339.3,1073.5 340.7,1075.2 342.0,1076.2 343.2,1076.7 344.4,1077.6 345.4,1077.7 346.5,1078.3 347.5,1079.0 348.5,1079.9 349.6,1080.8 350.8,1081.0 351.9,1080.0 353.1,1078.0 354.3,1076.7 355.6,1075.5 356.8,1074.1 358.1,1073.0 359.4,1071.9 360.6,1071.1 361.8,1070.6 363.0,1071.1 364.1,1071.8 365.3,1072.0 366.4,1072.4 367.5,1073.9 368.5,1076.2 369.6,1078.0 370.6,1079.1 371.7,1078.9 372.9,1078.6 374.0,1078.9 375.2,1078.3 376.4,1077.4 377.6,1078.3 378.9,1078.6 380.1,1076.7 381.4,1075.1 382.6,1075.4 383.9,1076.4 385.3,1076.2 386.7,1075.7 388.1,1075.0 389.5,1074.5 390.9,1073.5 392.3,1073.1 393.6,1072.8 394.9,1070.1 396.2,1070.3 397.5,1072.5 398.8,1073.1 400.0,1074.7 401.2,1075.8 402.4,1076.0 403.7,1076.5 404.9,1076.5 406.2,1075.8 407.5,1074.0 408.7,1072.4 410.0,1070.6 411.3,1068.9 412.5,1069.5 413.6,1070.7 414.7,1070.8 415.8,1071.1 416.8,1072.4 417.7,1073.6 418.7,1075.3 419.6,1078.3 420.6,1080.0 421.6,1080.5 422.6,1080.6 423.6,1078.8 424.6,1076.8 425.6,1076.0 426.5,1075.0 427.5,1073.7 428.4,1072.8 429.3,1072.6 430.1,1072.7 430.8,1071.1 431.5,1068.7 432.2,1066.7 432.8,1065.0 433.5,1064.0 434.1,1063.1 434.7,1062.0 435.3,1061.0 435.9,1060.0 436.6,1059.5 437.2,1060.0 437.8,1062.9 438.4,1064.8 439.0,1065.0 439.6,1066.1 440.3,1067.7 441.2,1067.7 442.0,1066.6 443.0,1065.4 443.9,1062.9 444.7,1061.6 445.2,1061.8 445.6,1064.1 446.0,1065.4 446.4,1067.0 446.8,1068.8 447.1,1070.7 447.5,1072.7 447.9,1074.5 448.4,1076.2 448.9,1078.9 449.5,1078.9 450.2,1079.0 451.3,1079.6 452.5,1078.9 453.8,1077.5 455.1,1076.8 456.5,1076.7 457.8,1075.7 459.1,1074.7 460.5,1073.7 461.9,1072.8 463.3,1073.4 464.5,1075.0 465.7,1075.1 466.4,1073.5 467.1,1071.5 467.6,1070.0 468.1,1068.2 468.6,1066.2 469.0,1064.3 469.5,1062.5 469.9,1060.9 470.3,1060.7 470.7,1059.6 471.2,1059.0 471.7,1058.7 472.2,1059.0 472.7,1060.9 473.1,1062.5 473.6,1064.2 474.2,1065.8 474.8,1068.4 475.6,1069.0 476.7,1068.8 478.0,1069.3 479.3,1070.5 480.7,1071.9 482.1,1072.6 483.3,1072.6 484.3,1073.2 485.3,1073.7 486.2,1075.0 487.1,1077.4 488.0,1078.7 488.9,1079.2 489.9,1079.9 490.8,1080.2 491.7,1079.0 492.7,1077.4 493.6,1076.0 494.6,1075.2 495.6,1074.6 496.6,1073.5 497.6,1071.7 498.8,1070.9 500.1,1071.6 501.4,1072.8 502.7,1075.1 503.9,1077.1 505.0,1077.2 506.0,1076.3 506.9,1074.6 507.8,1072.7 508.6,1071.1 509.3,1069.3 510.1,1067.0 510.6,1065.6 511.2,1066.2 511.6,1064.5 512.1,1062.8 512.6,1061.1 513.0,1059.4 513.5,1057.8 513.9,1056.4 514.3,1057.4 514.8,1055.9 515.2,1055.5 515.8,1056.7 516.3,1058.0 516.8,1057.4 517.3,1059.1 517.9,1061.0 518.6,1062.5 519.5,1063.7 520.4,1064.2 521.5,1065.5 522.5,1067.5 523.6,1069.7 524.6,1070.9 525.7,1071.3 526.7,1072.7 527.7,1073.3 528.7,1072.3 529.3,1069.9 529.9,1068.1 530.5,1067.6 531.0,1066.0 531.5,1064.1 532.0,1062.1 532.5,1060.2 532.9,1058.4 533.4,1056.8 533.8,1054.9 534.3,1054.6 534.7,1055.0 535.2,1055.1 535.7,1055.8 536.2,1056.9 536.7,1058.5 537.2,1060.2 537.6,1062.1 538.1,1064.0 538.5,1065.7 538.9,1067.1 539.3,1068.8 539.6,1070.6 540.0,1072.3 540.3,1073.8 540.8,1075.6 541.4,1076.4 542.3,1076.0 543.4,1074.7 544.5,1073.3 545.6,1072.3 546.5,1072.5 547.3,1073.3 547.9,1074.5 548.5,1075.8 549.1,1076.2 549.5,1075.5 550.0,1074.6 550.4,1074.5 550.9,1073.2 551.3,1071.7 551.8,1070.1 552.2,1068.4 552.7,1066.6 553.2,1065.0 553.7,1063.4 554.2,1062.0 554.8,1060.5 555.4,1058.8 556.0,1057.0 556.6,1055.2 557.2,1053.5 557.8,1052.7 558.5,1050.3 559.0,1049.1 559.6,1048.6 560.1,1048.6 560.6,1048.9 561.1,1050.3 561.5,1050.8 562.0,1052.2 562.4,1053.8 562.8,1055.5 563.1,1057.1 563.5,1058.6 563.8,1060.0 564.1,1061.6 564.3,1063.3 564.5,1065.1 564.7,1066.9 564.9,1068.6 565.1,1070.0 565.4,1071.1 565.7,1071.7 566.0,1072.5 566.5,1072.0 567.0,1071.6 567.6,1070.7 568.2,1068.6 568.8,1067.0 569.4,1065.3 569.9,1063.6 570.3,1062.0 570.6,1060.6 570.8,1059.1 571.0,1057.3 571.1,1055.5 571.3,1053.6 571.4,1051.7 571.4,1050.0 571.5,1048.4 571.6,1047.1 571.7,1046.0 571.8,1045.3 572.0,1045.2 572.2,1045.3 572.4,1046.0 572.5,1047.1 572.7,1048.5 572.9,1050.1 573.1,1051.9 573.3,1053.8 573.5,1055.7 573.7,1057.5 574.0,1059.2 574.2,1060.8 574.5,1062.0 575.0,1063.6 575.5,1065.0 576.0,1066.8 576.5,1067.9 577.0,1068.8"/>
<polyline stroke="#1616d2" points="77.0,800.0 77.0,811.0 77.0,925.0"/>
<polyline stroke="#1616d2" points="84.8,800.0 84.8,801.3 84.8,802.5 84.8,803.6 84.8,804.7 84.8,806.0 84.8,807.4 84.8,809.0 84.8,811.0 84.8,811.7 84.8,812.4 84.8,813.1 84.8,813.9 84.8,814.7 84.8,815.6 84.8,816.5 84.8,817.4 84.8,818.4 84.8,819.4 84.8,820.4 84.8,821.5 84.8,822.6 84.8,823.7 84.8,824.9 84.8,826.1 84.8,827.4 84.8,828.6 84.9,829.9 84.9,831.2 84.9,832.6 84.9,834.0 84.9,835.4 84.9,836.8 84.9,838.3 84.9,839.7 84.9,841.2 84.9,842.7 84.9,844.3 84.9,845.8 84.9,847.4 84.9,849.0 84.9,850.6 84.9,852.3 84.9,853.9 84.9,855.6 84.9,857.3 85.0,859.0 85.0,860.7 85.0,862.4 85.0,864.1 85.0,865.9 85.0,867.7 85.0,869.4 85.0,871.2 85.0,873.0 85.0,874.8 85.0,876.6 85.0,878.4 85.0,880.2 85.0,882.0 85.1,883.8 85.1,885.6 85.1,887.4 85.1,889.3 85.1,891.1 85.1,892.9 85.1,894.7 85.1,896.5 85.1,898.4 85.1,900.2 85.1,902.0 85.1,903.8 85.1,905.6 85.2,907.4 85.2,909.2 85.2,910.9 85.2,912.7 85.2,914.5 85.2,916.2 85.2,917.9 85.2,919.7 85.2,921.4 85.2,923.1 85.2,924.8 85.3,926.4 85.3,928.1 85.3,929.7 85.3,931.3 85.3,932.9 85.3,934.5 85.3,936.1 85.3,937.6 85.3,939.1 85.3,940.6 85.4,942.1 85.4,943.6 85.4,945.0 85.4,946.4 85.4,947.8 85.4,949.1 85.4,950.5 85.4,951.8 85.4,953.0 85.4,954.3 85.5,955.5 85.5,956.7 85.5,957.8 85.5,958.9 85.5,960.0 85.5,961.9 85.5,963.7 85.6,965.5 85.6,967.2 85.6,968.9 85.6,970.6 85.6,972.2 85.7,973.8 85.7,975.3 85.7,976.9 85.7,978.4 85.7,979.8 85.8,981.3 85.8,982.7 85.8,984.1 85.8,985.5 85.9,986.9 85.9,988.2 85.9,989.6 85.9,990.9 86.0,992.3 86.0,993.6 86.0,994.9 86.0,996.3 86.0,997.6 86.1,998.9 86.1,1000.3 86.1,1001.6 86.1,1003.0 86.2,1004.4 86.2,1005.8 86.2,1007.3 86.2,1008.9 86.3,1010.4 86.3,1012.0 86.3,1013.6 86.3,1015.1 86.3,1016.7 86.3,1018.2 86.4,1019.8 86.4,1021.3 86.4,1022.9 86.4,1024.4 86.4,1025.9 86.4,1027.4 86.5,1028.9 86.5,1030.4 86.5,1031.8 86.5,1033.3 86.6,1034.7 86.6,1036.1 86.7,1037.5 86.7,1038.8 86.8,1040.2 86.8,1041.5 86.9,1042.8 87.0,1044.0 87.1,1045.6 87.2,1047.2 87.3,1048.8 87.4,1050.4 87.6,1051.9 87.7,1053.4 87.8,1054.8 88.0,1056.2 88.2,1057.6 88.3,1058.9 88.5,1060.2 88.8,1061.4 89.0,1062.6 89.3,1063.8 89.8,1065.3 90.3,1066.7 90.9,1067.9 91.5,1069.2 92.0,1070.4 92.6,1071.6 93.1,1073.0 93.5,1074.4 93.9,1076.1 94.2,1077.8 94.6,1079.6 94.9,1081.4 95.2,1082.9 95.5,1084.1 95.8,1084.9 96.1,1085.2 96.3,1085.1 96.5,1084.7 96.6,1084.0 96.8,1083.2 96.9,1082.2 97.1,1081.0 97.2,1079.6 97.4,1078.1 97.5,1076.5 97.6,1074.8 97.8,1073.0 97.9,1071.1 98.0,1069.2 98.2,1067.3 98.3,1065.3 98.4,1063.4 98.6,1061.5 98.7,1059.7 98.9,1057.9 99.0,1056.3 99.2,1054.7 99.4,1053.2 99.5,1051.6 99.7,1049.9 99.9,1048.2 100.1,1046.3 100.3,1044.4 100.5,1042.5 100.6,1040.6 100.8,1038.6 101.0,1036.7 101.2,1034.8 101.4,1032.9 101.6,1031.1 101.8,1029.3 102.0,1027.7 102.2,1026.1 102.4,1024.7 102.6,1023.4 102.8,1022.3 103.0,1021.4 103.2,1020.6 103.4,1020.0 103.6,1019.6 103.8,1019.5 104.1,1019.8 104.5,1020.6 104.8,1021.8 105.2,1023.3 105.5,1025.0 105.8,1026.9 106.1,1028.7 106.2,1029.7 106.4,1030.8 106.5,1031.9 106.6,1033.1 106.8,1034.4 106.9,1035.8 107.0,1037.2 107.1,1038.7 107.2,1040.2 107.3,1041.8 107.4,1043.4 107.5,1045.0 107.6,1046.6 107.7,1048.3 107.7,1050.0 107.8,1051.6 107.9,1053.3 108.0,1055.0 108.1,1056.6 108.2,1058.2 108.3,1059.9 108.4,1061.4 108.5,1063.0 108.6,1064.5 108.7,1065.9 108.8,1067.3 109.0,1068.6 109.1,1069.9 109.3,1071.6 109.4,1073.2 109.6,1074.8 109.8,1076.4 109.9,1077.9 110.1,1079.4 110.3,1080.9 110.4,1082.4 110.6,1083.8 110.8,1085.1 111.1,1086.5 111.3,1087.7 111.6,1089.0 111.9,1090.2 112.2,1091.3 112.7,1092.9 113.3,1094.4 113.9,1095.9 114.5,1097.2 115.2,1098.4 115.9,1099.5 116.7,1100.5 117.8,1101.4 119.0,1102.0 120.2,1102.6 121.3,1103.5 122.1,1104.5 122.9,1105.8 123.6,1107.2 124.4,1108.6 125.1,1109.9 125.9,1111.1 126.8,1112.2 127.6,1113.2 128.5,1114.2 129.5,1115.0 130.5,1115.7 131.6,1116.1 132.8,1116.4 134.1,1116.5 135.3,1116.6 136.6,1116.8 137.9,1117.1 139.2,1117.3 140.5,1117.6 141.9,1117.8 143.2,1117.9 144.5,1117.7 145.8,1117.4 147.1,1117.0 148.5,1116.7 149.8,1116.8 151.0,1117.3 152.3,1118.0 153.6,1119.0 154.8,1120.1 156.1,1121.1 157.4,1121.8 158.6,1122.3 159.9,1122.4 161.3,1122.3 162.6,1121.9 163.9,1121.6 165.2,1121.2 166.5,1120.8 167.9,1120.4 169.2,1120.0 170.6,1119.5 171.9,1119.0 173.2,1118.4 174.5,1117.8 175.8,1117.1 177.1,1116.4 178.5,1115.7 179.7,1115.1 180.9,1114.5 182.2,1113.9 183.5,1113.3 184.8,1112.6 186.0,1112.0 187.3,1111.3 188.6,1110.6 189.8,1109.8 191.1,1109.0 192.3,1108.2 193.6,1107.4 194.8,1106.6 196.1,1105.8 197.4,1105.0 198.6,1104.3 199.9,1103.5 201.1,1102.7 202.4,1101.9 203.7,1101.1 204.9,1100.3 206.0,1099.5 207.1,1098.7 208.2,1097.8 209.3,1096.9 210.4,1096.1 211.5,1095.2 212.6,1094.4 213.7,1093.7 215.0,1093.0 216.4,1092.3 217.8,1091.7 219.1,1091.2 220.4,1090.6 221.6,1090.0 222.5,1089.3 223.5,1088.2 224.1,1087.0 225.0,1085.9 225.9,1085.2 226.9,1084.4 228.0,1083.7 229.2,1083.0 230.4,1082.3 231.6,1081.5 232.8,1080.7 234.0,1079.9 235.2,1079.0 236.5,1078.2 237.8,1077.3 239.1,1076.6 240.4,1076.0 241.6,1075.5 242.9,1075.1 244.1,1074.8 245.4,1074.6 246.7,1074.3 247.9,1074.1 249.2,1073.6 250.5,1073.5 251.7,1073.4 253.0,1073.3 254.2,1073.2 255.5,1072.8 256.7,1072.8 258.0,1072.5 259.3,1071.7 260.5,1071.0 261.8,1070.3 263.1,1070.0 264.4,1070.2 265.6,1070.5 266.9,1070.8 268.4,1070.8 269.8,1070.5 271.3,1069.9 272.8,1069.3 274.3,1068.8 275.7,1068.0 277.0,1067.3 278.2,1066.5 279.5,1065.7 280.7,1065.3 282.0,1064.9 283.2,1064.9 284.5,1065.1 285.7,1064.6 287.0,1063.7 288.3,1062.8 289.5,1062.1 290.8,1062.1 292.1,1062.0 293.3,1060.9 294.6,1059.8 295.8,1059.2 297.1,1058.9 298.3,1058.2 299.6,1057.3 300.8,1057.4 302.1,1056.9 303.3,1056.2 304.6,1055.8 305.8,1054.0 307.1,1052.3 308.4,1052.0 309.6,1052.0 310.9,1051.6 312.1,1052.2 313.4,1052.3 314.6,1051.1 315.9,1050.5 317.2,1050.8 318.4,1051.1 319.7,1050.7 321.0,1050.1 322.3,1049.3 323.6,1048.8 324.9,1049.6 326.2,1049.7 327.5,1049.1 328.8,1049.0 330.1,1049.2 331.4,1049.7 332.6,1050.4 333.9,1051.5 335.1,1053.1 336.4,1054.2 337.6,1053.8 338.9,1054.2 340.2,1055.5 341.5,1056.0 342.8,1056.4 344.0,1056.3 345.3,1055.3 346.6,1054.7 347.8,1054.4 349.0,1053.7 350.3,1052.2 351.6,1050.5 353.0,1049.9 354.3,1050.0 355.7,1049.9 357.1,1049.2 358.6,1048.7 360.1,1049.7 361.5,1049.7 362.9,1048.7 364.1,1048.8 365.3,1049.4 366.5,1050.8 367.5,1052.9 368.5,1054.4 369.6,1055.6 370.7,1055.6 371.7,1054.4 372.8,1053.5 373.8,1052.1 374.9,1051.0 376.0,1049.8 377.1,1049.2 378.3,1049.9 379.5,1049.6 380.8,1048.7 382.1,1047.5 383.5,1046.5 384.9,1045.8 386.4,1044.2 387.8,1042.8 389.2,1042.6 390.5,1042.8 392.0,1043.2 393.5,1045.1 394.9,1046.5 396.4,1046.0 397.8,1044.4 399.3,1043.4 400.8,1044.0 402.3,1044.9 403.8,1045.3 405.2,1046.0 406.7,1046.0 408.1,1045.2 409.5,1045.0 411.0,1045.1 412.3,1044.2 413.7,1044.1 415.0,1043.8 416.2,1043.5 417.3,1044.1 418.4,1045.3 419.5,1047.6 420.5,1048.7 421.6,1049.1 422.6,1049.3 423.5,1048.6 424.4,1047.7 425.4,1046.2 426.3,1044.7 427.2,1043.1 428.2,1041.9 429.1,1041.4 430.1,1039.9 431.0,1038.3 432.0,1037.5 432.9,1036.7 433.9,1036.1 434.9,1034.8 435.9,1034.0 437.0,1035.0 438.1,1036.2 439.2,1037.0 440.4,1038.2 441.5,1040.2 442.6,1042.0 443.6,1043.0 444.4,1044.9 445.1,1045.8 445.8,1045.1 446.5,1045.7 447.2,1046.7 447.8,1047.7 448.5,1049.9 449.2,1051.7 449.9,1052.2 450.6,1052.5 451.3,1053.4 452.2,1053.4 453.2,1052.2 454.2,1051.8 455.2,1052.0 456.2,1051.5 457.2,1050.0 458.1,1047.7 459.1,1045.7 460.1,1044.8 461.0,1043.7 462.0,1042.5 463.0,1041.6 463.9,1040.6 464.8,1039.9 465.7,1039.7 466.7,1038.2 467.6,1036.0 468.5,1034.6 469.4,1033.4 470.3,1031.4 471.2,1030.3 471.8,1031.8 472.3,1033.7 472.8,1034.2 473.3,1035.6 473.8,1037.2 474.2,1038.9 474.7,1040.7 475.2,1042.4 475.8,1044.0 476.4,1045.9 477.1,1046.6 477.8,1047.0 478.9,1047.4 480.2,1047.2 481.5,1046.6 482.9,1046.5 484.2,1046.9 485.5,1048.6 486.9,1050.3 488.2,1050.9 489.5,1050.2 490.8,1049.0 492.1,1048.5 493.2,1047.3 494.4,1045.1 495.5,1042.5 496.6,1040.7 497.7,1039.5 498.8,1038.6 499.8,1038.5 500.9,1040.4 502.0,1043.1 503.0,1045.8 504.0,1046.1 505.0,1045.2 505.9,1046.1 506.8,1045.6 507.6,1044.2 508.5,1042.7 509.3,1040.9 510.1,1039.3 510.9,1036.8 511.6,1034.9 512.3,1033.2 513.1,1032.0 513.8,1031.1 514.5,1029.3 515.2,1029.6 515.9,1031.1 516.6,1031.8 517.3,1032.5 518.1,1033.6 518.8,1034.8 519.5,1036.0 520.3,1037.4 521.3,1037.9 522.3,1037.2 523.3,1035.3 524.3,1034.0 525.3,1034.8 526.3,1035.8 527.3,1037.5 528.3,1039.1 529.4,1039.6 530.4,1039.8 531.4,1039.6 532.4,1039.3 533.5,1038.8 534.5,1037.8 535.5,1037.2 536.4,1037.1 537.3,1037.9 538.1,1039.9 539.0,1041.4 539.8,1042.6 540.6,1043.3 541.3,1042.8 541.9,1041.5 542.6,1040.4 543.2,1039.3 543.8,1037.5 544.4,1035.9 545.1,1035.0 545.7,1033.9 546.4,1032.2 547.1,1030.4 547.9,1028.3 548.6,1026.5 549.3,1024.6 550.1,1023.1 550.8,1022.8 551.6,1022.5 552.4,1022.0 553.3,1020.6 554.1,1019.1 554.9,1018.5 555.8,1018.3 556.8,1017.7 557.9,1016.1 559.0,1013.7 560.0,1012.5 560.9,1013.0 561.4,1013.6 561.9,1014.0 562.4,1015.3 562.8,1016.7 563.1,1018.3 563.4,1019.9 563.7,1021.6 564.0,1023.2 564.3,1024.7 564.5,1026.2 564.7,1027.9 564.7,1029.6 564.8,1031.4 564.9,1033.1 565.0,1034.7 565.2,1036.0 565.5,1035.7 566.0,1036.2 566.9,1035.1 568.1,1033.1 569.3,1032.8 570.3,1034.0 571.0,1035.2 571.7,1037.9 572.3,1039.7 572.8,1041.6 573.4,1043.3 573.9,1044.9 574.5,1045.0 575.3,1044.1 576.2,1043.0 577.0,1041.8"/>
<polyline stroke="#c4be34" points="78.5,800.0 79.0,811.0 80.0,880.0 78.5,970.0"/>
<polyline stroke="#c4be34" points="92.6,800.0 92.6,801.3 92.6,802.5 92.6,803.7 92.6,804.9 92.7,806.1 92.7,807.5 92.7,809.1 92.7,811.0 92.7,811.8 92.7,812.7 92.7,813.7 92.7,814.7 92.7,815.7 92.7,816.8 92.7,817.9 92.7,819.1 92.8,820.3 92.8,821.5 92.8,822.8 92.8,824.1 92.8,825.5 92.8,826.9 92.8,828.3 92.8,829.7 92.8,831.2 92.8,832.7 92.8,834.3 92.8,835.8 92.8,837.4 92.8,839.0 92.8,840.6 92.8,842.2 92.9,843.9 92.9,845.6 92.9,847.2 92.9,848.9 92.9,850.6 92.9,852.3 92.9,854.0 92.9,855.7 92.9,857.5 92.9,859.2 92.9,860.9 92.9,862.6 92.9,864.4 92.9,866.1 92.9,867.8 92.9,869.5 92.9,871.2 92.9,872.9 93.0,874.5 93.0,876.2 93.0,877.8 93.0,879.4 93.0,881.0 93.0,882.6 93.0,884.2 93.0,885.7 93.0,887.2 93.0,888.7 93.0,890.2 93.0,891.7 93.0,893.3 93.0,894.8 93.0,896.3 93.0,897.9 93.0,899.4 93.0,901.0 93.0,902.5 93.0,904.1 93.0,905.6 93.0,907.1 93.0,908.7 93.0,910.2 93.0,911.8 93.0,913.3 93.0,914.8 93.0,916.4 93.0,917.9 93.0,919.4 93.0,921.0 92.9,922.5 92.9,924.0 92.9,925.5 92.9,927.0 92.9,928.6 92.9,930.1 92.9,931.6 92.9,933.0 92.9,934.5 92.9,936.0 92.9,937.5 92.9,939.0 92.9,940.4 92.9,941.9 92.9,943.3 92.9,944.8 93.0,946.2 93.0,947.6 93.0,949.0 93.0,950.4 93.0,951.8 93.0,953.2 93.0,954.6 93.0,956.0 93.1,957.3 93.1,958.7 93.1,960.0 93.1,961.6 93.2,963.2 93.2,964.8 93.2,966.4 93.3,968.0 93.3,969.5 93.3,971.1 93.4,972.6 93.4,974.1 93.5,975.6 93.5,977.1 93.5,978.6 93.6,980.1 93.6,981.6 93.7,983.0 93.7,984.5 93.8,985.9 93.8,987.4 93.9,988.8 93.9,990.2 94.0,991.7 94.0,993.1 94.1,994.5 94.2,995.9 94.2,997.3 94.3,998.8 94.3,1000.2 94.4,1001.6 94.5,1003.0 94.5,1004.4 94.6,1005.8 94.7,1007.3 94.7,1008.9 94.8,1010.5 94.9,1012.0 94.9,1013.6 95.0,1015.2 95.1,1016.8 95.1,1018.4 95.2,1020.0 95.3,1021.5 95.3,1023.1 95.4,1024.7 95.5,1026.2 95.6,1027.7 95.7,1029.3 95.7,1030.7 95.8,1032.2 95.9,1033.7 96.0,1035.1 96.1,1036.5 96.2,1037.8 96.4,1039.1 96.5,1040.4 96.6,1041.6 96.8,1042.8 96.9,1044.0 97.1,1045.7 97.3,1047.3 97.6,1048.8 97.8,1050.3 98.0,1051.7 98.3,1053.1 98.6,1054.4 98.9,1055.7 99.2,1056.9 99.6,1058.1 100.0,1059.2 100.7,1060.6 101.4,1061.9 102.2,1063.1 103.0,1064.3 103.8,1065.5 104.5,1066.9 105.0,1068.1 105.5,1069.5 105.9,1071.0 106.3,1072.5 106.8,1074.1 107.2,1075.6 107.6,1077.0 108.1,1078.4 108.6,1079.6 109.1,1080.6 110.0,1082.0 111.1,1083.3 112.1,1084.2 112.9,1084.4 113.3,1084.0 113.6,1083.3 113.9,1082.2 114.1,1080.9 114.3,1079.4 114.4,1077.6 114.5,1075.8 114.7,1073.9 114.8,1072.0 114.9,1070.2 115.0,1068.5 115.2,1066.9 115.4,1065.5 115.5,1064.0 115.7,1062.5 115.8,1061.0 115.9,1059.5 116.1,1058.0 116.2,1056.6 116.4,1055.1 116.5,1053.7 116.7,1052.3 117.0,1051.0 117.2,1049.7 117.5,1048.5 118.0,1047.0 118.5,1045.7 119.1,1044.4 119.6,1043.2 120.2,1042.0 120.8,1040.8 121.3,1039.4 121.7,1038.1 122.0,1036.7 122.3,1035.2 122.6,1033.7 122.9,1032.2 123.2,1030.8 123.5,1029.4 123.9,1028.2 124.4,1027.2 125.3,1025.8 126.3,1024.5 127.3,1023.6 128.2,1023.4 128.8,1023.9 129.4,1024.9 129.9,1026.4 130.4,1028.2 130.9,1030.0 131.3,1031.8 131.6,1032.9 131.8,1034.1 132.1,1035.4 132.3,1036.7 132.5,1038.0 132.8,1039.4 133.0,1040.9 133.2,1042.3 133.4,1043.8 133.6,1045.4 133.8,1046.9 134.0,1048.5 134.2,1050.2 134.4,1051.8 134.6,1053.1 134.7,1054.4 134.8,1055.8 135.0,1057.2 135.1,1058.7 135.2,1060.3 135.3,1061.8 135.4,1063.4 135.5,1065.1 135.6,1066.7 135.7,1068.4 135.8,1070.0 135.9,1071.7 136.0,1073.3 136.2,1074.9 136.3,1076.5 136.5,1078.1 136.6,1079.6 136.8,1081.0 137.0,1082.4 137.3,1083.8 137.5,1085.1 137.8,1086.3 138.1,1087.4 138.4,1088.4 138.8,1089.3 139.6,1090.9 140.4,1092.3 141.3,1093.5 142.3,1094.6 143.3,1095.5 144.3,1096.3 145.4,1097.0 146.6,1097.6 148.0,1097.9 149.3,1098.0 150.7,1098.1 152.0,1098.1 153.3,1098.0 154.7,1097.7 156.0,1097.4 157.3,1097.1 158.6,1097.0 160.0,1097.1 161.4,1097.3 162.8,1097.6 164.1,1098.1 165.2,1098.7 166.3,1099.5 167.4,1100.4 168.5,1101.0 169.6,1101.4 170.9,1101.3 172.2,1101.0 173.6,1100.4 175.0,1099.8 176.3,1099.2 177.6,1098.6 178.9,1097.8 180.2,1097.0 181.5,1096.4 182.9,1095.9 184.3,1095.7 185.8,1095.6 187.3,1095.6 188.8,1095.7 190.3,1095.8 191.7,1095.9 193.1,1096.1 194.4,1096.5 195.7,1096.9 197.0,1097.1 198.3,1097.0 199.4,1096.6 200.5,1096.0 201.6,1095.2 202.6,1094.3 203.7,1093.4 204.9,1092.6 206.1,1091.8 207.3,1091.0 208.6,1090.2 209.9,1089.4 211.1,1088.6 212.4,1087.8 213.7,1087.0 215.0,1086.2 216.4,1085.4 217.8,1084.5 219.1,1083.7 220.4,1082.9 221.5,1082.2 222.5,1081.5 223.4,1080.8 224.1,1080.1 225.0,1079.3 225.9,1078.5 227.0,1077.6 228.1,1076.7 229.3,1075.7 230.5,1074.7 231.6,1073.8 232.7,1072.8 233.8,1071.8 234.9,1070.8 235.9,1069.9 237.1,1069.0 238.2,1068.3 239.5,1067.8 240.8,1067.3 242.1,1066.8 243.5,1066.3 244.8,1065.9 246.1,1065.7 247.4,1065.4 248.8,1065.1 250.1,1064.9 251.4,1065.0 252.7,1065.3 254.0,1065.8 255.4,1066.8 256.7,1067.8 258.0,1068.7 259.3,1069.2 260.6,1069.1 261.9,1068.4 263.3,1067.6 264.6,1067.5 265.9,1067.5 267.3,1067.4 268.7,1067.6 270.0,1067.5 271.3,1066.6 272.4,1066.1 273.6,1065.5 274.7,1064.3 275.7,1063.7 276.8,1063.6 277.9,1062.7 279.0,1061.8 280.1,1061.0 281.1,1060.1 282.2,1059.2 283.3,1058.1 284.5,1057.0 285.7,1056.1 286.9,1055.7 288.1,1054.8 289.4,1054.4 290.7,1055.4 292.0,1055.1 293.3,1054.1 294.6,1053.8 295.8,1054.0 297.1,1053.7 298.3,1052.9 299.6,1052.7 300.8,1051.9 302.1,1050.6 303.4,1049.4 304.6,1048.2 305.9,1047.5 307.1,1046.6 308.4,1046.2 309.6,1046.4 310.9,1046.4 312.2,1045.5 313.4,1044.2 314.7,1043.7 316.0,1042.4 317.2,1041.8 318.5,1043.1 319.7,1043.8 321.1,1043.5 322.5,1042.5 323.8,1041.5 325.2,1041.1 326.6,1040.8 328.0,1041.6 329.5,1042.8 331.0,1043.5 332.6,1042.9 334.0,1041.2 335.4,1041.1 336.6,1041.4 337.7,1041.0 338.7,1041.5 339.7,1043.3 340.8,1044.6 342.0,1044.5 343.2,1044.5 344.4,1044.1 345.7,1043.7 347.1,1043.6 348.4,1044.0 349.6,1044.9 350.8,1044.9 352.0,1044.4 353.1,1043.7 354.2,1042.3 355.3,1041.1 356.3,1040.4 357.4,1039.3 358.5,1038.6 359.6,1037.6 360.7,1036.8 361.8,1036.9 363.0,1036.1 364.1,1035.1 365.0,1035.2 366.0,1035.8 366.9,1036.9 367.9,1038.5 368.9,1039.4 369.8,1040.2 370.9,1041.9 371.9,1043.0 372.9,1043.6 374.1,1043.5 375.3,1043.0 376.6,1041.6 377.9,1039.8 379.1,1039.0 380.4,1038.6 381.7,1038.2 383.0,1037.9 384.2,1037.3 385.5,1036.4 386.8,1036.0 388.1,1036.2 389.3,1035.5 390.5,1034.3 391.7,1033.7 392.8,1033.6 393.8,1033.6 394.9,1033.6 395.9,1033.7 397.1,1032.9 398.3,1032.6 399.5,1033.2 400.7,1033.8 402.0,1034.5 403.3,1034.7 404.6,1034.7 405.9,1033.9 407.4,1032.8 408.9,1031.9 410.4,1031.7 411.9,1032.7 413.3,1034.4 414.7,1036.2 416.0,1037.7 417.1,1037.6 418.3,1037.5 419.4,1038.0 420.5,1038.2 421.6,1038.8 422.7,1039.4 423.8,1039.3 424.9,1038.2 426.0,1037.6 427.1,1037.7 428.2,1036.4 429.0,1034.3 429.8,1032.3 430.6,1030.4 431.4,1028.0 432.1,1025.7 432.9,1024.6 433.7,1023.2 434.5,1021.5 435.3,1021.0 436.2,1021.1 437.0,1021.4 437.9,1021.4 438.9,1021.4 439.9,1022.3 440.9,1023.6 441.9,1025.7 442.9,1027.4 443.9,1028.4 444.8,1029.0 445.8,1029.1 446.8,1030.2 447.8,1031.9 448.8,1032.5 449.8,1032.3 450.7,1032.5 451.7,1034.5 452.6,1037.0 453.5,1038.0 454.5,1038.6 455.5,1039.7 456.4,1040.7 457.3,1042.3 458.2,1043.8 459.1,1044.2 459.8,1043.6 460.5,1042.1 461.2,1040.6 461.9,1039.2 462.6,1037.7 463.2,1036.2 463.9,1034.4 464.5,1032.8 465.1,1031.1 465.7,1029.1 466.3,1028.2 466.8,1026.5 467.4,1024.7 467.9,1023.0 468.3,1021.4 468.9,1018.7 469.5,1018.2 470.1,1017.3 470.9,1017.4 471.8,1017.8 472.7,1020.0 473.6,1022.8 474.6,1023.6 475.6,1024.1 476.7,1024.5 477.8,1025.1 478.9,1026.4 480.0,1028.2 481.1,1029.3 482.0,1030.2 482.8,1031.1 483.6,1031.9 484.4,1032.9 485.2,1034.2 486.0,1035.8 486.8,1037.4 487.7,1039.1 488.7,1039.7 489.8,1039.4 490.9,1038.7 492.0,1037.8 493.1,1036.6 494.3,1034.9 495.5,1033.6 496.7,1033.2 498.0,1032.0 499.3,1029.6 500.6,1028.9 501.9,1029.5 503.1,1030.2 504.5,1029.7 506.0,1028.9 507.4,1028.2 508.6,1027.7 509.7,1028.3 510.6,1027.3 511.3,1025.1 512.0,1023.4 512.5,1023.9 513.0,1022.5 513.4,1021.1 513.9,1019.6 514.5,1018.4 515.2,1017.0 516.3,1016.3 517.7,1016.5 519.0,1017.1 520.3,1018.7 521.2,1020.8 522.0,1021.6 522.8,1022.6 523.6,1024.9 524.5,1026.1 525.3,1025.7 526.3,1025.2 527.4,1024.5 528.5,1023.7 529.5,1023.1 530.4,1022.5 531.0,1020.1 531.4,1018.5 531.8,1016.7 532.2,1014.8 532.5,1012.9 532.8,1011.3 533.1,1009.9 533.4,1010.9 533.8,1009.8 534.3,1008.8 534.7,1009.9 535.2,1011.4 535.7,1013.0 536.2,1014.8 536.7,1016.5 537.2,1018.0 537.7,1019.5 538.2,1021.1 538.7,1022.7 539.3,1026.4 539.9,1026.7 540.6,1026.2 541.5,1025.3 542.5,1024.6 543.6,1023.3 544.6,1021.8 545.7,1020.4 546.7,1019.2 547.7,1018.6 548.7,1018.5 549.8,1017.8 550.8,1016.3 552.0,1015.8 553.3,1015.7 554.5,1015.6 555.8,1015.5 557.1,1014.8 558.5,1014.5 559.7,1014.6 560.9,1015.6 561.6,1017.4 562.1,1019.0 562.6,1019.4 563.0,1020.9 563.4,1022.4 563.8,1024.0 564.2,1025.6 564.7,1027.0 565.2,1029.8 566.0,1031.3 566.8,1032.3 567.6,1032.8 568.5,1032.8 569.4,1032.4 570.5,1032.2 571.7,1032.3 572.8,1032.7 573.6,1034.2 574.3,1035.5 575.0,1036.3 575.6,1038.2 576.3,1040.7 577.0,1042.5"/>
<polyline stroke="#f2a834" points="79.5,800.0 80.0,811.0 80.5,900.0 79.5,975.0"/>
<polyline stroke="#f2a834" points="101.3,800.0 101.3,801.3 101.3,802.5 101.3,803.7 101.3,804.9 101.4,806.1 101.4,807.5 101.4,809.1 101.4,811.0 101.4,811.8 101.4,812.7 101.4,813.7 101.4,814.7 101.5,815.7 101.5,816.8 101.5,817.9 101.5,819.1 101.5,820.3 101.5,821.5 101.5,822.8 101.5,824.1 101.6,825.5 101.6,826.9 101.6,828.3 101.6,829.7 101.6,831.2 101.6,832.7 101.7,834.3 101.7,835.8 101.7,837.4 101.7,839.0 101.7,840.6 101.8,842.2 101.8,843.9 101.8,845.6 101.8,847.2 101.8,848.9 101.9,850.6 101.9,852.3 101.9,854.0 101.9,855.7 101.9,857.5 102.0,859.2 102.0,860.9 102.0,862.6 102.0,864.4 102.0,866.1 102.1,867.8 102.1,869.5 102.1,871.2 102.1,872.9 102.2,874.5 102.2,876.2 102.2,877.8 102.2,879.4 102.3,881.0 102.3,882.6 102.3,884.2 102.3,885.7 102.4,887.2 102.4,888.7 102.4,890.2 102.4,891.7 102.5,893.3 102.5,894.8 102.5,896.3 102.5,897.9 102.6,899.4 102.6,900.9 102.6,902.5 102.6,904.0 102.7,905.5 102.7,907.0 102.7,908.6 102.7,910.1 102.8,911.6 102.8,913.1 102.8,914.6 102.9,916.2 102.9,917.7 102.9,919.2 102.9,920.7 103.0,922.2 103.0,923.7 103.0,925.2 103.1,926.7 103.1,928.2 103.1,929.7 103.2,931.2 103.2,932.7 103.2,934.1 103.3,935.6 103.3,937.1 103.3,938.6 103.3,940.0 103.4,941.5 103.4,942.9 103.4,944.4 103.5,945.8 103.5,947.3 103.5,948.7 103.6,950.1 103.6,951.6 103.6,953.0 103.7,954.4 103.7,955.8 103.7,957.2 103.8,958.6 103.8,960.0 103.8,961.6 103.9,963.2 103.9,964.8 103.9,966.4 104.0,967.9 104.0,969.5 104.0,971.1 104.0,972.7 104.1,974.3 104.1,975.9 104.1,977.5 104.2,979.0 104.2,980.6 104.2,982.2 104.2,983.7 104.3,985.3 104.3,986.8 104.3,988.3 104.4,989.9 104.4,991.4 104.4,992.9 104.5,994.4 104.5,995.8 104.5,997.3 104.6,998.7 104.6,1000.2 104.7,1001.6 104.7,1003.0 104.8,1004.3 104.8,1005.7 104.9,1007.0 105.0,1008.3 105.1,1009.6 105.1,1010.9 105.2,1012.2 105.3,1013.4 105.4,1015.1 105.6,1016.7 105.7,1018.4 105.8,1019.9 106.0,1021.5 106.1,1023.0 106.3,1024.5 106.5,1026.0 106.6,1027.4 106.8,1028.8 107.0,1030.2 107.2,1031.6 107.3,1033.0 107.5,1034.3 107.7,1035.6 108.0,1036.9 108.2,1038.1 108.4,1039.4 108.7,1041.0 109.0,1042.5 109.3,1044.1 109.6,1045.6 109.9,1047.1 110.2,1048.5 110.5,1049.9 110.9,1051.2 111.3,1052.4 111.7,1053.6 112.2,1054.7 112.9,1055.9 113.6,1057.1 114.3,1058.1 115.1,1059.0 115.9,1059.9 116.7,1060.8 117.6,1061.7 118.6,1062.5 119.5,1063.3 120.4,1064.2 121.3,1065.3 122.0,1066.4 122.6,1067.7 123.2,1069.0 123.7,1070.5 124.3,1071.9 124.8,1073.4 125.3,1074.7 125.9,1076.0 126.5,1077.3 127.1,1078.7 127.8,1080.0 128.4,1081.2 129.0,1082.2 129.7,1082.9 130.9,1083.5 132.0,1083.5 132.7,1082.8 133.3,1081.6 133.9,1080.0 134.4,1078.2 134.6,1077.3 134.8,1076.2 135.0,1075.0 135.1,1073.7 135.3,1072.3 135.4,1070.8 135.5,1069.2 135.6,1067.6 135.7,1066.0 135.8,1064.3 135.9,1062.5 136.0,1060.8 136.1,1059.1 136.2,1057.4 136.4,1055.8 136.5,1054.2 136.7,1052.6 136.9,1051.2 137.1,1049.8 137.4,1048.5 137.7,1047.4 138.2,1045.9 138.8,1044.5 139.4,1043.3 140.0,1042.1 140.6,1041.0 141.3,1039.9 142.0,1038.8 142.6,1037.6 143.2,1036.4 143.8,1035.1 144.3,1033.8 144.9,1032.5 145.4,1031.2 145.9,1029.8 146.5,1028.4 147.0,1027.1 147.6,1025.8 148.1,1024.5 148.7,1023.2 149.3,1021.9 149.9,1020.6 150.5,1019.2 151.1,1017.9 151.7,1016.6 152.3,1015.4 152.9,1014.2 153.6,1013.2 154.2,1012.2 155.1,1011.0 156.0,1009.8 156.9,1008.7 157.8,1008.0 158.6,1007.8 159.3,1008.4 160.0,1009.8 160.6,1011.5 161.2,1013.2 161.9,1014.4 163.0,1015.1 164.2,1015.6 165.2,1016.6 165.5,1017.3 165.8,1018.1 166.0,1019.1 166.2,1020.3 166.4,1021.5 166.5,1022.9 166.6,1024.3 166.7,1025.8 166.8,1027.4 166.8,1029.1 166.8,1030.8 166.9,1032.4 166.9,1034.2 166.9,1035.9 167.0,1037.5 167.0,1039.2 167.1,1040.8 167.2,1042.3 167.3,1043.8 167.4,1045.2 167.6,1046.8 167.7,1048.4 167.9,1050.1 168.0,1051.7 168.2,1053.4 168.3,1055.1 168.5,1056.7 168.6,1058.3 168.8,1059.8 169.1,1061.3 169.3,1062.7 169.6,1064.0 169.9,1065.2 170.3,1066.3 170.7,1067.2 171.5,1068.3 172.4,1069.2 173.4,1069.8 174.3,1070.6 175.2,1071.6 175.7,1072.7 176.2,1073.9 176.5,1075.4 176.9,1077.0 177.2,1078.6 177.5,1080.1 177.9,1081.6 178.4,1082.9 178.9,1084.0 179.6,1084.8 180.7,1085.4 182.1,1085.7 183.5,1085.8 184.9,1085.8 186.2,1085.9 187.6,1086.3 189.0,1086.8 190.4,1087.1 191.7,1087.0 192.7,1086.4 193.6,1085.5 194.5,1084.3 195.4,1083.0 196.3,1081.7 197.3,1080.4 198.3,1079.3 199.3,1078.4 200.4,1077.6 201.5,1076.9 202.7,1076.2 203.8,1075.4 204.9,1074.7 206.0,1073.8 207.0,1072.9 208.0,1072.0 208.9,1071.1 209.9,1070.1 210.8,1069.2 211.8,1068.2 212.7,1067.1 213.7,1066.1 214.7,1065.0 215.6,1063.9 216.6,1062.8 217.5,1061.6 218.5,1060.5 219.5,1059.3 220.5,1058.2 221.5,1057.2 222.5,1056.2 223.6,1055.3 224.8,1054.4 225.9,1053.5 227.1,1052.7 228.3,1051.9 229.5,1051.1 230.6,1050.4 231.6,1049.6 232.8,1048.6 233.8,1047.6 234.9,1046.6 235.9,1045.8 237.1,1045.2 238.4,1044.9 239.7,1044.6 241.1,1044.5 242.5,1044.7 243.7,1045.2 244.7,1046.0 245.7,1047.0 246.5,1048.3 247.4,1049.6 248.3,1050.9 249.2,1052.3 250.1,1053.5 251.0,1054.5 251.8,1055.3 252.8,1056.0 253.7,1056.7 254.7,1057.3 255.8,1057.9 257.0,1058.4 258.2,1058.8 259.5,1058.8 260.8,1058.7 262.2,1059.4 263.4,1060.3 264.6,1060.9 265.8,1062.0 267.0,1063.2 268.2,1064.4 269.3,1065.6 270.3,1066.2 271.3,1066.4 272.3,1066.2 273.1,1065.6 273.9,1064.0 274.8,1062.3 275.7,1060.5 276.5,1059.6 277.4,1059.0 278.4,1058.2 279.3,1057.7 280.3,1056.8 281.3,1055.8 282.3,1055.2 283.3,1054.5 284.4,1053.4 285.5,1052.1 286.6,1050.8 287.7,1050.2 288.8,1049.7 290.0,1048.5 291.1,1047.5 292.3,1046.8 293.6,1046.7 294.8,1046.7 296.1,1045.8 297.4,1044.8 298.6,1043.9 299.9,1043.7 301.2,1043.1 302.5,1041.4 303.7,1040.2 305.0,1039.3 306.3,1038.1 307.5,1037.8 308.7,1038.0 310.1,1037.4 311.5,1036.9 312.8,1036.4 314.1,1034.6 315.3,1033.2 316.4,1032.6 317.5,1031.3 318.5,1030.4 319.7,1029.7 320.9,1028.9 322.3,1029.4 323.8,1030.0 325.2,1029.8 326.6,1029.8 327.9,1029.9 329.3,1029.9 330.6,1029.5 331.9,1029.5 333.2,1029.8 334.5,1030.8 335.9,1032.2 337.3,1033.9 338.6,1034.5 339.8,1034.3 340.7,1033.9 341.6,1033.9 342.4,1036.1 343.2,1039.2 344.0,1041.5 344.8,1043.6 345.6,1044.1 346.4,1044.3 347.2,1043.8 348.1,1041.7 349.0,1039.6 349.8,1038.0 350.7,1036.7 351.5,1035.9 352.3,1035.5 353.0,1035.3 353.8,1035.4 354.5,1036.2 355.2,1038.1 355.9,1039.6 356.6,1041.2 357.4,1042.2 358.1,1041.6 358.8,1040.2 359.5,1039.0 360.3,1037.4 361.1,1035.4 361.9,1033.8 362.7,1031.8 363.6,1030.1 364.4,1029.7 365.2,1030.0 366.1,1031.4 367.0,1033.5 367.9,1035.2 368.9,1037.2 369.8,1039.1 370.8,1039.8 371.8,1040.0 372.9,1040.2 374.1,1040.6 375.3,1040.6 376.6,1039.4 377.8,1037.6 379.1,1035.5 380.4,1035.2 381.7,1036.0 383.0,1035.1 384.2,1034.0 385.5,1033.1 386.7,1032.0 388.0,1031.3 389.2,1031.0 390.5,1031.2 392.0,1031.1 393.4,1030.9 394.9,1030.8 396.4,1031.2 397.9,1032.4 399.3,1033.0 400.6,1032.9 402.0,1032.8 403.3,1034.2 404.5,1035.8 405.8,1035.9 407.0,1035.8 408.1,1035.2 409.1,1034.1 410.1,1032.2 411.1,1030.0 412.0,1028.4 413.0,1028.1 413.9,1028.5 414.7,1027.7 415.6,1027.2 416.4,1028.3 417.1,1029.8 417.8,1031.7 418.6,1033.4 419.4,1034.8 420.5,1035.7 421.6,1036.6 422.7,1037.5 423.8,1037.4 424.7,1037.9 425.6,1037.8 426.6,1035.2 427.5,1032.3 428.4,1030.6 429.3,1029.4 429.9,1028.2 430.5,1027.3 431.1,1025.7 431.6,1024.1 432.2,1022.3 432.7,1020.5 433.3,1018.8 433.9,1017.1 434.5,1017.1 435.1,1015.4 435.7,1012.4 436.3,1011.0 437.0,1010.4 438.0,1010.9 439.1,1012.8 440.3,1013.8 441.4,1014.9 442.5,1016.7 443.6,1016.7 444.7,1016.2 445.9,1016.1 447.0,1015.2 448.0,1015.9 448.6,1017.3 449.2,1018.2 449.7,1019.5 450.3,1021.0 450.8,1022.7 451.3,1024.5 451.7,1026.3 452.3,1028.0 452.8,1030.4 453.3,1031.8 453.9,1032.5 454.6,1032.7 455.6,1031.7 456.7,1030.6 457.9,1030.2 459.1,1029.4 460.2,1029.1 461.3,1028.4 462.1,1026.2 462.9,1023.4 463.7,1021.4 464.5,1020.5 465.3,1019.3 466.1,1017.2 466.8,1014.8 467.6,1013.5 468.3,1013.6 469.0,1013.4 469.9,1013.5 470.7,1015.4 471.6,1017.7 472.4,1019.2 473.4,1019.3 474.4,1018.5 475.6,1016.9 476.7,1014.6 477.9,1013.1 479.0,1012.0 480.0,1011.8 480.6,1012.0 481.1,1013.2 481.5,1016.7 481.9,1018.1 482.3,1019.6 482.6,1021.3 482.9,1023.1 483.3,1024.9 483.6,1026.7 484.0,1028.3 484.4,1029.8 484.9,1031.1 485.5,1032.5 486.5,1034.1 487.6,1035.2 488.8,1034.8 489.9,1034.4 491.0,1035.5 491.9,1036.7 492.7,1036.3 493.5,1033.7 494.3,1031.4 495.1,1029.9 495.9,1027.2 496.7,1025.1 497.6,1024.9 498.9,1024.7 500.3,1024.4 501.7,1024.7 503.1,1025.0 504.2,1024.1 505.4,1022.7 506.5,1021.3 507.6,1020.7 508.6,1020.9 509.8,1020.1 510.9,1020.1 512.0,1019.7 512.8,1019.2 513.6,1018.7 514.4,1015.9 515.2,1014.4 516.0,1015.0 516.8,1016.7 517.7,1019.0 518.5,1019.3 519.4,1019.6 520.3,1020.7 521.3,1021.7 522.3,1023.4 523.3,1024.7 524.3,1024.9 525.3,1025.7 526.2,1026.0 527.1,1025.8 527.9,1025.2 528.8,1024.2 529.6,1022.6 530.4,1021.1 531.3,1020.2 532.2,1018.5 533.1,1016.4 533.9,1015.4 534.7,1014.3 535.4,1014.4 536.0,1016.1 536.7,1017.9 537.3,1018.2 537.9,1020.0 538.4,1021.7 538.9,1023.1 539.3,1024.7 539.6,1026.5 539.9,1028.1 540.2,1029.1 540.6,1029.4 541.1,1030.0 541.6,1029.4 542.2,1028.6 542.9,1028.3 543.5,1026.7 544.2,1024.6 545.0,1022.2 545.7,1020.0 546.6,1018.8 547.6,1018.0 548.7,1017.1 549.7,1015.8 550.8,1014.1 552.0,1012.5 553.3,1012.5 554.6,1013.0 555.8,1013.5 557.0,1014.2 558.2,1013.9 559.2,1012.5 559.6,1011.2 560.0,1011.3 560.4,1010.0 560.7,1008.5 560.9,1006.7 561.2,1004.8 561.4,1002.8 561.6,1000.8 561.8,998.8 562.0,996.8 562.2,995.0 562.4,993.4 562.6,992.1 562.9,991.0 563.2,988.8 563.5,988.4 564.1,989.5 564.8,990.7 565.6,991.7 566.3,994.3 566.9,996.6 567.3,997.0 567.7,998.3 568.1,999.6 568.4,1000.9 568.8,1002.3 569.1,1003.7 569.5,1005.1 569.9,1006.5 570.3,1007.8 570.8,1009.1 571.3,1010.5 571.8,1011.6 572.4,1013.4 572.9,1015.4 573.5,1017.5 574.0,1018.9 574.5,1019.4 575.2,1019.9 575.8,1021.0 576.4,1021.3 577.0,1021.1"/>
<polyline stroke="#7c0a2c" points="85.8,800.0 85.5,811.0 82.0,890.0 78.3,975.0"/>
<polyline stroke="#7c0a2c" points="122.9,800.0 122.9,801.3 122.9,802.6 122.9,803.8 122.9,805.0 123.0,806.3 123.0,807.7 123.0,809.2 123.0,811.0 123.0,812.0 123.0,813.0 123.0,814.1 123.0,815.3 123.1,816.5 123.1,817.7 123.1,819.0 123.1,820.3 123.1,821.7 123.1,823.1 123.2,824.6 123.2,826.1 123.2,827.6 123.2,829.1 123.2,830.7 123.3,832.3 123.3,833.9 123.3,835.5 123.3,837.2 123.3,838.8 123.4,840.5 123.4,842.2 123.4,843.8 123.4,845.5 123.5,847.2 123.5,848.9 123.5,850.5 123.5,852.2 123.6,853.8 123.6,855.5 123.6,857.1 123.6,858.7 123.7,860.3 123.7,861.8 123.7,863.3 123.8,864.7 123.8,866.2 123.8,867.7 123.8,869.2 123.9,870.7 123.9,872.2 123.9,873.7 124.0,875.2 124.0,876.8 124.0,878.3 124.1,879.8 124.1,881.3 124.1,882.9 124.2,884.4 124.2,886.0 124.3,887.5 124.3,889.0 124.3,890.6 124.4,892.1 124.4,893.6 124.4,895.2 124.5,896.7 124.5,898.2 124.6,899.7 124.6,901.2 124.6,902.7 124.7,904.2 124.7,905.7 124.8,907.2 124.8,908.6 124.8,910.1 124.9,911.5 124.9,913.0 125.0,914.4 125.0,915.8 125.1,917.2 125.1,918.6 125.2,920.2 125.2,921.8 125.2,923.4 125.3,925.0 125.3,926.6 125.4,928.2 125.4,929.8 125.5,931.3 125.5,932.9 125.6,934.5 125.6,936.0 125.7,937.6 125.8,939.1 125.8,940.6 125.9,942.2 125.9,943.6 126.0,945.1 126.0,946.6 126.1,948.0 126.1,949.5 126.2,950.9 126.3,952.2 126.3,953.6 126.4,954.9 126.5,956.2 126.5,957.5 126.6,958.8 126.7,960.0 126.8,961.7 126.9,963.2 127.1,964.8 127.2,966.3 127.3,967.7 127.4,969.1 127.6,970.5 127.7,971.9 127.9,973.2 128.0,974.6 128.1,975.9 128.2,977.3 128.4,978.6 128.5,980.0 128.6,981.4 128.7,982.8 128.8,984.3 128.9,985.7 129.1,987.1 129.2,988.5 129.3,989.9 129.4,991.3 129.5,992.7 129.6,994.0 129.7,995.4 129.9,996.7 130.0,998.0 130.2,999.5 130.4,1000.9 130.5,1002.3 130.7,1003.7 131.0,1005.1 131.2,1006.5 131.4,1007.9 131.6,1009.2 131.8,1010.6 132.0,1011.9 132.2,1013.3 132.4,1014.6 132.6,1015.9 132.8,1017.2 133.0,1018.5 133.3,1019.8 133.5,1021.1 133.7,1022.5 134.0,1024.0 134.2,1025.3 134.4,1026.8 134.6,1028.2 134.8,1029.7 135.1,1031.3 135.3,1032.8 135.5,1034.4 135.8,1036.0 136.1,1037.5 136.4,1039.0 136.8,1040.4 137.2,1041.7 137.7,1043.0 138.4,1044.4 139.1,1045.8 139.9,1047.1 140.7,1048.4 141.6,1049.6 142.5,1050.8 143.5,1051.9 144.4,1053.0 145.4,1054.0 146.4,1055.0 147.5,1055.8 148.6,1056.6 149.7,1057.4 150.9,1058.1 152.0,1058.9 153.1,1059.7 154.2,1060.6 155.2,1061.5 156.2,1062.4 157.2,1063.4 158.2,1064.4 159.2,1065.4 160.2,1066.4 161.2,1067.4 162.1,1068.4 163.0,1069.4 164.0,1070.6 164.9,1071.8 165.8,1073.1 166.7,1074.3 167.6,1075.4 168.6,1076.4 169.6,1077.1 170.9,1077.6 172.2,1077.9 173.6,1078.0 175.0,1078.0 176.3,1078.2 177.8,1078.6 179.2,1079.2 180.6,1079.5 181.8,1079.3 182.5,1078.6 183.1,1077.6 183.6,1076.3 184.0,1074.7 184.4,1073.0 184.7,1071.2 185.1,1069.4 185.3,1068.3 185.5,1067.0 185.6,1065.7 185.7,1064.2 185.8,1062.6 185.9,1061.0 185.9,1059.4 186.0,1057.6 186.0,1055.9 186.1,1054.2 186.1,1052.4 186.2,1050.7 186.2,1049.0 186.3,1047.4 186.4,1045.8 186.5,1044.3 186.7,1042.9 186.9,1041.6 187.1,1040.5 187.4,1039.5 187.7,1038.6 188.6,1037.2 189.5,1036.2 190.6,1035.3 191.7,1034.2 192.5,1033.3 193.3,1032.2 194.2,1031.2 195.0,1030.0 195.9,1028.9 196.8,1027.7 197.6,1026.5 198.3,1025.4 199.0,1024.1 199.7,1022.8 200.2,1021.5 200.8,1020.1 201.4,1018.9 202.0,1017.7 202.7,1016.6 203.6,1015.6 204.5,1014.9 205.4,1014.2 206.3,1013.3 207.1,1012.2 207.5,1011.3 207.9,1010.2 208.2,1009.0 208.5,1007.6 208.7,1006.2 209.0,1004.8 209.2,1003.3 209.3,1001.8 209.5,1000.2 209.7,998.7 209.9,997.2 210.1,995.8 210.4,994.5 210.7,993.0 211.0,991.6 211.4,990.1 211.7,988.7 212.0,987.3 212.4,985.9 212.7,984.5 213.0,983.1 213.4,981.7 213.7,980.2 214.0,978.9 214.3,977.6 214.5,976.3 214.8,975.0 215.1,973.6 215.4,972.3 215.6,971.0 215.9,969.6 216.2,968.2 216.5,966.7 216.7,965.2 217.0,963.7 217.2,962.4 217.4,961.0 217.6,959.6 217.8,958.1 218.0,956.5 218.2,954.9 218.4,953.2 218.5,951.6 218.7,949.9 218.9,948.3 219.1,946.7 219.3,945.1 219.5,943.5 219.8,942.0 220.0,940.6 220.2,939.3 220.5,938.1 220.8,937.0 221.1,936.0 221.4,935.1 222.2,933.5 223.0,932.3 223.8,931.3 224.7,930.7 226.0,930.8 227.2,930.7 227.6,930.1 227.9,929.0 228.1,927.5 228.3,925.7 228.5,923.8 228.6,921.7 228.7,919.7 228.8,917.7 228.8,915.9 228.9,914.3 229.1,913.0 229.2,912.2 229.4,911.9 229.7,912.3 230.1,913.3 230.5,914.8 230.8,916.5 231.2,918.2 231.6,919.6 232.0,920.9 232.4,922.2 232.8,923.5 233.3,924.9 233.8,926.3 234.3,927.5 234.8,928.8 235.4,930.2 236.0,931.5 236.6,932.9 237.1,934.4 237.7,935.8 238.2,937.3 238.6,938.5 239.0,939.8 239.3,941.0 239.6,942.3 239.9,943.6 240.2,944.9 240.5,946.2 240.9,947.6 241.2,949.0 241.5,950.5 241.8,951.8 242.1,953.2 242.4,954.6 242.7,956.1 243.0,957.6 243.3,959.1 243.6,960.6 243.9,962.2 244.2,963.7 244.5,965.2 244.8,966.8 245.0,968.3 245.3,969.7 245.6,971.1 245.9,972.5 246.2,974.0 246.5,975.5 246.8,976.9 247.1,978.3 247.4,979.7 247.7,981.1 248.0,982.4 248.3,983.8 248.6,985.1 248.9,986.5 249.2,987.9 249.5,989.3 249.8,990.7 250.0,992.1 250.3,993.6 250.6,995.0 250.8,996.4 251.1,997.8 251.4,999.2 251.7,1000.6 252.1,1002.0 252.5,1003.3 253.0,1004.7 253.5,1006.0 254.0,1008.0 254.5,1008.8 255.1,1010.0 255.7,1011.8 256.3,1013.5 256.9,1014.8 257.4,1015.8 258.0,1016.7 258.5,1017.7 259.1,1019.3 259.6,1020.7 260.1,1022.0 260.7,1023.4 261.2,1024.5 261.8,1026.4 262.3,1028.0 262.9,1029.6 263.5,1031.1 264.2,1032.6 265.0,1033.9 265.8,1035.3 266.6,1036.8 267.4,1037.7 268.2,1038.4 269.1,1039.3 270.0,1039.8 270.9,1041.6 271.8,1043.3 272.7,1044.0 273.7,1044.3 274.7,1044.7 275.7,1045.5 277.0,1046.2 278.3,1046.4 279.6,1046.4 281.0,1046.5 282.3,1047.1 283.6,1048.0 285.0,1049.3 286.3,1050.1 287.6,1049.9 288.9,1049.1 290.2,1049.1 291.6,1048.6 293.0,1048.0 294.3,1048.7 295.5,1049.1 296.5,1048.4 297.4,1046.0 298.3,1043.2 299.1,1041.3 300.0,1040.4 301.0,1040.3 302.2,1040.5 303.6,1040.1 304.9,1039.5 306.3,1039.7 307.6,1038.7 308.8,1038.0 309.9,1038.8 311.1,1038.2 312.1,1037.1 313.1,1036.1 313.7,1034.3 314.2,1031.9 314.6,1030.3 315.0,1028.6 315.3,1026.9 315.7,1025.2 316.0,1023.7 316.4,1021.5 316.9,1020.7 317.5,1020.7 318.5,1021.4 319.7,1022.3 320.8,1022.5 321.9,1022.1 322.7,1021.1 323.4,1019.7 324.1,1018.2 324.7,1016.5 325.3,1015.6 326.0,1014.1 326.6,1012.0 327.2,1011.1 327.8,1010.3 328.5,1009.4 329.1,1008.8 329.7,1007.5 330.3,1006.7 331.0,1006.2 331.7,1003.4 332.5,1001.5 333.3,1001.0 334.1,999.6 334.9,999.4 335.7,998.3 336.5,995.3 337.3,993.2 338.0,992.2 338.7,991.4 339.5,990.5 340.2,989.7 341.1,989.4 342.0,990.0 343.2,990.6 344.5,991.4 345.9,991.4 347.3,990.6 348.6,989.8 349.7,989.0 350.8,988.6 351.9,988.2 353.0,987.5 354.1,987.0 355.2,986.0 356.6,985.1 358.0,985.3 359.4,984.4 360.7,984.1 361.9,985.0 363.0,985.8 364.2,986.9 365.3,987.1 366.3,987.6 367.5,987.2 368.6,986.9 369.6,988.1 370.1,989.4 370.5,989.8 370.9,991.4 371.2,993.4 371.4,995.4 371.7,997.4 371.9,999.3 372.2,1000.8 372.5,1000.8 372.9,1001.3 373.4,1000.4 373.8,1000.6 374.3,998.9 374.8,996.9 375.3,994.9 375.9,994.4 376.5,993.8 377.3,993.4 378.1,992.9 379.0,993.3 380.0,994.1 381.0,994.9 382.0,996.2 383.1,997.3 384.1,998.3 385.2,999.5 386.1,1000.2 387.1,999.0 388.1,996.6 389.1,994.9 390.1,993.1 391.0,991.8 391.9,992.2 392.7,992.9 393.3,992.8 393.9,993.3 394.4,994.6 394.9,996.9 395.4,998.5 395.9,1000.1 396.3,1001.8 396.8,1003.5 397.2,1005.1 397.7,1006.6 398.2,1006.6 398.9,1008.5 399.5,1010.3 400.2,1012.5 400.9,1014.0 401.7,1015.0 402.6,1015.6 403.8,1016.0 405.2,1016.1 406.6,1015.7 408.1,1015.9 409.4,1015.8 410.8,1015.6 412.1,1015.2 413.5,1014.3 414.7,1014.4 415.7,1014.8 416.5,1016.1 417.4,1017.8 418.2,1018.6 418.9,1019.8 419.7,1021.8 420.5,1022.9 421.4,1023.5 422.3,1024.7 423.2,1026.3 424.0,1027.8 424.9,1027.6 425.6,1026.7 426.3,1026.1 426.9,1025.2 427.6,1024.3 428.3,1022.5 428.9,1020.6 429.7,1019.2 430.4,1016.9 431.3,1014.9 432.2,1013.8 433.1,1013.5 434.0,1012.5 435.0,1011.2 435.9,1012.0 437.0,1013.2 438.1,1014.0 439.2,1015.4 440.3,1016.8 441.4,1017.0 442.3,1016.7 443.2,1015.3 444.1,1012.8 444.9,1011.1 445.8,1010.8 446.7,1012.2 447.5,1013.8 448.4,1014.8 449.3,1015.5 450.2,1016.2 451.1,1016.6 452.0,1016.1 453.0,1014.7 453.9,1012.7 454.8,1010.7 455.7,1010.1 456.5,1010.2 457.3,1011.4 458.1,1014.4 458.9,1017.4 459.7,1020.0 460.5,1021.5 461.3,1021.9 462.2,1021.4 463.1,1020.3 464.0,1019.1 464.9,1017.4 465.7,1015.3 466.1,1013.4 466.5,1012.1 466.9,1010.6 467.2,1008.9 467.5,1007.1 467.7,1005.3 468.0,1003.4 468.2,1001.5 468.4,999.7 468.7,998.0 468.9,996.6 469.2,995.3 469.4,994.3 469.8,992.5 470.1,992.1 470.7,992.5 471.4,993.6 472.1,995.6 472.8,996.8 473.4,998.9 473.8,1000.1 474.1,1001.5 474.3,1003.1 474.6,1004.7 474.8,1006.4 475.0,1008.0 475.3,1009.5 475.7,1010.7 476.1,1011.7 476.7,1012.3 477.9,1012.7 479.4,1011.3 480.8,1009.8 482.2,1009.4 483.1,1009.4 484.0,1011.1 484.8,1012.9 485.7,1014.2 486.6,1016.5 487.7,1017.8 488.8,1016.8 489.9,1014.6 491.1,1013.4 492.1,1012.9 493.0,1011.5 493.8,1009.8 494.5,1008.5 495.3,1007.4 496.0,1005.8 496.8,1003.8 497.6,1001.8 498.5,1000.1 499.4,999.1 500.3,998.2 501.3,996.3 502.2,995.0 503.1,994.2 504.0,994.3 504.9,995.3 505.8,996.0 506.7,997.6 507.6,1000.1 508.4,1001.6 509.2,1001.9 509.9,1003.4 510.7,1005.5 511.4,1007.3 512.0,1008.0 512.6,1008.0 513.1,1009.0 513.5,1007.9 513.9,1006.4 514.3,1004.6 514.7,1002.7 515.2,1001.0 515.6,999.7 516.1,998.2 516.6,996.6 517.2,994.8 517.8,993.1 518.4,991.4 518.9,989.2 519.5,987.3 520.1,985.8 520.6,985.6 521.1,985.3 521.7,985.2 522.3,986.7 522.9,989.3 523.4,991.0 524.0,992.6 524.5,994.2 524.9,995.5 525.3,997.1 525.7,998.8 526.0,1000.6 526.4,1002.3 526.7,1003.8 527.1,1005.0 527.5,1005.0 527.9,1005.3 528.3,1004.5 528.8,1004.1 529.3,1003.9 529.7,1002.4 530.2,1000.8 530.7,999.0 531.2,997.3 531.7,995.6 532.1,994.2 532.5,992.7 532.9,991.0 533.3,989.2 533.7,987.5 534.1,985.9 534.5,984.6 534.9,983.0 535.5,981.9 536.6,982.0 537.9,983.0 538.9,985.0 539.3,986.8 539.5,988.1 539.7,989.7 539.8,991.5 539.8,993.3 539.8,995.3 539.8,997.1 539.9,998.8 539.9,1000.3 540.1,1001.5 540.3,1002.7 540.6,1002.6 541.2,1000.9 541.9,999.2 542.6,998.7 543.5,997.3 544.3,995.3 545.0,995.1 545.7,995.0 546.2,995.4 546.7,995.8 547.1,997.4 547.5,999.2 547.9,1000.8 548.5,1000.9 549.1,1001.8 550.0,1002.0 551.0,1001.1 552.1,1000.8 553.2,1001.1 554.2,1000.2 555.3,999.4 556.5,998.7 557.5,997.9 558.4,996.7 558.8,995.0 559.2,993.9 559.5,992.6 559.7,991.3 559.9,989.8 560.0,988.3 560.2,986.8 560.3,985.2 560.5,983.7 560.7,982.2 560.9,980.7 561.1,979.2 561.4,977.6 561.6,975.8 561.9,973.9 562.1,972.1 562.3,970.3 562.6,968.6 562.9,967.1 563.2,965.8 563.5,963.7 563.9,962.9 564.3,962.8 565.1,963.3 565.9,964.0 566.8,965.4 567.7,967.2 568.9,968.2 570.1,968.2 571.1,968.1 571.6,968.4 571.9,972.6 572.2,973.9 572.5,975.3 572.7,976.7 572.9,978.1 573.2,979.5 573.6,980.7 574.1,982.3 574.6,984.2 575.2,985.9 575.8,986.2 576.4,986.1 577.0,987.2"/>
</g>
<text x="44.25 54.59 59.76" y="1135.40" font-size="18.6">0.0</text>
<text x="44.25 54.59 59.76" y="1060.01" font-size="18.6">0.5</text>
<text x="54.59 59.76" y="979.06" font-size="18.6">.0</text><path d="M49.64,979.06 L51.33,979.06 L51.33,966.04 L50.24,966.04 L49.64,967.06 L48.62,967.99 L46.94,968.83 L46.94,970.04 L48.34,969.57 L49.64,968.74Z"/>
<text x="54.59 59.76" y="898.11" font-size="18.6">.5</text><path d="M49.64,898.11 L51.33,898.11 L51.33,885.09 L50.24,885.09 L49.64,886.11 L48.62,887.04 L46.94,887.88 L46.94,889.09 L48.34,888.62 L49.64,887.79Z"/>
<text x="44.25 54.59 59.76" y="822.62" font-size="18.6">2.0</text>
<text x="69.53" y="1158.10" font-size="18.6">0</text>
<text x="164.90 175.24 185.58" y="1158.10" font-size="18.6">000</text><path d="M159.95,1158.10 L161.64,1158.10 L161.64,1145.08 L160.55,1145.08 L159.95,1146.10 L158.93,1147.03 L157.25,1147.87 L157.25,1149.08 L158.65,1148.61 L159.95,1147.78Z"/>
<text x="255.10 265.44 275.78 286.12" y="1158.10" font-size="18.6">2000</text>
<text x="355.64 365.98 376.32 386.66" y="1158.10" font-size="18.6">3000</text>
<text x="456.18 466.52 476.86 487.20" y="1158.10" font-size="18.6">4000</text>
<text x="556.72 567.06 577.40 587.74" y="1158.10" font-size="18.6">5000</text>
<text x="326.05" y="1178.4" text-anchor="middle">t</text>
<line x1="512" y1="832.6" x2="558.4" y2="832.6" stroke="#000000" stroke-width="1.5" opacity="0.9"/>
<text x="482.39 486.96 495.18" y="836.60" font-size="14.6">r=3</text>
<line x1="512" y1="844.88" x2="558.4" y2="844.88" stroke="#e83c1c" stroke-width="1.5" opacity="0.9"/>
<text x="482.39 486.96 495.18" y="848.88" font-size="14.6">r=5</text>
<line x1="512" y1="857.16" x2="558.4" y2="857.16" stroke="#1616d2" stroke-width="1.5" opacity="0.9"/>
<text x="474.58 479.14 495.18" y="861.16" font-size="14.6">r=0</text><path d="M491.60,861.16 L492.93,861.16 L492.93,850.94 L492.07,850.94 L491.60,851.74 L490.80,852.47 L489.48,853.13 L489.48,854.08 L490.58,853.71 L491.60,853.06Z"/>
<line x1="512" y1="869.44" x2="558.4" y2="869.44" stroke="#c4be34" stroke-width="1.5" opacity="0.9"/>
<text x="474.58 479.14 495.18" y="873.44" font-size="14.6">r=5</text><path d="M491.60,873.44 L492.93,873.44 L492.93,863.22 L492.07,863.22 L491.60,864.02 L490.80,864.75 L489.48,865.41 L489.48,866.36 L490.58,865.99 L491.60,865.34Z"/>
<line x1="512" y1="881.72" x2="558.4" y2="881.72" stroke="#f2a834" stroke-width="1.5" opacity="0.9"/>
<text x="474.58 479.14 487.36 495.18" y="885.72" font-size="14.6">r=20</text>
<line x1="512" y1="894" x2="558.4" y2="894" stroke="#7c0a2c" stroke-width="1.5" opacity="0.9"/>
<text x="474.58 479.14 487.36 495.18" y="898.00" font-size="14.6">r=30</text>
<text transform="translate(29.0,1011.0) rotate(-90)" font-size="18.5">M</text><text transform="translate(33.6,996.5) rotate(-90)" font-size="11">ejec</text><line x1="34.2" y1="976.8" x2="16.4" y2="969.9" stroke="#000" stroke-width="1.2"/><text transform="translate(29.0,968.8) rotate(-90)" font-size="18.5">M</text><text transform="translate(34.3,953.8) rotate(-90)" font-size="11">acc</text><circle cx="11.25" cy="1002.8" r="1.1" fill="#000"/><circle cx="11.25" cy="960.8" r="1.1" fill="#000"/>
</g></svg>
</body></html>
